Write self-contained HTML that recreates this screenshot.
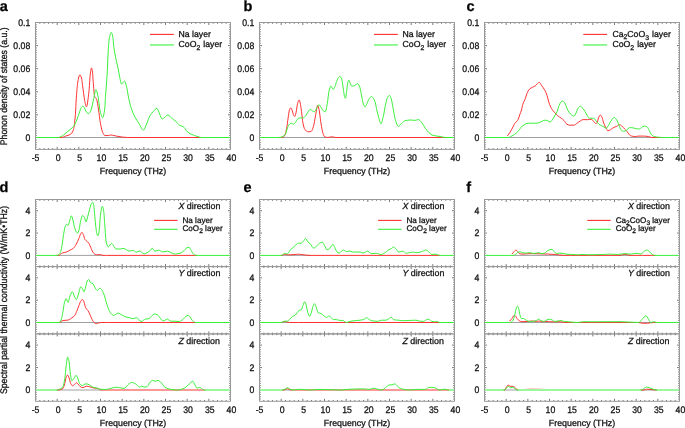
<!DOCTYPE html>
<html><head><meta charset="utf-8"><style>
html,body{margin:0;padding:0;background:#fff;width:685px;height:428px;overflow:hidden;font-family:"Liberation Sans", sans-serif;}
svg text{font-family:"Liberation Sans", sans-serif;stroke:#111;stroke-width:0.28px;text-rendering:geometricPrecision;}
svg{will-change:transform;}
</style></head><body>
<svg width="685" height="428" viewBox="0 0 685 428" style="position:absolute;left:0;top:0">
<rect width="685" height="428" fill="#fff"/>
<g stroke="#6a6a6a" stroke-width="0.9">
<line x1="39.83" y1="149.4" x2="39.83" y2="148.1"/>
<line x1="39.83" y1="22.5" x2="39.83" y2="23.8"/>
<line x1="44.17" y1="149.4" x2="44.17" y2="148.1"/>
<line x1="44.17" y1="22.5" x2="44.17" y2="23.8"/>
<line x1="48.5" y1="149.4" x2="48.5" y2="148.1"/>
<line x1="48.5" y1="22.5" x2="48.5" y2="23.8"/>
<line x1="52.83" y1="149.4" x2="52.83" y2="148.1"/>
<line x1="52.83" y1="22.5" x2="52.83" y2="23.8"/>
<line x1="57.17" y1="149.4" x2="57.17" y2="146.9"/>
<line x1="57.17" y1="22.5" x2="57.17" y2="25"/>
<line x1="61.5" y1="149.4" x2="61.5" y2="148.1"/>
<line x1="61.5" y1="22.5" x2="61.5" y2="23.8"/>
<line x1="65.83" y1="149.4" x2="65.83" y2="148.1"/>
<line x1="65.83" y1="22.5" x2="65.83" y2="23.8"/>
<line x1="70.17" y1="149.4" x2="70.17" y2="148.1"/>
<line x1="70.17" y1="22.5" x2="70.17" y2="23.8"/>
<line x1="74.5" y1="149.4" x2="74.5" y2="148.1"/>
<line x1="74.5" y1="22.5" x2="74.5" y2="23.8"/>
<line x1="78.83" y1="149.4" x2="78.83" y2="146.9"/>
<line x1="78.83" y1="22.5" x2="78.83" y2="25"/>
<line x1="83.17" y1="149.4" x2="83.17" y2="148.1"/>
<line x1="83.17" y1="22.5" x2="83.17" y2="23.8"/>
<line x1="87.5" y1="149.4" x2="87.5" y2="148.1"/>
<line x1="87.5" y1="22.5" x2="87.5" y2="23.8"/>
<line x1="91.83" y1="149.4" x2="91.83" y2="148.1"/>
<line x1="91.83" y1="22.5" x2="91.83" y2="23.8"/>
<line x1="96.17" y1="149.4" x2="96.17" y2="148.1"/>
<line x1="96.17" y1="22.5" x2="96.17" y2="23.8"/>
<line x1="100.5" y1="149.4" x2="100.5" y2="146.9"/>
<line x1="100.5" y1="22.5" x2="100.5" y2="25"/>
<line x1="104.83" y1="149.4" x2="104.83" y2="148.1"/>
<line x1="104.83" y1="22.5" x2="104.83" y2="23.8"/>
<line x1="109.17" y1="149.4" x2="109.17" y2="148.1"/>
<line x1="109.17" y1="22.5" x2="109.17" y2="23.8"/>
<line x1="113.5" y1="149.4" x2="113.5" y2="148.1"/>
<line x1="113.5" y1="22.5" x2="113.5" y2="23.8"/>
<line x1="117.83" y1="149.4" x2="117.83" y2="148.1"/>
<line x1="117.83" y1="22.5" x2="117.83" y2="23.8"/>
<line x1="122.17" y1="149.4" x2="122.17" y2="146.9"/>
<line x1="122.17" y1="22.5" x2="122.17" y2="25"/>
<line x1="126.5" y1="149.4" x2="126.5" y2="148.1"/>
<line x1="126.5" y1="22.5" x2="126.5" y2="23.8"/>
<line x1="130.83" y1="149.4" x2="130.83" y2="148.1"/>
<line x1="130.83" y1="22.5" x2="130.83" y2="23.8"/>
<line x1="135.17" y1="149.4" x2="135.17" y2="148.1"/>
<line x1="135.17" y1="22.5" x2="135.17" y2="23.8"/>
<line x1="139.5" y1="149.4" x2="139.5" y2="148.1"/>
<line x1="139.5" y1="22.5" x2="139.5" y2="23.8"/>
<line x1="143.83" y1="149.4" x2="143.83" y2="146.9"/>
<line x1="143.83" y1="22.5" x2="143.83" y2="25"/>
<line x1="148.17" y1="149.4" x2="148.17" y2="148.1"/>
<line x1="148.17" y1="22.5" x2="148.17" y2="23.8"/>
<line x1="152.5" y1="149.4" x2="152.5" y2="148.1"/>
<line x1="152.5" y1="22.5" x2="152.5" y2="23.8"/>
<line x1="156.83" y1="149.4" x2="156.83" y2="148.1"/>
<line x1="156.83" y1="22.5" x2="156.83" y2="23.8"/>
<line x1="161.17" y1="149.4" x2="161.17" y2="148.1"/>
<line x1="161.17" y1="22.5" x2="161.17" y2="23.8"/>
<line x1="165.5" y1="149.4" x2="165.5" y2="146.9"/>
<line x1="165.5" y1="22.5" x2="165.5" y2="25"/>
<line x1="169.83" y1="149.4" x2="169.83" y2="148.1"/>
<line x1="169.83" y1="22.5" x2="169.83" y2="23.8"/>
<line x1="174.17" y1="149.4" x2="174.17" y2="148.1"/>
<line x1="174.17" y1="22.5" x2="174.17" y2="23.8"/>
<line x1="178.5" y1="149.4" x2="178.5" y2="148.1"/>
<line x1="178.5" y1="22.5" x2="178.5" y2="23.8"/>
<line x1="182.83" y1="149.4" x2="182.83" y2="148.1"/>
<line x1="182.83" y1="22.5" x2="182.83" y2="23.8"/>
<line x1="187.17" y1="149.4" x2="187.17" y2="146.9"/>
<line x1="187.17" y1="22.5" x2="187.17" y2="25"/>
<line x1="191.5" y1="149.4" x2="191.5" y2="148.1"/>
<line x1="191.5" y1="22.5" x2="191.5" y2="23.8"/>
<line x1="195.83" y1="149.4" x2="195.83" y2="148.1"/>
<line x1="195.83" y1="22.5" x2="195.83" y2="23.8"/>
<line x1="200.17" y1="149.4" x2="200.17" y2="148.1"/>
<line x1="200.17" y1="22.5" x2="200.17" y2="23.8"/>
<line x1="204.5" y1="149.4" x2="204.5" y2="148.1"/>
<line x1="204.5" y1="22.5" x2="204.5" y2="23.8"/>
<line x1="208.83" y1="149.4" x2="208.83" y2="146.9"/>
<line x1="208.83" y1="22.5" x2="208.83" y2="25"/>
<line x1="213.17" y1="149.4" x2="213.17" y2="148.1"/>
<line x1="213.17" y1="22.5" x2="213.17" y2="23.8"/>
<line x1="217.5" y1="149.4" x2="217.5" y2="148.1"/>
<line x1="217.5" y1="22.5" x2="217.5" y2="23.8"/>
<line x1="221.83" y1="149.4" x2="221.83" y2="148.1"/>
<line x1="221.83" y1="22.5" x2="221.83" y2="23.8"/>
<line x1="226.17" y1="149.4" x2="226.17" y2="148.1"/>
<line x1="226.17" y1="22.5" x2="226.17" y2="23.8"/>
<line x1="35.5" y1="147.09" x2="36.8" y2="147.09"/>
<line x1="230.5" y1="147.09" x2="229.2" y2="147.09"/>
<line x1="35.5" y1="144.79" x2="36.8" y2="144.79"/>
<line x1="230.5" y1="144.79" x2="229.2" y2="144.79"/>
<line x1="35.5" y1="142.48" x2="36.8" y2="142.48"/>
<line x1="230.5" y1="142.48" x2="229.2" y2="142.48"/>
<line x1="35.5" y1="140.17" x2="36.8" y2="140.17"/>
<line x1="230.5" y1="140.17" x2="229.2" y2="140.17"/>
<line x1="35.5" y1="135.56" x2="36.8" y2="135.56"/>
<line x1="230.5" y1="135.56" x2="229.2" y2="135.56"/>
<line x1="35.5" y1="133.25" x2="36.8" y2="133.25"/>
<line x1="230.5" y1="133.25" x2="229.2" y2="133.25"/>
<line x1="35.5" y1="130.94" x2="36.8" y2="130.94"/>
<line x1="230.5" y1="130.94" x2="229.2" y2="130.94"/>
<line x1="35.5" y1="128.63" x2="36.8" y2="128.63"/>
<line x1="230.5" y1="128.63" x2="229.2" y2="128.63"/>
<line x1="35.5" y1="126.33" x2="36.8" y2="126.33"/>
<line x1="230.5" y1="126.33" x2="229.2" y2="126.33"/>
<line x1="35.5" y1="124.02" x2="36.8" y2="124.02"/>
<line x1="230.5" y1="124.02" x2="229.2" y2="124.02"/>
<line x1="35.5" y1="121.71" x2="36.8" y2="121.71"/>
<line x1="230.5" y1="121.71" x2="229.2" y2="121.71"/>
<line x1="35.5" y1="119.41" x2="36.8" y2="119.41"/>
<line x1="230.5" y1="119.41" x2="229.2" y2="119.41"/>
<line x1="35.5" y1="117.1" x2="36.8" y2="117.1"/>
<line x1="230.5" y1="117.1" x2="229.2" y2="117.1"/>
<line x1="35.5" y1="114.79" x2="38" y2="114.79"/>
<line x1="230.5" y1="114.79" x2="228" y2="114.79"/>
<line x1="35.5" y1="112.48" x2="36.8" y2="112.48"/>
<line x1="230.5" y1="112.48" x2="229.2" y2="112.48"/>
<line x1="35.5" y1="110.18" x2="36.8" y2="110.18"/>
<line x1="230.5" y1="110.18" x2="229.2" y2="110.18"/>
<line x1="35.5" y1="107.87" x2="36.8" y2="107.87"/>
<line x1="230.5" y1="107.87" x2="229.2" y2="107.87"/>
<line x1="35.5" y1="105.56" x2="36.8" y2="105.56"/>
<line x1="230.5" y1="105.56" x2="229.2" y2="105.56"/>
<line x1="35.5" y1="103.25" x2="36.8" y2="103.25"/>
<line x1="230.5" y1="103.25" x2="229.2" y2="103.25"/>
<line x1="35.5" y1="100.95" x2="36.8" y2="100.95"/>
<line x1="230.5" y1="100.95" x2="229.2" y2="100.95"/>
<line x1="35.5" y1="98.64" x2="36.8" y2="98.64"/>
<line x1="230.5" y1="98.64" x2="229.2" y2="98.64"/>
<line x1="35.5" y1="96.33" x2="36.8" y2="96.33"/>
<line x1="230.5" y1="96.33" x2="229.2" y2="96.33"/>
<line x1="35.5" y1="94.03" x2="36.8" y2="94.03"/>
<line x1="230.5" y1="94.03" x2="229.2" y2="94.03"/>
<line x1="35.5" y1="91.72" x2="38" y2="91.72"/>
<line x1="230.5" y1="91.72" x2="228" y2="91.72"/>
<line x1="35.5" y1="89.41" x2="36.8" y2="89.41"/>
<line x1="230.5" y1="89.41" x2="229.2" y2="89.41"/>
<line x1="35.5" y1="87.1" x2="36.8" y2="87.1"/>
<line x1="230.5" y1="87.1" x2="229.2" y2="87.1"/>
<line x1="35.5" y1="84.8" x2="36.8" y2="84.8"/>
<line x1="230.5" y1="84.8" x2="229.2" y2="84.8"/>
<line x1="35.5" y1="82.49" x2="36.8" y2="82.49"/>
<line x1="230.5" y1="82.49" x2="229.2" y2="82.49"/>
<line x1="35.5" y1="80.18" x2="36.8" y2="80.18"/>
<line x1="230.5" y1="80.18" x2="229.2" y2="80.18"/>
<line x1="35.5" y1="77.87" x2="36.8" y2="77.87"/>
<line x1="230.5" y1="77.87" x2="229.2" y2="77.87"/>
<line x1="35.5" y1="75.57" x2="36.8" y2="75.57"/>
<line x1="230.5" y1="75.57" x2="229.2" y2="75.57"/>
<line x1="35.5" y1="73.26" x2="36.8" y2="73.26"/>
<line x1="230.5" y1="73.26" x2="229.2" y2="73.26"/>
<line x1="35.5" y1="70.95" x2="36.8" y2="70.95"/>
<line x1="230.5" y1="70.95" x2="229.2" y2="70.95"/>
<line x1="35.5" y1="68.65" x2="38" y2="68.65"/>
<line x1="230.5" y1="68.65" x2="228" y2="68.65"/>
<line x1="35.5" y1="66.34" x2="36.8" y2="66.34"/>
<line x1="230.5" y1="66.34" x2="229.2" y2="66.34"/>
<line x1="35.5" y1="64.03" x2="36.8" y2="64.03"/>
<line x1="230.5" y1="64.03" x2="229.2" y2="64.03"/>
<line x1="35.5" y1="61.72" x2="36.8" y2="61.72"/>
<line x1="230.5" y1="61.72" x2="229.2" y2="61.72"/>
<line x1="35.5" y1="59.42" x2="36.8" y2="59.42"/>
<line x1="230.5" y1="59.42" x2="229.2" y2="59.42"/>
<line x1="35.5" y1="57.11" x2="36.8" y2="57.11"/>
<line x1="230.5" y1="57.11" x2="229.2" y2="57.11"/>
<line x1="35.5" y1="54.8" x2="36.8" y2="54.8"/>
<line x1="230.5" y1="54.8" x2="229.2" y2="54.8"/>
<line x1="35.5" y1="52.49" x2="36.8" y2="52.49"/>
<line x1="230.5" y1="52.49" x2="229.2" y2="52.49"/>
<line x1="35.5" y1="50.19" x2="36.8" y2="50.19"/>
<line x1="230.5" y1="50.19" x2="229.2" y2="50.19"/>
<line x1="35.5" y1="47.88" x2="36.8" y2="47.88"/>
<line x1="230.5" y1="47.88" x2="229.2" y2="47.88"/>
<line x1="35.5" y1="45.57" x2="38" y2="45.57"/>
<line x1="230.5" y1="45.57" x2="228" y2="45.57"/>
<line x1="35.5" y1="43.27" x2="36.8" y2="43.27"/>
<line x1="230.5" y1="43.27" x2="229.2" y2="43.27"/>
<line x1="35.5" y1="40.96" x2="36.8" y2="40.96"/>
<line x1="230.5" y1="40.96" x2="229.2" y2="40.96"/>
<line x1="35.5" y1="38.65" x2="36.8" y2="38.65"/>
<line x1="230.5" y1="38.65" x2="229.2" y2="38.65"/>
<line x1="35.5" y1="36.34" x2="36.8" y2="36.34"/>
<line x1="230.5" y1="36.34" x2="229.2" y2="36.34"/>
<line x1="35.5" y1="34.04" x2="36.8" y2="34.04"/>
<line x1="230.5" y1="34.04" x2="229.2" y2="34.04"/>
<line x1="35.5" y1="31.73" x2="36.8" y2="31.73"/>
<line x1="230.5" y1="31.73" x2="229.2" y2="31.73"/>
<line x1="35.5" y1="29.42" x2="36.8" y2="29.42"/>
<line x1="230.5" y1="29.42" x2="229.2" y2="29.42"/>
<line x1="35.5" y1="27.11" x2="36.8" y2="27.11"/>
<line x1="230.5" y1="27.11" x2="229.2" y2="27.11"/>
<line x1="35.5" y1="24.81" x2="36.8" y2="24.81"/>
<line x1="230.5" y1="24.81" x2="229.2" y2="24.81"/>
</g>
<line x1="61.1" y1="137.5" x2="128.7" y2="137.5" stroke="#a0a0a0" stroke-width="1"/>
<mask id="m0" maskUnits="userSpaceOnUse" x="0" y="0" width="685" height="428"><rect x="0" y="0" width="685" height="428" fill="#fff"/><rect x="33.5" y="136" width="23.9" height="3" fill="#000"/><rect x="201.7" y="136" width="30.8" height="3" fill="#000"/></mask>
<g fill="none" stroke-width="1.0" stroke-linejoin="round">
<path d="M35.5,137.5L59.5,137.5C60.33,137.5 61.17,137.5 62,137.5C62.93,137.5 63.87,136.63 64.8,136.3C66.17,135.82 67.53,135.67 68.9,135.1C69.87,134.69 70.83,134.13 71.8,133.1C72.3,132.56 72.8,131.6 73.3,130.2C73.6,129.36 73.9,127.94 74.2,126.1C74.4,124.87 74.6,122.72 74.8,120.8C75,118.88 75.2,117.1 75.4,114.5C75.7,110.6 76,102.56 76.3,98.4C76.8,91.47 77.3,84.69 77.8,82C78.5,78.24 79.2,74.8 79.9,74.8C80.43,74.8 80.97,76.28 81.5,78C81.87,79.18 82.23,83.22 82.6,85.8C83.3,90.73 84,97.14 84.7,100.5C85.27,103.22 85.83,106.8 86.4,106.8C87.23,106.8 88.07,99.08 88.9,92.1C89.37,88.19 89.83,77.37 90.3,74C90.7,71.11 91.1,67.9 91.5,67.9C91.83,67.9 92.17,69.83 92.5,72C92.73,73.52 92.97,78.78 93.2,81.6C93.67,87.23 94.13,94.99 94.6,96.3C95.3,98.26 96,97.79 96.7,99.5C97.27,100.88 97.83,105.4 98.4,108.9C99.1,113.22 99.8,120.16 100.5,123.7C101.27,127.57 102.03,131.19 102.8,132.7C103.53,134.14 104.27,135.6 105,135.6C106.13,135.6 107.27,135.56 108.4,135.5C109.33,135.45 110.27,135 111.2,135C112.13,135 113.07,135.41 114,135.6C115.33,135.88 116.67,136.2 118,136.4C121.27,136.89 124.53,137.5 127.8,137.5L140,137.5L230.5,137.5" stroke="#ff3030" mask="url(#m0)"/>
<path d="M35.5,137.5L58.3,137.5C59.27,137.5 60.23,136.95 61.2,136.5C62.03,136.12 62.87,135.42 63.7,134.8C64.87,133.93 66.03,132.87 67.2,131.9C68.37,130.93 69.53,130.01 70.7,129C71.67,128.17 72.63,127.58 73.6,126.4C74.2,125.67 74.8,124.43 75.4,123.2C75.97,122.04 76.53,120.57 77.1,119.1C77.77,117.38 78.43,115.37 79.1,113.5C79.8,111.54 80.5,108.55 81.2,107.6C81.7,106.92 82.2,106.2 82.7,106.2C83.3,106.2 83.9,107 84.5,107.8C84.93,108.38 85.37,110.37 85.8,111C86.7,112.31 87.6,113.6 88.5,113.6C89.33,113.6 90.17,111.76 91,110C91.93,108.02 92.87,102.29 93.8,98.4C94.5,95.48 95.2,89.6 95.9,89.6C96.6,89.6 97.3,93.23 98,96.3C98.7,99.37 99.4,108.35 100.1,111C100.97,114.28 101.83,117.6 102.7,117.6C103.37,117.6 104.03,113.84 104.7,109C105,106.82 105.3,99.15 105.6,95C105.87,91.31 106.13,88.65 106.4,85C106.7,80.89 107,76.81 107.3,71.3C107.57,66.41 107.83,57.43 108.1,53C108.47,46.91 108.83,41 109.2,39C109.9,35.19 110.6,32.3 111.3,32.3C111.77,32.3 112.23,34.21 112.7,36.2C113.17,38.19 113.63,45.71 114.1,48.9C114.8,53.68 115.5,56.68 116.2,60.1C116.93,63.68 117.67,66.39 118.4,70C119,72.95 119.6,77.31 120.2,79.7C120.67,81.56 121.13,84.2 121.6,84.2C122.07,84.2 122.53,82.99 123,82.5C123.5,81.97 124,81.1 124.5,81.1C125.17,81.1 125.83,83.96 126.5,86.3C127.2,88.76 127.9,94.59 128.6,97.8C129.43,101.63 130.27,105 131.1,107.6C132.17,110.93 133.23,113.63 134.3,115.8C135.97,119.19 137.63,121.35 139.3,124C140.63,126.12 141.97,130.2 143.3,130.2C144.4,130.2 145.5,126.35 146.6,124C147.7,121.65 148.8,117.66 149.9,115.8C150.97,114 152.03,112.81 153.1,111.7C154.37,110.38 155.63,108.4 156.9,108.4C157.83,108.4 158.77,112.2 159.7,114.1C160.5,115.73 161.3,119 162.1,119C162.93,119 163.77,117.97 164.6,117.4C165.7,116.65 166.8,115 167.9,115C168.6,115 169.3,115.85 170,116.4C170.93,117.14 171.87,118.43 172.8,119.2C173.9,120.11 175,120.54 176.1,121.5C177.17,122.43 178.23,124.6 179.3,125.2C180.57,125.92 181.83,125.88 183.1,126.6C183.73,126.96 184.37,127.76 185,128.5C185.77,129.4 186.53,131.13 187.3,131.8C188.4,132.76 189.5,133.22 190.6,133.8C191.83,134.45 193.07,135.05 194.3,135.5C195.53,135.95 196.77,136.22 198,136.6C198.93,136.89 199.87,137.5 200.8,137.5L230.5,137.5" stroke="#38f038"/>
</g>
<rect x="35.5" y="22.5" width="195" height="126.9" fill="none" stroke="#999999" stroke-width="1"/>
<g fill="#111" font-family='"Liberation Sans", sans-serif'>
<text transform="matrix(0.906,0,0,1,30.3,141)" text-anchor="end" font-size="9.6">0</text>
<text transform="matrix(0.906,0,0,1,30.3,118)" text-anchor="end" font-size="9.6">0.02</text>
<text transform="matrix(0.906,0,0,1,30.3,95)" text-anchor="end" font-size="9.6">0.04</text>
<text transform="matrix(0.906,0,0,1,30.3,72)" text-anchor="end" font-size="9.6">0.06</text>
<text transform="matrix(0.906,0,0,1,30.3,49)" text-anchor="end" font-size="9.6">0.08</text>
<text transform="matrix(0.906,0,0,1,30.3,26)" text-anchor="end" font-size="9.6">0.1</text>
<text transform="matrix(0.906,0,0,1,35.5,161)" text-anchor="middle" font-size="9.6">-5</text>
<text transform="matrix(0.906,0,0,1,58.07,161)" text-anchor="middle" font-size="9.6">0</text>
<text transform="matrix(0.906,0,0,1,79.73,161)" text-anchor="middle" font-size="9.6">5</text>
<text transform="matrix(0.906,0,0,1,101.4,161)" text-anchor="middle" font-size="9.6">10</text>
<text transform="matrix(0.906,0,0,1,123.07,161)" text-anchor="middle" font-size="9.6">15</text>
<text transform="matrix(0.906,0,0,1,144.73,161)" text-anchor="middle" font-size="9.6">20</text>
<text transform="matrix(0.906,0,0,1,166.4,161)" text-anchor="middle" font-size="9.6">25</text>
<text transform="matrix(0.906,0,0,1,188.07,161)" text-anchor="middle" font-size="9.6">30</text>
<text transform="matrix(0.906,0,0,1,209.73,161)" text-anchor="middle" font-size="9.6">35</text>
<text transform="matrix(0.906,0,0,1,231.4,161)" text-anchor="middle" font-size="9.6">40</text>
<text x="133" y="173.8" text-anchor="middle" font-size="8.85" font-weight="normal" font-style="normal">Frequency (THz)</text>
<line x1="150" y1="34.4" x2="173.8" y2="34.4" stroke="#ff3030" stroke-width="1.1"/>
<line x1="150" y1="44.95" x2="173.8" y2="44.95" stroke="#38f038" stroke-width="1.1"/>
<text x="178.6" y="37.3" text-anchor="start" font-size="8.7" font-weight="normal" font-style="normal">Na layer</text>
<text x="178.6" y="47.1" text-anchor="start" font-size="8.7" font-weight="normal" font-style="normal">CoO<tspan font-size="6.9" dy="2.4">2</tspan><tspan dy="-2.4" dx="0.6"> layer</tspan></text>
</g>
<g stroke="#6a6a6a" stroke-width="0.9">
<line x1="263.83" y1="149.4" x2="263.83" y2="148.1"/>
<line x1="263.83" y1="22.5" x2="263.83" y2="23.8"/>
<line x1="268.17" y1="149.4" x2="268.17" y2="148.1"/>
<line x1="268.17" y1="22.5" x2="268.17" y2="23.8"/>
<line x1="272.5" y1="149.4" x2="272.5" y2="148.1"/>
<line x1="272.5" y1="22.5" x2="272.5" y2="23.8"/>
<line x1="276.83" y1="149.4" x2="276.83" y2="148.1"/>
<line x1="276.83" y1="22.5" x2="276.83" y2="23.8"/>
<line x1="281.17" y1="149.4" x2="281.17" y2="146.9"/>
<line x1="281.17" y1="22.5" x2="281.17" y2="25"/>
<line x1="285.5" y1="149.4" x2="285.5" y2="148.1"/>
<line x1="285.5" y1="22.5" x2="285.5" y2="23.8"/>
<line x1="289.83" y1="149.4" x2="289.83" y2="148.1"/>
<line x1="289.83" y1="22.5" x2="289.83" y2="23.8"/>
<line x1="294.17" y1="149.4" x2="294.17" y2="148.1"/>
<line x1="294.17" y1="22.5" x2="294.17" y2="23.8"/>
<line x1="298.5" y1="149.4" x2="298.5" y2="148.1"/>
<line x1="298.5" y1="22.5" x2="298.5" y2="23.8"/>
<line x1="302.83" y1="149.4" x2="302.83" y2="146.9"/>
<line x1="302.83" y1="22.5" x2="302.83" y2="25"/>
<line x1="307.17" y1="149.4" x2="307.17" y2="148.1"/>
<line x1="307.17" y1="22.5" x2="307.17" y2="23.8"/>
<line x1="311.5" y1="149.4" x2="311.5" y2="148.1"/>
<line x1="311.5" y1="22.5" x2="311.5" y2="23.8"/>
<line x1="315.83" y1="149.4" x2="315.83" y2="148.1"/>
<line x1="315.83" y1="22.5" x2="315.83" y2="23.8"/>
<line x1="320.17" y1="149.4" x2="320.17" y2="148.1"/>
<line x1="320.17" y1="22.5" x2="320.17" y2="23.8"/>
<line x1="324.5" y1="149.4" x2="324.5" y2="146.9"/>
<line x1="324.5" y1="22.5" x2="324.5" y2="25"/>
<line x1="328.83" y1="149.4" x2="328.83" y2="148.1"/>
<line x1="328.83" y1="22.5" x2="328.83" y2="23.8"/>
<line x1="333.17" y1="149.4" x2="333.17" y2="148.1"/>
<line x1="333.17" y1="22.5" x2="333.17" y2="23.8"/>
<line x1="337.5" y1="149.4" x2="337.5" y2="148.1"/>
<line x1="337.5" y1="22.5" x2="337.5" y2="23.8"/>
<line x1="341.83" y1="149.4" x2="341.83" y2="148.1"/>
<line x1="341.83" y1="22.5" x2="341.83" y2="23.8"/>
<line x1="346.17" y1="149.4" x2="346.17" y2="146.9"/>
<line x1="346.17" y1="22.5" x2="346.17" y2="25"/>
<line x1="350.5" y1="149.4" x2="350.5" y2="148.1"/>
<line x1="350.5" y1="22.5" x2="350.5" y2="23.8"/>
<line x1="354.83" y1="149.4" x2="354.83" y2="148.1"/>
<line x1="354.83" y1="22.5" x2="354.83" y2="23.8"/>
<line x1="359.17" y1="149.4" x2="359.17" y2="148.1"/>
<line x1="359.17" y1="22.5" x2="359.17" y2="23.8"/>
<line x1="363.5" y1="149.4" x2="363.5" y2="148.1"/>
<line x1="363.5" y1="22.5" x2="363.5" y2="23.8"/>
<line x1="367.83" y1="149.4" x2="367.83" y2="146.9"/>
<line x1="367.83" y1="22.5" x2="367.83" y2="25"/>
<line x1="372.17" y1="149.4" x2="372.17" y2="148.1"/>
<line x1="372.17" y1="22.5" x2="372.17" y2="23.8"/>
<line x1="376.5" y1="149.4" x2="376.5" y2="148.1"/>
<line x1="376.5" y1="22.5" x2="376.5" y2="23.8"/>
<line x1="380.83" y1="149.4" x2="380.83" y2="148.1"/>
<line x1="380.83" y1="22.5" x2="380.83" y2="23.8"/>
<line x1="385.17" y1="149.4" x2="385.17" y2="148.1"/>
<line x1="385.17" y1="22.5" x2="385.17" y2="23.8"/>
<line x1="389.5" y1="149.4" x2="389.5" y2="146.9"/>
<line x1="389.5" y1="22.5" x2="389.5" y2="25"/>
<line x1="393.83" y1="149.4" x2="393.83" y2="148.1"/>
<line x1="393.83" y1="22.5" x2="393.83" y2="23.8"/>
<line x1="398.17" y1="149.4" x2="398.17" y2="148.1"/>
<line x1="398.17" y1="22.5" x2="398.17" y2="23.8"/>
<line x1="402.5" y1="149.4" x2="402.5" y2="148.1"/>
<line x1="402.5" y1="22.5" x2="402.5" y2="23.8"/>
<line x1="406.83" y1="149.4" x2="406.83" y2="148.1"/>
<line x1="406.83" y1="22.5" x2="406.83" y2="23.8"/>
<line x1="411.17" y1="149.4" x2="411.17" y2="146.9"/>
<line x1="411.17" y1="22.5" x2="411.17" y2="25"/>
<line x1="415.5" y1="149.4" x2="415.5" y2="148.1"/>
<line x1="415.5" y1="22.5" x2="415.5" y2="23.8"/>
<line x1="419.83" y1="149.4" x2="419.83" y2="148.1"/>
<line x1="419.83" y1="22.5" x2="419.83" y2="23.8"/>
<line x1="424.17" y1="149.4" x2="424.17" y2="148.1"/>
<line x1="424.17" y1="22.5" x2="424.17" y2="23.8"/>
<line x1="428.5" y1="149.4" x2="428.5" y2="148.1"/>
<line x1="428.5" y1="22.5" x2="428.5" y2="23.8"/>
<line x1="432.83" y1="149.4" x2="432.83" y2="146.9"/>
<line x1="432.83" y1="22.5" x2="432.83" y2="25"/>
<line x1="437.17" y1="149.4" x2="437.17" y2="148.1"/>
<line x1="437.17" y1="22.5" x2="437.17" y2="23.8"/>
<line x1="441.5" y1="149.4" x2="441.5" y2="148.1"/>
<line x1="441.5" y1="22.5" x2="441.5" y2="23.8"/>
<line x1="445.83" y1="149.4" x2="445.83" y2="148.1"/>
<line x1="445.83" y1="22.5" x2="445.83" y2="23.8"/>
<line x1="450.17" y1="149.4" x2="450.17" y2="148.1"/>
<line x1="450.17" y1="22.5" x2="450.17" y2="23.8"/>
<line x1="259.5" y1="147.09" x2="260.8" y2="147.09"/>
<line x1="454.5" y1="147.09" x2="453.2" y2="147.09"/>
<line x1="259.5" y1="144.79" x2="260.8" y2="144.79"/>
<line x1="454.5" y1="144.79" x2="453.2" y2="144.79"/>
<line x1="259.5" y1="142.48" x2="260.8" y2="142.48"/>
<line x1="454.5" y1="142.48" x2="453.2" y2="142.48"/>
<line x1="259.5" y1="140.17" x2="260.8" y2="140.17"/>
<line x1="454.5" y1="140.17" x2="453.2" y2="140.17"/>
<line x1="259.5" y1="135.56" x2="260.8" y2="135.56"/>
<line x1="454.5" y1="135.56" x2="453.2" y2="135.56"/>
<line x1="259.5" y1="133.25" x2="260.8" y2="133.25"/>
<line x1="454.5" y1="133.25" x2="453.2" y2="133.25"/>
<line x1="259.5" y1="130.94" x2="260.8" y2="130.94"/>
<line x1="454.5" y1="130.94" x2="453.2" y2="130.94"/>
<line x1="259.5" y1="128.63" x2="260.8" y2="128.63"/>
<line x1="454.5" y1="128.63" x2="453.2" y2="128.63"/>
<line x1="259.5" y1="126.33" x2="260.8" y2="126.33"/>
<line x1="454.5" y1="126.33" x2="453.2" y2="126.33"/>
<line x1="259.5" y1="124.02" x2="260.8" y2="124.02"/>
<line x1="454.5" y1="124.02" x2="453.2" y2="124.02"/>
<line x1="259.5" y1="121.71" x2="260.8" y2="121.71"/>
<line x1="454.5" y1="121.71" x2="453.2" y2="121.71"/>
<line x1="259.5" y1="119.41" x2="260.8" y2="119.41"/>
<line x1="454.5" y1="119.41" x2="453.2" y2="119.41"/>
<line x1="259.5" y1="117.1" x2="260.8" y2="117.1"/>
<line x1="454.5" y1="117.1" x2="453.2" y2="117.1"/>
<line x1="259.5" y1="114.79" x2="262" y2="114.79"/>
<line x1="454.5" y1="114.79" x2="452" y2="114.79"/>
<line x1="259.5" y1="112.48" x2="260.8" y2="112.48"/>
<line x1="454.5" y1="112.48" x2="453.2" y2="112.48"/>
<line x1="259.5" y1="110.18" x2="260.8" y2="110.18"/>
<line x1="454.5" y1="110.18" x2="453.2" y2="110.18"/>
<line x1="259.5" y1="107.87" x2="260.8" y2="107.87"/>
<line x1="454.5" y1="107.87" x2="453.2" y2="107.87"/>
<line x1="259.5" y1="105.56" x2="260.8" y2="105.56"/>
<line x1="454.5" y1="105.56" x2="453.2" y2="105.56"/>
<line x1="259.5" y1="103.25" x2="260.8" y2="103.25"/>
<line x1="454.5" y1="103.25" x2="453.2" y2="103.25"/>
<line x1="259.5" y1="100.95" x2="260.8" y2="100.95"/>
<line x1="454.5" y1="100.95" x2="453.2" y2="100.95"/>
<line x1="259.5" y1="98.64" x2="260.8" y2="98.64"/>
<line x1="454.5" y1="98.64" x2="453.2" y2="98.64"/>
<line x1="259.5" y1="96.33" x2="260.8" y2="96.33"/>
<line x1="454.5" y1="96.33" x2="453.2" y2="96.33"/>
<line x1="259.5" y1="94.03" x2="260.8" y2="94.03"/>
<line x1="454.5" y1="94.03" x2="453.2" y2="94.03"/>
<line x1="259.5" y1="91.72" x2="262" y2="91.72"/>
<line x1="454.5" y1="91.72" x2="452" y2="91.72"/>
<line x1="259.5" y1="89.41" x2="260.8" y2="89.41"/>
<line x1="454.5" y1="89.41" x2="453.2" y2="89.41"/>
<line x1="259.5" y1="87.1" x2="260.8" y2="87.1"/>
<line x1="454.5" y1="87.1" x2="453.2" y2="87.1"/>
<line x1="259.5" y1="84.8" x2="260.8" y2="84.8"/>
<line x1="454.5" y1="84.8" x2="453.2" y2="84.8"/>
<line x1="259.5" y1="82.49" x2="260.8" y2="82.49"/>
<line x1="454.5" y1="82.49" x2="453.2" y2="82.49"/>
<line x1="259.5" y1="80.18" x2="260.8" y2="80.18"/>
<line x1="454.5" y1="80.18" x2="453.2" y2="80.18"/>
<line x1="259.5" y1="77.87" x2="260.8" y2="77.87"/>
<line x1="454.5" y1="77.87" x2="453.2" y2="77.87"/>
<line x1="259.5" y1="75.57" x2="260.8" y2="75.57"/>
<line x1="454.5" y1="75.57" x2="453.2" y2="75.57"/>
<line x1="259.5" y1="73.26" x2="260.8" y2="73.26"/>
<line x1="454.5" y1="73.26" x2="453.2" y2="73.26"/>
<line x1="259.5" y1="70.95" x2="260.8" y2="70.95"/>
<line x1="454.5" y1="70.95" x2="453.2" y2="70.95"/>
<line x1="259.5" y1="68.65" x2="262" y2="68.65"/>
<line x1="454.5" y1="68.65" x2="452" y2="68.65"/>
<line x1="259.5" y1="66.34" x2="260.8" y2="66.34"/>
<line x1="454.5" y1="66.34" x2="453.2" y2="66.34"/>
<line x1="259.5" y1="64.03" x2="260.8" y2="64.03"/>
<line x1="454.5" y1="64.03" x2="453.2" y2="64.03"/>
<line x1="259.5" y1="61.72" x2="260.8" y2="61.72"/>
<line x1="454.5" y1="61.72" x2="453.2" y2="61.72"/>
<line x1="259.5" y1="59.42" x2="260.8" y2="59.42"/>
<line x1="454.5" y1="59.42" x2="453.2" y2="59.42"/>
<line x1="259.5" y1="57.11" x2="260.8" y2="57.11"/>
<line x1="454.5" y1="57.11" x2="453.2" y2="57.11"/>
<line x1="259.5" y1="54.8" x2="260.8" y2="54.8"/>
<line x1="454.5" y1="54.8" x2="453.2" y2="54.8"/>
<line x1="259.5" y1="52.49" x2="260.8" y2="52.49"/>
<line x1="454.5" y1="52.49" x2="453.2" y2="52.49"/>
<line x1="259.5" y1="50.19" x2="260.8" y2="50.19"/>
<line x1="454.5" y1="50.19" x2="453.2" y2="50.19"/>
<line x1="259.5" y1="47.88" x2="260.8" y2="47.88"/>
<line x1="454.5" y1="47.88" x2="453.2" y2="47.88"/>
<line x1="259.5" y1="45.57" x2="262" y2="45.57"/>
<line x1="454.5" y1="45.57" x2="452" y2="45.57"/>
<line x1="259.5" y1="43.27" x2="260.8" y2="43.27"/>
<line x1="454.5" y1="43.27" x2="453.2" y2="43.27"/>
<line x1="259.5" y1="40.96" x2="260.8" y2="40.96"/>
<line x1="454.5" y1="40.96" x2="453.2" y2="40.96"/>
<line x1="259.5" y1="38.65" x2="260.8" y2="38.65"/>
<line x1="454.5" y1="38.65" x2="453.2" y2="38.65"/>
<line x1="259.5" y1="36.34" x2="260.8" y2="36.34"/>
<line x1="454.5" y1="36.34" x2="453.2" y2="36.34"/>
<line x1="259.5" y1="34.04" x2="260.8" y2="34.04"/>
<line x1="454.5" y1="34.04" x2="453.2" y2="34.04"/>
<line x1="259.5" y1="31.73" x2="260.8" y2="31.73"/>
<line x1="454.5" y1="31.73" x2="453.2" y2="31.73"/>
<line x1="259.5" y1="29.42" x2="260.8" y2="29.42"/>
<line x1="454.5" y1="29.42" x2="453.2" y2="29.42"/>
<line x1="259.5" y1="27.11" x2="260.8" y2="27.11"/>
<line x1="454.5" y1="27.11" x2="453.2" y2="27.11"/>
<line x1="259.5" y1="24.81" x2="260.8" y2="24.81"/>
<line x1="454.5" y1="24.81" x2="453.2" y2="24.81"/>
</g>
<line x1="281.5" y1="137.5" x2="336.9" y2="137.5" stroke="#a0a0a0" stroke-width="1"/>
<mask id="m1" maskUnits="userSpaceOnUse" x="0" y="0" width="685" height="428"><rect x="0" y="0" width="685" height="428" fill="#fff"/><rect x="257.5" y="136" width="20.8" height="3" fill="#000"/><rect x="446.6" y="136" width="9.9" height="3" fill="#000"/></mask>
<g fill="none" stroke-width="1.0" stroke-linejoin="round">
<path d="M259.5,137.5L282.4,137.5C283.27,137.5 284.13,136.35 285,134.9C285.53,134.01 286.07,131.3 286.6,128.6C287.1,126.07 287.6,121.33 288.1,118.1C288.57,115.09 289.03,110.79 289.5,109.7C289.93,108.69 290.37,107.8 290.8,107.8C291.3,107.8 291.8,109.54 292.3,110.8C292.77,111.97 293.23,114.85 293.7,115.5C294.07,116.01 294.43,116.5 294.8,116.5C295.2,116.5 295.6,114.47 296,112.9C296.53,110.81 297.07,105.07 297.6,103.4C298.13,101.73 298.67,100 299.2,100C299.63,100 300.07,102.47 300.5,104.5C300.93,106.53 301.37,110.52 301.8,113.9C302.13,116.5 302.47,120.61 302.8,122.3C303.53,126.02 304.27,128.93 305,129.7C306.2,130.96 307.4,131.8 308.6,131.8C309.5,131.8 310.4,131.62 311.3,131.3C312,131.05 312.7,128.7 313.4,126.5C314.1,124.3 314.8,119.53 315.5,116C316.2,112.47 316.9,105.3 317.6,105.3C318.1,105.3 318.6,107.62 319.1,109.7C319.63,111.92 320.17,117.84 320.7,121.3C321.23,124.76 321.77,128.66 322.3,130.7C323,133.37 323.7,136.07 324.4,136.5C325.43,137.13 326.47,137.5 327.5,137.5C328.9,137.5 330.3,136.8 331.7,136.8C333.13,136.8 334.57,137.5 336,137.5L454.5,137.5" stroke="#ff3030" mask="url(#m1)"/>
<path d="M259.5,137.5L279.2,137.5C280.43,137.5 281.67,137.04 282.9,136.5C283.77,136.12 284.63,135.22 285.5,133.9C286.2,132.83 286.9,129.15 287.6,127.6C288.3,126.05 289,124.38 289.7,123.9C290.23,123.54 290.77,123.2 291.3,123.2C292,123.2 292.7,124.2 293.4,124.2C294.1,124.2 294.8,123.07 295.5,122.3C296.37,121.35 297.23,119.06 298.1,118.6C298.8,118.23 299.5,117.9 300.2,117.9C301.07,117.9 301.93,117.9 302.8,117.9C303.7,117.9 304.6,116.88 305.5,116C306.37,115.15 307.23,112.95 308.1,111.8C308.8,110.87 309.5,109.4 310.2,109.4C310.9,109.4 311.6,110.41 312.3,110.8C313,111.19 313.7,111.8 314.4,111.8C315.1,111.8 315.8,109.79 316.5,108.7C317.3,107.45 318.1,104.7 318.9,104.7C319.67,104.7 320.43,106.54 321.2,107.6C321.9,108.57 322.6,110.26 323.3,110.8C323.93,111.29 324.57,111.8 325.2,111.8C325.9,111.8 326.6,107.08 327.3,103.5C327.9,100.43 328.5,93.08 329.1,90.7C329.67,88.45 330.23,86 330.8,86C331.6,86 332.4,89.3 333.2,89.3C333.77,89.3 334.33,87.77 334.9,86.6C335.5,85.37 336.1,82.8 336.7,81.3C337.27,79.88 337.83,78.26 338.4,77.6C338.9,77.02 339.4,76.4 339.9,76.4C340.47,76.4 341.03,77.51 341.6,78.8C342.1,79.94 342.6,84.13 343.1,87.2C343.5,89.66 343.9,93.76 344.3,95.3C344.67,96.72 345.03,98.3 345.4,98.3C345.8,98.3 346.2,94.35 346.6,91.8C347,89.25 347.4,83.81 347.8,82.5C348.17,81.3 348.53,80.2 348.9,80.2C349.3,80.2 349.7,82.26 350.1,83.1C350.67,84.29 351.23,86.2 351.8,86.2C352.8,86.2 353.8,85.77 354.8,85.4C355.77,85.04 356.73,83.7 357.7,83.7C358.27,83.7 358.83,84.84 359.4,86C360,87.22 360.6,90.81 361.2,93.6C361.77,96.24 362.33,100.63 362.9,102.4C363.6,104.59 364.3,107 365,107C365.67,107 366.33,104.79 367,103.5C367.8,101.96 368.6,99.27 369.4,98.3C370.1,97.45 370.8,96.5 371.5,96.5C372.13,96.5 372.77,97.45 373.4,98.3C374,99.11 374.6,100.54 375.2,102.4C375.77,104.15 376.33,108.07 376.9,110.5C377.5,113.07 378.1,115.51 378.7,117.5C379.43,119.93 380.17,123.8 380.9,123.8C381.7,123.8 382.5,119.63 383.3,116.5C384,113.76 384.7,108.25 385.4,105.2C386.1,102.15 386.8,98.68 387.5,97.5C388.13,96.43 388.77,95.4 389.4,95.4C389.93,95.4 390.47,96.87 391,98.2C391.7,99.95 392.4,104.6 393.1,108.1C393.8,111.6 394.5,117.02 395.2,119.3C396.23,122.67 397.27,126.3 398.3,126.3C399.4,126.3 400.5,124.41 401.6,123.5C402.77,122.54 403.93,120.97 405.1,120.7C406.97,120.27 408.83,120 410.7,120C412.1,120 413.5,120.4 414.9,120.4C416.07,120.4 417.23,119.6 418.4,119.6C419.57,119.6 420.73,121.44 421.9,122.8C423.07,124.16 424.23,126.8 425.4,128.4C426.57,130 427.73,131.59 428.9,132.6C430.3,133.81 431.7,135.02 433.1,135.4C435.43,136.03 437.77,136.11 440.1,136.5C441.97,136.81 443.83,137.5 445.7,137.5L454.5,137.5" stroke="#38f038"/>
</g>
<rect x="259.5" y="22.5" width="195" height="126.9" fill="none" stroke="#999999" stroke-width="1"/>
<g fill="#111" font-family='"Liberation Sans", sans-serif'>
<text transform="matrix(0.906,0,0,1,254.3,141)" text-anchor="end" font-size="9.6">0</text>
<text transform="matrix(0.906,0,0,1,254.3,118)" text-anchor="end" font-size="9.6">0.02</text>
<text transform="matrix(0.906,0,0,1,254.3,95)" text-anchor="end" font-size="9.6">0.04</text>
<text transform="matrix(0.906,0,0,1,254.3,72)" text-anchor="end" font-size="9.6">0.06</text>
<text transform="matrix(0.906,0,0,1,254.3,49)" text-anchor="end" font-size="9.6">0.08</text>
<text transform="matrix(0.906,0,0,1,254.3,26)" text-anchor="end" font-size="9.6">0.1</text>
<text transform="matrix(0.906,0,0,1,259.5,161)" text-anchor="middle" font-size="9.6">-5</text>
<text transform="matrix(0.906,0,0,1,282.07,161)" text-anchor="middle" font-size="9.6">0</text>
<text transform="matrix(0.906,0,0,1,303.73,161)" text-anchor="middle" font-size="9.6">5</text>
<text transform="matrix(0.906,0,0,1,325.4,161)" text-anchor="middle" font-size="9.6">10</text>
<text transform="matrix(0.906,0,0,1,347.07,161)" text-anchor="middle" font-size="9.6">15</text>
<text transform="matrix(0.906,0,0,1,368.73,161)" text-anchor="middle" font-size="9.6">20</text>
<text transform="matrix(0.906,0,0,1,390.4,161)" text-anchor="middle" font-size="9.6">25</text>
<text transform="matrix(0.906,0,0,1,412.07,161)" text-anchor="middle" font-size="9.6">30</text>
<text transform="matrix(0.906,0,0,1,433.73,161)" text-anchor="middle" font-size="9.6">35</text>
<text transform="matrix(0.906,0,0,1,455.4,161)" text-anchor="middle" font-size="9.6">40</text>
<text x="357" y="173.8" text-anchor="middle" font-size="8.85" font-weight="normal" font-style="normal">Frequency (THz)</text>
<line x1="374" y1="34.4" x2="397.8" y2="34.4" stroke="#ff3030" stroke-width="1.1"/>
<line x1="374" y1="44.95" x2="397.8" y2="44.95" stroke="#38f038" stroke-width="1.1"/>
<text x="402.6" y="37.3" text-anchor="start" font-size="8.7" font-weight="normal" font-style="normal">Na layer</text>
<text x="402.6" y="47.1" text-anchor="start" font-size="8.7" font-weight="normal" font-style="normal">CoO<tspan font-size="6.9" dy="2.4">2</tspan><tspan dy="-2.4" dx="0.6"> layer</tspan></text>
</g>
<g stroke="#6a6a6a" stroke-width="0.9">
<line x1="488.83" y1="149.4" x2="488.83" y2="148.1"/>
<line x1="488.83" y1="22.5" x2="488.83" y2="23.8"/>
<line x1="493.17" y1="149.4" x2="493.17" y2="148.1"/>
<line x1="493.17" y1="22.5" x2="493.17" y2="23.8"/>
<line x1="497.5" y1="149.4" x2="497.5" y2="148.1"/>
<line x1="497.5" y1="22.5" x2="497.5" y2="23.8"/>
<line x1="501.83" y1="149.4" x2="501.83" y2="148.1"/>
<line x1="501.83" y1="22.5" x2="501.83" y2="23.8"/>
<line x1="506.17" y1="149.4" x2="506.17" y2="146.9"/>
<line x1="506.17" y1="22.5" x2="506.17" y2="25"/>
<line x1="510.5" y1="149.4" x2="510.5" y2="148.1"/>
<line x1="510.5" y1="22.5" x2="510.5" y2="23.8"/>
<line x1="514.83" y1="149.4" x2="514.83" y2="148.1"/>
<line x1="514.83" y1="22.5" x2="514.83" y2="23.8"/>
<line x1="519.17" y1="149.4" x2="519.17" y2="148.1"/>
<line x1="519.17" y1="22.5" x2="519.17" y2="23.8"/>
<line x1="523.5" y1="149.4" x2="523.5" y2="148.1"/>
<line x1="523.5" y1="22.5" x2="523.5" y2="23.8"/>
<line x1="527.83" y1="149.4" x2="527.83" y2="146.9"/>
<line x1="527.83" y1="22.5" x2="527.83" y2="25"/>
<line x1="532.17" y1="149.4" x2="532.17" y2="148.1"/>
<line x1="532.17" y1="22.5" x2="532.17" y2="23.8"/>
<line x1="536.5" y1="149.4" x2="536.5" y2="148.1"/>
<line x1="536.5" y1="22.5" x2="536.5" y2="23.8"/>
<line x1="540.83" y1="149.4" x2="540.83" y2="148.1"/>
<line x1="540.83" y1="22.5" x2="540.83" y2="23.8"/>
<line x1="545.17" y1="149.4" x2="545.17" y2="148.1"/>
<line x1="545.17" y1="22.5" x2="545.17" y2="23.8"/>
<line x1="549.5" y1="149.4" x2="549.5" y2="146.9"/>
<line x1="549.5" y1="22.5" x2="549.5" y2="25"/>
<line x1="553.83" y1="149.4" x2="553.83" y2="148.1"/>
<line x1="553.83" y1="22.5" x2="553.83" y2="23.8"/>
<line x1="558.17" y1="149.4" x2="558.17" y2="148.1"/>
<line x1="558.17" y1="22.5" x2="558.17" y2="23.8"/>
<line x1="562.5" y1="149.4" x2="562.5" y2="148.1"/>
<line x1="562.5" y1="22.5" x2="562.5" y2="23.8"/>
<line x1="566.83" y1="149.4" x2="566.83" y2="148.1"/>
<line x1="566.83" y1="22.5" x2="566.83" y2="23.8"/>
<line x1="571.17" y1="149.4" x2="571.17" y2="146.9"/>
<line x1="571.17" y1="22.5" x2="571.17" y2="25"/>
<line x1="575.5" y1="149.4" x2="575.5" y2="148.1"/>
<line x1="575.5" y1="22.5" x2="575.5" y2="23.8"/>
<line x1="579.83" y1="149.4" x2="579.83" y2="148.1"/>
<line x1="579.83" y1="22.5" x2="579.83" y2="23.8"/>
<line x1="584.17" y1="149.4" x2="584.17" y2="148.1"/>
<line x1="584.17" y1="22.5" x2="584.17" y2="23.8"/>
<line x1="588.5" y1="149.4" x2="588.5" y2="148.1"/>
<line x1="588.5" y1="22.5" x2="588.5" y2="23.8"/>
<line x1="592.83" y1="149.4" x2="592.83" y2="146.9"/>
<line x1="592.83" y1="22.5" x2="592.83" y2="25"/>
<line x1="597.17" y1="149.4" x2="597.17" y2="148.1"/>
<line x1="597.17" y1="22.5" x2="597.17" y2="23.8"/>
<line x1="601.5" y1="149.4" x2="601.5" y2="148.1"/>
<line x1="601.5" y1="22.5" x2="601.5" y2="23.8"/>
<line x1="605.83" y1="149.4" x2="605.83" y2="148.1"/>
<line x1="605.83" y1="22.5" x2="605.83" y2="23.8"/>
<line x1="610.17" y1="149.4" x2="610.17" y2="148.1"/>
<line x1="610.17" y1="22.5" x2="610.17" y2="23.8"/>
<line x1="614.5" y1="149.4" x2="614.5" y2="146.9"/>
<line x1="614.5" y1="22.5" x2="614.5" y2="25"/>
<line x1="618.83" y1="149.4" x2="618.83" y2="148.1"/>
<line x1="618.83" y1="22.5" x2="618.83" y2="23.8"/>
<line x1="623.17" y1="149.4" x2="623.17" y2="148.1"/>
<line x1="623.17" y1="22.5" x2="623.17" y2="23.8"/>
<line x1="627.5" y1="149.4" x2="627.5" y2="148.1"/>
<line x1="627.5" y1="22.5" x2="627.5" y2="23.8"/>
<line x1="631.83" y1="149.4" x2="631.83" y2="148.1"/>
<line x1="631.83" y1="22.5" x2="631.83" y2="23.8"/>
<line x1="636.17" y1="149.4" x2="636.17" y2="146.9"/>
<line x1="636.17" y1="22.5" x2="636.17" y2="25"/>
<line x1="640.5" y1="149.4" x2="640.5" y2="148.1"/>
<line x1="640.5" y1="22.5" x2="640.5" y2="23.8"/>
<line x1="644.83" y1="149.4" x2="644.83" y2="148.1"/>
<line x1="644.83" y1="22.5" x2="644.83" y2="23.8"/>
<line x1="649.17" y1="149.4" x2="649.17" y2="148.1"/>
<line x1="649.17" y1="22.5" x2="649.17" y2="23.8"/>
<line x1="653.5" y1="149.4" x2="653.5" y2="148.1"/>
<line x1="653.5" y1="22.5" x2="653.5" y2="23.8"/>
<line x1="657.83" y1="149.4" x2="657.83" y2="146.9"/>
<line x1="657.83" y1="22.5" x2="657.83" y2="25"/>
<line x1="662.17" y1="149.4" x2="662.17" y2="148.1"/>
<line x1="662.17" y1="22.5" x2="662.17" y2="23.8"/>
<line x1="666.5" y1="149.4" x2="666.5" y2="148.1"/>
<line x1="666.5" y1="22.5" x2="666.5" y2="23.8"/>
<line x1="670.83" y1="149.4" x2="670.83" y2="148.1"/>
<line x1="670.83" y1="22.5" x2="670.83" y2="23.8"/>
<line x1="675.17" y1="149.4" x2="675.17" y2="148.1"/>
<line x1="675.17" y1="22.5" x2="675.17" y2="23.8"/>
<line x1="484.5" y1="147.09" x2="485.8" y2="147.09"/>
<line x1="679.5" y1="147.09" x2="678.2" y2="147.09"/>
<line x1="484.5" y1="144.79" x2="485.8" y2="144.79"/>
<line x1="679.5" y1="144.79" x2="678.2" y2="144.79"/>
<line x1="484.5" y1="142.48" x2="485.8" y2="142.48"/>
<line x1="679.5" y1="142.48" x2="678.2" y2="142.48"/>
<line x1="484.5" y1="140.17" x2="485.8" y2="140.17"/>
<line x1="679.5" y1="140.17" x2="678.2" y2="140.17"/>
<line x1="484.5" y1="135.56" x2="485.8" y2="135.56"/>
<line x1="679.5" y1="135.56" x2="678.2" y2="135.56"/>
<line x1="484.5" y1="133.25" x2="485.8" y2="133.25"/>
<line x1="679.5" y1="133.25" x2="678.2" y2="133.25"/>
<line x1="484.5" y1="130.94" x2="485.8" y2="130.94"/>
<line x1="679.5" y1="130.94" x2="678.2" y2="130.94"/>
<line x1="484.5" y1="128.63" x2="485.8" y2="128.63"/>
<line x1="679.5" y1="128.63" x2="678.2" y2="128.63"/>
<line x1="484.5" y1="126.33" x2="485.8" y2="126.33"/>
<line x1="679.5" y1="126.33" x2="678.2" y2="126.33"/>
<line x1="484.5" y1="124.02" x2="485.8" y2="124.02"/>
<line x1="679.5" y1="124.02" x2="678.2" y2="124.02"/>
<line x1="484.5" y1="121.71" x2="485.8" y2="121.71"/>
<line x1="679.5" y1="121.71" x2="678.2" y2="121.71"/>
<line x1="484.5" y1="119.41" x2="485.8" y2="119.41"/>
<line x1="679.5" y1="119.41" x2="678.2" y2="119.41"/>
<line x1="484.5" y1="117.1" x2="485.8" y2="117.1"/>
<line x1="679.5" y1="117.1" x2="678.2" y2="117.1"/>
<line x1="484.5" y1="114.79" x2="487" y2="114.79"/>
<line x1="679.5" y1="114.79" x2="677" y2="114.79"/>
<line x1="484.5" y1="112.48" x2="485.8" y2="112.48"/>
<line x1="679.5" y1="112.48" x2="678.2" y2="112.48"/>
<line x1="484.5" y1="110.18" x2="485.8" y2="110.18"/>
<line x1="679.5" y1="110.18" x2="678.2" y2="110.18"/>
<line x1="484.5" y1="107.87" x2="485.8" y2="107.87"/>
<line x1="679.5" y1="107.87" x2="678.2" y2="107.87"/>
<line x1="484.5" y1="105.56" x2="485.8" y2="105.56"/>
<line x1="679.5" y1="105.56" x2="678.2" y2="105.56"/>
<line x1="484.5" y1="103.25" x2="485.8" y2="103.25"/>
<line x1="679.5" y1="103.25" x2="678.2" y2="103.25"/>
<line x1="484.5" y1="100.95" x2="485.8" y2="100.95"/>
<line x1="679.5" y1="100.95" x2="678.2" y2="100.95"/>
<line x1="484.5" y1="98.64" x2="485.8" y2="98.64"/>
<line x1="679.5" y1="98.64" x2="678.2" y2="98.64"/>
<line x1="484.5" y1="96.33" x2="485.8" y2="96.33"/>
<line x1="679.5" y1="96.33" x2="678.2" y2="96.33"/>
<line x1="484.5" y1="94.03" x2="485.8" y2="94.03"/>
<line x1="679.5" y1="94.03" x2="678.2" y2="94.03"/>
<line x1="484.5" y1="91.72" x2="487" y2="91.72"/>
<line x1="679.5" y1="91.72" x2="677" y2="91.72"/>
<line x1="484.5" y1="89.41" x2="485.8" y2="89.41"/>
<line x1="679.5" y1="89.41" x2="678.2" y2="89.41"/>
<line x1="484.5" y1="87.1" x2="485.8" y2="87.1"/>
<line x1="679.5" y1="87.1" x2="678.2" y2="87.1"/>
<line x1="484.5" y1="84.8" x2="485.8" y2="84.8"/>
<line x1="679.5" y1="84.8" x2="678.2" y2="84.8"/>
<line x1="484.5" y1="82.49" x2="485.8" y2="82.49"/>
<line x1="679.5" y1="82.49" x2="678.2" y2="82.49"/>
<line x1="484.5" y1="80.18" x2="485.8" y2="80.18"/>
<line x1="679.5" y1="80.18" x2="678.2" y2="80.18"/>
<line x1="484.5" y1="77.87" x2="485.8" y2="77.87"/>
<line x1="679.5" y1="77.87" x2="678.2" y2="77.87"/>
<line x1="484.5" y1="75.57" x2="485.8" y2="75.57"/>
<line x1="679.5" y1="75.57" x2="678.2" y2="75.57"/>
<line x1="484.5" y1="73.26" x2="485.8" y2="73.26"/>
<line x1="679.5" y1="73.26" x2="678.2" y2="73.26"/>
<line x1="484.5" y1="70.95" x2="485.8" y2="70.95"/>
<line x1="679.5" y1="70.95" x2="678.2" y2="70.95"/>
<line x1="484.5" y1="68.65" x2="487" y2="68.65"/>
<line x1="679.5" y1="68.65" x2="677" y2="68.65"/>
<line x1="484.5" y1="66.34" x2="485.8" y2="66.34"/>
<line x1="679.5" y1="66.34" x2="678.2" y2="66.34"/>
<line x1="484.5" y1="64.03" x2="485.8" y2="64.03"/>
<line x1="679.5" y1="64.03" x2="678.2" y2="64.03"/>
<line x1="484.5" y1="61.72" x2="485.8" y2="61.72"/>
<line x1="679.5" y1="61.72" x2="678.2" y2="61.72"/>
<line x1="484.5" y1="59.42" x2="485.8" y2="59.42"/>
<line x1="679.5" y1="59.42" x2="678.2" y2="59.42"/>
<line x1="484.5" y1="57.11" x2="485.8" y2="57.11"/>
<line x1="679.5" y1="57.11" x2="678.2" y2="57.11"/>
<line x1="484.5" y1="54.8" x2="485.8" y2="54.8"/>
<line x1="679.5" y1="54.8" x2="678.2" y2="54.8"/>
<line x1="484.5" y1="52.49" x2="485.8" y2="52.49"/>
<line x1="679.5" y1="52.49" x2="678.2" y2="52.49"/>
<line x1="484.5" y1="50.19" x2="485.8" y2="50.19"/>
<line x1="679.5" y1="50.19" x2="678.2" y2="50.19"/>
<line x1="484.5" y1="47.88" x2="485.8" y2="47.88"/>
<line x1="679.5" y1="47.88" x2="678.2" y2="47.88"/>
<line x1="484.5" y1="45.57" x2="487" y2="45.57"/>
<line x1="679.5" y1="45.57" x2="677" y2="45.57"/>
<line x1="484.5" y1="43.27" x2="485.8" y2="43.27"/>
<line x1="679.5" y1="43.27" x2="678.2" y2="43.27"/>
<line x1="484.5" y1="40.96" x2="485.8" y2="40.96"/>
<line x1="679.5" y1="40.96" x2="678.2" y2="40.96"/>
<line x1="484.5" y1="38.65" x2="485.8" y2="38.65"/>
<line x1="679.5" y1="38.65" x2="678.2" y2="38.65"/>
<line x1="484.5" y1="36.34" x2="485.8" y2="36.34"/>
<line x1="679.5" y1="36.34" x2="678.2" y2="36.34"/>
<line x1="484.5" y1="34.04" x2="485.8" y2="34.04"/>
<line x1="679.5" y1="34.04" x2="678.2" y2="34.04"/>
<line x1="484.5" y1="31.73" x2="485.8" y2="31.73"/>
<line x1="679.5" y1="31.73" x2="678.2" y2="31.73"/>
<line x1="484.5" y1="29.42" x2="485.8" y2="29.42"/>
<line x1="679.5" y1="29.42" x2="678.2" y2="29.42"/>
<line x1="484.5" y1="27.11" x2="485.8" y2="27.11"/>
<line x1="679.5" y1="27.11" x2="678.2" y2="27.11"/>
<line x1="484.5" y1="24.81" x2="485.8" y2="24.81"/>
<line x1="679.5" y1="24.81" x2="678.2" y2="24.81"/>
</g>
<line x1="507.6" y1="137.5" x2="652.9" y2="137.5" stroke="#a0a0a0" stroke-width="1"/>
<mask id="m2" maskUnits="userSpaceOnUse" x="0" y="0" width="685" height="428"><rect x="0" y="0" width="685" height="428" fill="#fff"/><rect x="482.5" y="136" width="25.1" height="3" fill="#000"/><rect x="663.3" y="136" width="18.2" height="3" fill="#000"/></mask>
<g fill="none" stroke-width="1.0" stroke-linejoin="round">
<path d="M484.5,137.5L504.3,137.5C504.97,137.5 505.63,137.15 506.3,136.8C506.83,136.52 507.37,135.9 507.9,135.3C508.57,134.55 509.23,133.43 509.9,132.4C510.6,131.32 511.3,130.18 512,128.9C512.47,128.05 512.93,127.03 513.4,126.1C513.87,125.17 514.33,123.94 514.8,123.3C515.5,122.35 516.2,122.05 516.9,121.2C517.37,120.63 517.83,120.03 518.3,119.1C518.77,118.17 519.23,116.23 519.7,114.9C520.3,113.18 520.9,112.04 521.5,110C521.93,108.53 522.37,105.64 522.8,104.3C523.63,101.71 524.47,100.8 525.3,98.6C525.83,97.19 526.37,94.94 526.9,93.7C527.7,91.83 528.5,90.08 529.3,89.3C530.4,88.23 531.5,87.8 532.6,87.2C533.43,86.75 534.27,86.55 535.1,86C535.8,85.54 536.5,84.52 537.2,83.9C537.87,83.31 538.53,82.3 539.2,82.3C540,82.3 540.8,84.38 541.6,85.5C542.7,87.04 543.8,88.35 544.9,90.4C545.6,91.7 546.3,93.38 547,95.4C547.67,97.32 548.33,100.77 549,102.7C549.8,105.02 550.6,107.07 551.4,108.4C552.5,110.22 553.6,111.24 554.7,112.5C555.73,113.68 556.77,114.93 557.8,115.8C558.97,116.78 560.13,117.29 561.3,118.2C562.23,118.93 563.17,119.73 564.1,120.7C565.03,121.67 565.97,123.68 566.9,124.2C567.83,124.72 568.77,125.2 569.7,125.2C571.1,125.2 572.5,125.2 573.9,125.2C574.83,125.2 575.77,124.11 576.7,123.5C577.87,122.74 579.03,121.67 580.2,121C581.17,120.45 582.13,119.6 583.1,119.6C584.5,119.6 585.9,119.7 587.3,119.7C588.7,119.7 590.1,119.3 591.5,119.3C592.2,119.3 592.9,120.7 593.6,121.4C594.3,122.1 595,123.5 595.7,123.5C596.17,123.5 596.63,123.21 597.1,122.8C597.57,122.39 598.03,118.92 598.5,117.9C599.1,116.59 599.7,115.1 600.3,115.1C600.87,115.1 601.43,116.15 602,117.2C602.47,118.07 602.93,120.78 603.4,122.1C604.1,124.09 604.8,125.7 605.5,127C606.33,128.54 607.17,130.8 608,130.8C608.8,130.8 609.6,130.23 610.4,129.8C611.33,129.3 612.27,128.19 613.2,127.7C614.37,127.08 615.53,126.87 616.7,126.3C617.67,125.83 618.63,124.5 619.6,124.5C620.27,124.5 620.93,125.27 621.6,125.8C622.57,126.57 623.53,127.9 624.5,128.9C625.3,129.73 626.1,130.36 626.9,131.3C627.67,132.2 628.43,133.93 629.2,134.6C630,135.3 630.8,135.93 631.6,136.1C632.7,136.33 633.8,136.5 634.9,136.5C636.17,136.5 637.43,136.1 638.7,136.1C640.3,136.1 641.9,136.1 643.5,136.1C645.07,136.1 646.63,136.29 648.2,136.5C649.47,136.67 650.73,137.5 652,137.5L679.5,137.5" stroke="#ff3030" mask="url(#m2)"/>
<path d="M484.5,137.5L508.5,137.5C509.2,137.5 509.9,136.92 510.6,136.6C511.53,136.17 512.47,135.76 513.4,135.2C514.33,134.64 515.27,133.91 516.2,133.1C516.9,132.5 517.6,131.8 518.3,131C519,130.2 519.7,129.07 520.4,128.2C521,127.45 521.6,126.55 522.2,126.1C522.8,125.65 523.4,125.47 524,125.1C524.7,124.66 525.4,123.73 526.1,123.6C527.47,123.34 528.83,123.2 530.2,123.2C532.1,123.2 534,123.2 535.9,123.2C537,123.2 538.1,122.96 539.2,122.7C540.27,122.45 541.33,121.42 542.4,121C543.23,120.67 544.07,120.2 544.9,120.2C545.83,120.2 546.77,120.45 547.7,120.7C548.57,120.93 549.43,122 550.3,122C550.93,122 551.57,120.73 552.2,119.9C553.03,118.81 553.87,117.21 554.7,115.8C555.5,114.45 556.3,113.39 557.1,111.6C557.8,110.03 558.5,106.71 559.2,105.2C559.9,103.69 560.6,102.15 561.3,101.7C561.87,101.33 562.43,101 563,101C563.6,101 564.2,102.17 564.8,103.1C565.5,104.19 566.2,106.58 566.9,108.1C567.6,109.62 568.3,111.35 569,112.3C569.93,113.56 570.87,114.47 571.8,115.1C572.5,115.57 573.2,116.2 573.9,116.2C574.6,116.2 575.3,114.29 576,113C576.7,111.71 577.4,108.94 578.1,108.1C578.9,107.14 579.7,106.2 580.5,106.2C581.37,106.2 582.23,107.8 583.1,108.8C583.8,109.6 584.5,110.48 585.2,111.6C585.9,112.72 586.6,114.78 587.3,115.8C588,116.82 588.7,118.2 589.4,118.2C590.33,118.2 591.27,118.2 592.2,118.2C592.9,118.2 593.6,118.37 594.3,118.6C595,118.83 595.7,120.54 596.4,121.4C597.1,122.26 597.8,123.22 598.5,123.8C599.43,124.58 600.37,125.08 601.3,125.6C602.23,126.12 603.17,126.46 604.1,127C604.8,127.4 605.5,128.4 606.2,128.4C606.9,128.4 607.6,126.65 608.3,125.6C609.23,124.2 610.17,121.92 611.1,120.7C612.13,119.35 613.17,117.5 614.2,117.5C615.03,117.5 615.87,118.84 616.7,120C617.4,120.98 618.1,123.12 618.8,124.7C619.6,126.51 620.4,129.57 621.2,130.2C621.97,130.8 622.73,131.3 623.5,131.3C624.47,131.3 625.43,130.86 626.4,130.4C627.33,129.96 628.27,127.7 629.2,127.7C630,127.7 630.8,127.7 631.6,127.7C632.7,127.7 633.8,128.07 634.9,128.3C635.7,128.47 636.5,128.9 637.3,128.9C638.1,128.9 638.9,128.9 639.7,128.9C640.47,128.9 641.23,127.4 642,127C642.8,126.59 643.6,126.1 644.4,126.1C645.37,126.1 646.33,126.46 647.3,127C647.93,127.35 648.57,129.2 649.2,130.4C649.83,131.6 650.47,133.42 651.1,134.2C651.87,135.14 652.63,135.9 653.4,136.2C654.5,136.63 655.6,136.85 656.7,137C658.6,137.26 660.5,137.5 662.4,137.5L679.5,137.5" stroke="#38f038"/>
</g>
<rect x="484.5" y="22.5" width="195" height="126.9" fill="none" stroke="#999999" stroke-width="1"/>
<g fill="#111" font-family='"Liberation Sans", sans-serif'>
<text transform="matrix(0.906,0,0,1,479.3,141)" text-anchor="end" font-size="9.6">0</text>
<text transform="matrix(0.906,0,0,1,479.3,118)" text-anchor="end" font-size="9.6">0.02</text>
<text transform="matrix(0.906,0,0,1,479.3,95)" text-anchor="end" font-size="9.6">0.04</text>
<text transform="matrix(0.906,0,0,1,479.3,72)" text-anchor="end" font-size="9.6">0.06</text>
<text transform="matrix(0.906,0,0,1,479.3,49)" text-anchor="end" font-size="9.6">0.08</text>
<text transform="matrix(0.906,0,0,1,479.3,26)" text-anchor="end" font-size="9.6">0.1</text>
<text transform="matrix(0.906,0,0,1,484.5,161)" text-anchor="middle" font-size="9.6">-5</text>
<text transform="matrix(0.906,0,0,1,507.07,161)" text-anchor="middle" font-size="9.6">0</text>
<text transform="matrix(0.906,0,0,1,528.73,161)" text-anchor="middle" font-size="9.6">5</text>
<text transform="matrix(0.906,0,0,1,550.4,161)" text-anchor="middle" font-size="9.6">10</text>
<text transform="matrix(0.906,0,0,1,572.07,161)" text-anchor="middle" font-size="9.6">15</text>
<text transform="matrix(0.906,0,0,1,593.73,161)" text-anchor="middle" font-size="9.6">20</text>
<text transform="matrix(0.906,0,0,1,615.4,161)" text-anchor="middle" font-size="9.6">25</text>
<text transform="matrix(0.906,0,0,1,637.07,161)" text-anchor="middle" font-size="9.6">30</text>
<text transform="matrix(0.906,0,0,1,658.73,161)" text-anchor="middle" font-size="9.6">35</text>
<text transform="matrix(0.906,0,0,1,680.4,161)" text-anchor="middle" font-size="9.6">40</text>
<text x="582" y="173.8" text-anchor="middle" font-size="8.85" font-weight="normal" font-style="normal">Frequency (THz)</text>
<line x1="583.3" y1="34.4" x2="607.1" y2="34.4" stroke="#ff3030" stroke-width="1.1"/>
<line x1="583.3" y1="44.95" x2="607.1" y2="44.95" stroke="#38f038" stroke-width="1.1"/>
<text x="612.4" y="37.3" text-anchor="start" font-size="8.7" font-weight="normal" font-style="normal">Ca<tspan font-size="6.9" dy="2.0">2</tspan><tspan dy="-2.0">CoO</tspan><tspan font-size="6.9" dy="2.2">3</tspan><tspan dy="-2.2" dx="0.6"> layer</tspan></text>
<text x="612.4" y="47.1" text-anchor="start" font-size="8.7" font-weight="normal" font-style="normal">CoO<tspan font-size="6.9" dy="2.4">2</tspan><tspan dy="-2.4" dx="0.6"> layer</tspan></text>
</g>
<g stroke="#6a6a6a" stroke-width="0.9">
<line x1="39.83" y1="266.6" x2="39.83" y2="265.3"/>
<line x1="39.83" y1="199.5" x2="39.83" y2="200.8"/>
<line x1="44.17" y1="266.6" x2="44.17" y2="265.3"/>
<line x1="44.17" y1="199.5" x2="44.17" y2="200.8"/>
<line x1="48.5" y1="266.6" x2="48.5" y2="265.3"/>
<line x1="48.5" y1="199.5" x2="48.5" y2="200.8"/>
<line x1="52.83" y1="266.6" x2="52.83" y2="265.3"/>
<line x1="52.83" y1="199.5" x2="52.83" y2="200.8"/>
<line x1="57.17" y1="266.6" x2="57.17" y2="264.1"/>
<line x1="57.17" y1="199.5" x2="57.17" y2="202"/>
<line x1="61.5" y1="266.6" x2="61.5" y2="265.3"/>
<line x1="61.5" y1="199.5" x2="61.5" y2="200.8"/>
<line x1="65.83" y1="266.6" x2="65.83" y2="265.3"/>
<line x1="65.83" y1="199.5" x2="65.83" y2="200.8"/>
<line x1="70.17" y1="266.6" x2="70.17" y2="265.3"/>
<line x1="70.17" y1="199.5" x2="70.17" y2="200.8"/>
<line x1="74.5" y1="266.6" x2="74.5" y2="265.3"/>
<line x1="74.5" y1="199.5" x2="74.5" y2="200.8"/>
<line x1="78.83" y1="266.6" x2="78.83" y2="264.1"/>
<line x1="78.83" y1="199.5" x2="78.83" y2="202"/>
<line x1="83.17" y1="266.6" x2="83.17" y2="265.3"/>
<line x1="83.17" y1="199.5" x2="83.17" y2="200.8"/>
<line x1="87.5" y1="266.6" x2="87.5" y2="265.3"/>
<line x1="87.5" y1="199.5" x2="87.5" y2="200.8"/>
<line x1="91.83" y1="266.6" x2="91.83" y2="265.3"/>
<line x1="91.83" y1="199.5" x2="91.83" y2="200.8"/>
<line x1="96.17" y1="266.6" x2="96.17" y2="265.3"/>
<line x1="96.17" y1="199.5" x2="96.17" y2="200.8"/>
<line x1="100.5" y1="266.6" x2="100.5" y2="264.1"/>
<line x1="100.5" y1="199.5" x2="100.5" y2="202"/>
<line x1="104.83" y1="266.6" x2="104.83" y2="265.3"/>
<line x1="104.83" y1="199.5" x2="104.83" y2="200.8"/>
<line x1="109.17" y1="266.6" x2="109.17" y2="265.3"/>
<line x1="109.17" y1="199.5" x2="109.17" y2="200.8"/>
<line x1="113.5" y1="266.6" x2="113.5" y2="265.3"/>
<line x1="113.5" y1="199.5" x2="113.5" y2="200.8"/>
<line x1="117.83" y1="266.6" x2="117.83" y2="265.3"/>
<line x1="117.83" y1="199.5" x2="117.83" y2="200.8"/>
<line x1="122.17" y1="266.6" x2="122.17" y2="264.1"/>
<line x1="122.17" y1="199.5" x2="122.17" y2="202"/>
<line x1="126.5" y1="266.6" x2="126.5" y2="265.3"/>
<line x1="126.5" y1="199.5" x2="126.5" y2="200.8"/>
<line x1="130.83" y1="266.6" x2="130.83" y2="265.3"/>
<line x1="130.83" y1="199.5" x2="130.83" y2="200.8"/>
<line x1="135.17" y1="266.6" x2="135.17" y2="265.3"/>
<line x1="135.17" y1="199.5" x2="135.17" y2="200.8"/>
<line x1="139.5" y1="266.6" x2="139.5" y2="265.3"/>
<line x1="139.5" y1="199.5" x2="139.5" y2="200.8"/>
<line x1="143.83" y1="266.6" x2="143.83" y2="264.1"/>
<line x1="143.83" y1="199.5" x2="143.83" y2="202"/>
<line x1="148.17" y1="266.6" x2="148.17" y2="265.3"/>
<line x1="148.17" y1="199.5" x2="148.17" y2="200.8"/>
<line x1="152.5" y1="266.6" x2="152.5" y2="265.3"/>
<line x1="152.5" y1="199.5" x2="152.5" y2="200.8"/>
<line x1="156.83" y1="266.6" x2="156.83" y2="265.3"/>
<line x1="156.83" y1="199.5" x2="156.83" y2="200.8"/>
<line x1="161.17" y1="266.6" x2="161.17" y2="265.3"/>
<line x1="161.17" y1="199.5" x2="161.17" y2="200.8"/>
<line x1="165.5" y1="266.6" x2="165.5" y2="264.1"/>
<line x1="165.5" y1="199.5" x2="165.5" y2="202"/>
<line x1="169.83" y1="266.6" x2="169.83" y2="265.3"/>
<line x1="169.83" y1="199.5" x2="169.83" y2="200.8"/>
<line x1="174.17" y1="266.6" x2="174.17" y2="265.3"/>
<line x1="174.17" y1="199.5" x2="174.17" y2="200.8"/>
<line x1="178.5" y1="266.6" x2="178.5" y2="265.3"/>
<line x1="178.5" y1="199.5" x2="178.5" y2="200.8"/>
<line x1="182.83" y1="266.6" x2="182.83" y2="265.3"/>
<line x1="182.83" y1="199.5" x2="182.83" y2="200.8"/>
<line x1="187.17" y1="266.6" x2="187.17" y2="264.1"/>
<line x1="187.17" y1="199.5" x2="187.17" y2="202"/>
<line x1="191.5" y1="266.6" x2="191.5" y2="265.3"/>
<line x1="191.5" y1="199.5" x2="191.5" y2="200.8"/>
<line x1="195.83" y1="266.6" x2="195.83" y2="265.3"/>
<line x1="195.83" y1="199.5" x2="195.83" y2="200.8"/>
<line x1="200.17" y1="266.6" x2="200.17" y2="265.3"/>
<line x1="200.17" y1="199.5" x2="200.17" y2="200.8"/>
<line x1="204.5" y1="266.6" x2="204.5" y2="265.3"/>
<line x1="204.5" y1="199.5" x2="204.5" y2="200.8"/>
<line x1="208.83" y1="266.6" x2="208.83" y2="264.1"/>
<line x1="208.83" y1="199.5" x2="208.83" y2="202"/>
<line x1="213.17" y1="266.6" x2="213.17" y2="265.3"/>
<line x1="213.17" y1="199.5" x2="213.17" y2="200.8"/>
<line x1="217.5" y1="266.6" x2="217.5" y2="265.3"/>
<line x1="217.5" y1="199.5" x2="217.5" y2="200.8"/>
<line x1="221.83" y1="266.6" x2="221.83" y2="265.3"/>
<line x1="221.83" y1="199.5" x2="221.83" y2="200.8"/>
<line x1="226.17" y1="266.6" x2="226.17" y2="265.3"/>
<line x1="226.17" y1="199.5" x2="226.17" y2="200.8"/>
<line x1="35.5" y1="264.36" x2="36.8" y2="264.36"/>
<line x1="230.5" y1="264.36" x2="229.2" y2="264.36"/>
<line x1="35.5" y1="262.13" x2="36.8" y2="262.13"/>
<line x1="230.5" y1="262.13" x2="229.2" y2="262.13"/>
<line x1="35.5" y1="259.89" x2="36.8" y2="259.89"/>
<line x1="230.5" y1="259.89" x2="229.2" y2="259.89"/>
<line x1="35.5" y1="257.65" x2="36.8" y2="257.65"/>
<line x1="230.5" y1="257.65" x2="229.2" y2="257.65"/>
<line x1="35.5" y1="253.18" x2="36.8" y2="253.18"/>
<line x1="230.5" y1="253.18" x2="229.2" y2="253.18"/>
<line x1="35.5" y1="250.94" x2="36.8" y2="250.94"/>
<line x1="230.5" y1="250.94" x2="229.2" y2="250.94"/>
<line x1="35.5" y1="248.71" x2="36.8" y2="248.71"/>
<line x1="230.5" y1="248.71" x2="229.2" y2="248.71"/>
<line x1="35.5" y1="246.47" x2="36.8" y2="246.47"/>
<line x1="230.5" y1="246.47" x2="229.2" y2="246.47"/>
<line x1="35.5" y1="244.23" x2="36.8" y2="244.23"/>
<line x1="230.5" y1="244.23" x2="229.2" y2="244.23"/>
<line x1="35.5" y1="242" x2="36.8" y2="242"/>
<line x1="230.5" y1="242" x2="229.2" y2="242"/>
<line x1="35.5" y1="239.76" x2="36.8" y2="239.76"/>
<line x1="230.5" y1="239.76" x2="229.2" y2="239.76"/>
<line x1="35.5" y1="237.52" x2="36.8" y2="237.52"/>
<line x1="230.5" y1="237.52" x2="229.2" y2="237.52"/>
<line x1="35.5" y1="235.29" x2="36.8" y2="235.29"/>
<line x1="230.5" y1="235.29" x2="229.2" y2="235.29"/>
<line x1="35.5" y1="233.05" x2="38" y2="233.05"/>
<line x1="230.5" y1="233.05" x2="228" y2="233.05"/>
<line x1="35.5" y1="230.81" x2="36.8" y2="230.81"/>
<line x1="230.5" y1="230.81" x2="229.2" y2="230.81"/>
<line x1="35.5" y1="228.58" x2="36.8" y2="228.58"/>
<line x1="230.5" y1="228.58" x2="229.2" y2="228.58"/>
<line x1="35.5" y1="226.34" x2="36.8" y2="226.34"/>
<line x1="230.5" y1="226.34" x2="229.2" y2="226.34"/>
<line x1="35.5" y1="224.1" x2="36.8" y2="224.1"/>
<line x1="230.5" y1="224.1" x2="229.2" y2="224.1"/>
<line x1="35.5" y1="221.87" x2="36.8" y2="221.87"/>
<line x1="230.5" y1="221.87" x2="229.2" y2="221.87"/>
<line x1="35.5" y1="219.63" x2="36.8" y2="219.63"/>
<line x1="230.5" y1="219.63" x2="229.2" y2="219.63"/>
<line x1="35.5" y1="217.39" x2="36.8" y2="217.39"/>
<line x1="230.5" y1="217.39" x2="229.2" y2="217.39"/>
<line x1="35.5" y1="215.16" x2="36.8" y2="215.16"/>
<line x1="230.5" y1="215.16" x2="229.2" y2="215.16"/>
<line x1="35.5" y1="212.92" x2="36.8" y2="212.92"/>
<line x1="230.5" y1="212.92" x2="229.2" y2="212.92"/>
<line x1="35.5" y1="210.68" x2="38" y2="210.68"/>
<line x1="230.5" y1="210.68" x2="228" y2="210.68"/>
<line x1="35.5" y1="208.45" x2="36.8" y2="208.45"/>
<line x1="230.5" y1="208.45" x2="229.2" y2="208.45"/>
<line x1="35.5" y1="206.21" x2="36.8" y2="206.21"/>
<line x1="230.5" y1="206.21" x2="229.2" y2="206.21"/>
<line x1="35.5" y1="203.97" x2="36.8" y2="203.97"/>
<line x1="230.5" y1="203.97" x2="229.2" y2="203.97"/>
<line x1="35.5" y1="201.74" x2="36.8" y2="201.74"/>
<line x1="230.5" y1="201.74" x2="229.2" y2="201.74"/>
</g>
<line x1="57.8" y1="255.4" x2="103.9" y2="255.4" stroke="#a0a0a0" stroke-width="1"/>
<mask id="m10" maskUnits="userSpaceOnUse" x="0" y="0" width="685" height="428"><rect x="0" y="0" width="685" height="428" fill="#fff"/><rect x="33.5" y="253.9" width="22.6" height="3" fill="#000"/><rect x="197" y="253.9" width="35.5" height="3" fill="#000"/></mask>
<g fill="none" stroke-width="1.0" stroke-linejoin="round">
<path d="M35.5,255.4L58.7,255.4C59.87,255.4 61.03,253.42 62.2,253C63.6,252.5 65,252.46 66.4,252C67.57,251.62 68.73,250.83 69.9,250.2C71.07,249.57 72.23,249.16 73.4,248.2C74.33,247.43 75.27,245.88 76.2,244.3C77.07,242.83 77.93,240.77 78.8,238.7C79.37,237.34 79.93,235.17 80.5,234.2C80.97,233.4 81.43,232.4 81.9,232.4C82.37,232.4 82.83,233.57 83.3,234.5C83.83,235.57 84.37,238.62 84.9,239.4C85.53,240.33 86.17,240.6 86.8,241.2C87.4,241.77 88,242.12 88.6,242.9C89.27,243.76 89.93,245.66 90.6,247.1C91.33,248.68 92.07,250.98 92.8,252C93.6,253.11 94.4,254.2 95.2,254.4C96.13,254.64 97.07,254.8 98,254.8C98.87,254.8 99.73,254.6 100.6,254.6C101.4,254.6 102.2,255.4 103,255.4C104.2,255.4 105.4,255.4 106.6,255.4L230.5,255.4" stroke="#ff3030" mask="url(#m10)"/>
<path d="M35.5,255.4L57,255.4C57.57,255.4 58.13,255.12 58.7,254.8C59.4,254.4 60.1,253.11 60.8,251.3C61.27,250.09 61.73,247.02 62.2,244.3C62.67,241.58 63.13,237.22 63.6,234.5C64.17,231.2 64.73,227.18 65.3,226.1C65.77,225.21 66.23,224.4 66.7,224.4C67.17,224.4 67.63,225.4 68.1,225.4C68.7,225.4 69.3,221.58 69.9,219.8C70.37,218.41 70.83,215.8 71.3,215.8C71.77,215.8 72.23,217.69 72.7,219.1C73.33,221.02 73.97,225.43 74.6,227.5C75.13,229.24 75.67,230.94 76.2,231.7C76.67,232.37 77.13,233.1 77.6,233.1C78.1,233.1 78.6,231.25 79.1,229.6C79.63,227.84 80.17,222.44 80.7,220.5C81.33,218.2 81.97,215.5 82.6,215.5C83.2,215.5 83.8,216.64 84.4,217.6C84.97,218.51 85.53,221.9 86.1,221.9C86.67,221.9 87.23,218.24 87.8,216.2C88.4,214.04 89,211.27 89.6,209.2C90.2,207.13 90.8,204.54 91.4,203.6C91.83,202.92 92.27,202.2 92.7,202.2C93.07,202.2 93.43,203.89 93.8,205.7C94.13,207.34 94.47,212.74 94.8,216.2C95.17,220.01 95.53,224.84 95.9,227.5C96.37,230.88 96.83,234.92 97.3,235.2C97.6,235.38 97.9,235.5 98.2,235.5C98.53,235.5 98.87,233 99.2,230.8C99.67,227.72 100.13,217.11 100.6,214C101.17,210.22 101.73,206.3 102.3,206.3C102.77,206.3 103.23,208.58 103.7,211.2C104.07,213.26 104.43,220.67 104.8,225.2C105.27,230.97 105.73,240.09 106.2,242C106.9,244.86 107.6,246.9 108.3,246.9C109.37,246.9 110.43,243.4 111.5,243.4C112.3,243.4 113.1,245.2 113.9,246.2C114.6,247.07 115.3,249 116,249C117.4,249 118.8,249 120.2,249C121.13,249 122.07,248.3 123,248.3C124.17,248.3 125.33,249.18 126.5,249.7C127.43,250.12 128.37,251.1 129.3,251.1C130.47,251.1 131.63,250.4 132.8,250.4C133.97,250.4 135.13,252.1 136.3,252.1C137.47,252.1 138.63,251.1 139.8,251.1C141.2,251.1 142.6,253.9 144,253.9C145.17,253.9 146.33,253.12 147.5,252.5C148.43,252.01 149.37,251.26 150.3,250.4C150.93,249.82 151.57,248.2 152.2,248.2C153.07,248.2 153.93,251.2 154.8,251.2C156.2,251.2 157.6,250.1 159,250.1C160.17,250.1 161.33,251.9 162.5,251.9C164.13,251.9 165.77,251.2 167.4,251.2C168.57,251.2 169.73,252.13 170.9,252.6C172.07,253.07 173.23,254 174.4,254C176.27,254 178.13,253.71 180,253.3C181.4,253 182.8,251.64 184.2,250.5C185.13,249.74 186.07,247.99 187,247.7C187.7,247.48 188.4,247.3 189.1,247.3C189.8,247.3 190.5,249.39 191.2,250.5C191.9,251.61 192.6,253.45 193.3,254C194.23,254.74 195.17,255.4 196.1,255.4L230.5,255.4" stroke="#38f038"/>
</g>
<rect x="35.5" y="199.5" width="195" height="67.1" fill="none" stroke="#999999" stroke-width="1"/>
<g fill="#111" font-family='"Liberation Sans", sans-serif'>
<text transform="matrix(0.906,0,0,1,30.3,258.6)" text-anchor="end" font-size="9.6">0</text>
<text transform="matrix(0.906,0,0,1,30.3,236.23)" text-anchor="end" font-size="9.6">2</text>
<text transform="matrix(0.906,0,0,1,30.3,213.87)" text-anchor="end" font-size="9.6">4</text>
<text x="178.4" y="209.1" text-anchor="start" font-size="8.9" font-weight="normal" font-style="normal"><tspan font-style="italic">X</tspan> direction</text>
</g>
<g stroke="#6a6a6a" stroke-width="0.9">
<line x1="39.83" y1="333.9" x2="39.83" y2="332.6"/>
<line x1="39.83" y1="266.6" x2="39.83" y2="267.9"/>
<line x1="44.17" y1="333.9" x2="44.17" y2="332.6"/>
<line x1="44.17" y1="266.6" x2="44.17" y2="267.9"/>
<line x1="48.5" y1="333.9" x2="48.5" y2="332.6"/>
<line x1="48.5" y1="266.6" x2="48.5" y2="267.9"/>
<line x1="52.83" y1="333.9" x2="52.83" y2="332.6"/>
<line x1="52.83" y1="266.6" x2="52.83" y2="267.9"/>
<line x1="57.17" y1="333.9" x2="57.17" y2="331.4"/>
<line x1="57.17" y1="266.6" x2="57.17" y2="269.1"/>
<line x1="61.5" y1="333.9" x2="61.5" y2="332.6"/>
<line x1="61.5" y1="266.6" x2="61.5" y2="267.9"/>
<line x1="65.83" y1="333.9" x2="65.83" y2="332.6"/>
<line x1="65.83" y1="266.6" x2="65.83" y2="267.9"/>
<line x1="70.17" y1="333.9" x2="70.17" y2="332.6"/>
<line x1="70.17" y1="266.6" x2="70.17" y2="267.9"/>
<line x1="74.5" y1="333.9" x2="74.5" y2="332.6"/>
<line x1="74.5" y1="266.6" x2="74.5" y2="267.9"/>
<line x1="78.83" y1="333.9" x2="78.83" y2="331.4"/>
<line x1="78.83" y1="266.6" x2="78.83" y2="269.1"/>
<line x1="83.17" y1="333.9" x2="83.17" y2="332.6"/>
<line x1="83.17" y1="266.6" x2="83.17" y2="267.9"/>
<line x1="87.5" y1="333.9" x2="87.5" y2="332.6"/>
<line x1="87.5" y1="266.6" x2="87.5" y2="267.9"/>
<line x1="91.83" y1="333.9" x2="91.83" y2="332.6"/>
<line x1="91.83" y1="266.6" x2="91.83" y2="267.9"/>
<line x1="96.17" y1="333.9" x2="96.17" y2="332.6"/>
<line x1="96.17" y1="266.6" x2="96.17" y2="267.9"/>
<line x1="100.5" y1="333.9" x2="100.5" y2="331.4"/>
<line x1="100.5" y1="266.6" x2="100.5" y2="269.1"/>
<line x1="104.83" y1="333.9" x2="104.83" y2="332.6"/>
<line x1="104.83" y1="266.6" x2="104.83" y2="267.9"/>
<line x1="109.17" y1="333.9" x2="109.17" y2="332.6"/>
<line x1="109.17" y1="266.6" x2="109.17" y2="267.9"/>
<line x1="113.5" y1="333.9" x2="113.5" y2="332.6"/>
<line x1="113.5" y1="266.6" x2="113.5" y2="267.9"/>
<line x1="117.83" y1="333.9" x2="117.83" y2="332.6"/>
<line x1="117.83" y1="266.6" x2="117.83" y2="267.9"/>
<line x1="122.17" y1="333.9" x2="122.17" y2="331.4"/>
<line x1="122.17" y1="266.6" x2="122.17" y2="269.1"/>
<line x1="126.5" y1="333.9" x2="126.5" y2="332.6"/>
<line x1="126.5" y1="266.6" x2="126.5" y2="267.9"/>
<line x1="130.83" y1="333.9" x2="130.83" y2="332.6"/>
<line x1="130.83" y1="266.6" x2="130.83" y2="267.9"/>
<line x1="135.17" y1="333.9" x2="135.17" y2="332.6"/>
<line x1="135.17" y1="266.6" x2="135.17" y2="267.9"/>
<line x1="139.5" y1="333.9" x2="139.5" y2="332.6"/>
<line x1="139.5" y1="266.6" x2="139.5" y2="267.9"/>
<line x1="143.83" y1="333.9" x2="143.83" y2="331.4"/>
<line x1="143.83" y1="266.6" x2="143.83" y2="269.1"/>
<line x1="148.17" y1="333.9" x2="148.17" y2="332.6"/>
<line x1="148.17" y1="266.6" x2="148.17" y2="267.9"/>
<line x1="152.5" y1="333.9" x2="152.5" y2="332.6"/>
<line x1="152.5" y1="266.6" x2="152.5" y2="267.9"/>
<line x1="156.83" y1="333.9" x2="156.83" y2="332.6"/>
<line x1="156.83" y1="266.6" x2="156.83" y2="267.9"/>
<line x1="161.17" y1="333.9" x2="161.17" y2="332.6"/>
<line x1="161.17" y1="266.6" x2="161.17" y2="267.9"/>
<line x1="165.5" y1="333.9" x2="165.5" y2="331.4"/>
<line x1="165.5" y1="266.6" x2="165.5" y2="269.1"/>
<line x1="169.83" y1="333.9" x2="169.83" y2="332.6"/>
<line x1="169.83" y1="266.6" x2="169.83" y2="267.9"/>
<line x1="174.17" y1="333.9" x2="174.17" y2="332.6"/>
<line x1="174.17" y1="266.6" x2="174.17" y2="267.9"/>
<line x1="178.5" y1="333.9" x2="178.5" y2="332.6"/>
<line x1="178.5" y1="266.6" x2="178.5" y2="267.9"/>
<line x1="182.83" y1="333.9" x2="182.83" y2="332.6"/>
<line x1="182.83" y1="266.6" x2="182.83" y2="267.9"/>
<line x1="187.17" y1="333.9" x2="187.17" y2="331.4"/>
<line x1="187.17" y1="266.6" x2="187.17" y2="269.1"/>
<line x1="191.5" y1="333.9" x2="191.5" y2="332.6"/>
<line x1="191.5" y1="266.6" x2="191.5" y2="267.9"/>
<line x1="195.83" y1="333.9" x2="195.83" y2="332.6"/>
<line x1="195.83" y1="266.6" x2="195.83" y2="267.9"/>
<line x1="200.17" y1="333.9" x2="200.17" y2="332.6"/>
<line x1="200.17" y1="266.6" x2="200.17" y2="267.9"/>
<line x1="204.5" y1="333.9" x2="204.5" y2="332.6"/>
<line x1="204.5" y1="266.6" x2="204.5" y2="267.9"/>
<line x1="208.83" y1="333.9" x2="208.83" y2="331.4"/>
<line x1="208.83" y1="266.6" x2="208.83" y2="269.1"/>
<line x1="213.17" y1="333.9" x2="213.17" y2="332.6"/>
<line x1="213.17" y1="266.6" x2="213.17" y2="267.9"/>
<line x1="217.5" y1="333.9" x2="217.5" y2="332.6"/>
<line x1="217.5" y1="266.6" x2="217.5" y2="267.9"/>
<line x1="221.83" y1="333.9" x2="221.83" y2="332.6"/>
<line x1="221.83" y1="266.6" x2="221.83" y2="267.9"/>
<line x1="226.17" y1="333.9" x2="226.17" y2="332.6"/>
<line x1="226.17" y1="266.6" x2="226.17" y2="267.9"/>
<line x1="35.5" y1="331.66" x2="36.8" y2="331.66"/>
<line x1="230.5" y1="331.66" x2="229.2" y2="331.66"/>
<line x1="35.5" y1="329.41" x2="36.8" y2="329.41"/>
<line x1="230.5" y1="329.41" x2="229.2" y2="329.41"/>
<line x1="35.5" y1="327.17" x2="36.8" y2="327.17"/>
<line x1="230.5" y1="327.17" x2="229.2" y2="327.17"/>
<line x1="35.5" y1="324.93" x2="36.8" y2="324.93"/>
<line x1="230.5" y1="324.93" x2="229.2" y2="324.93"/>
<line x1="35.5" y1="320.44" x2="36.8" y2="320.44"/>
<line x1="230.5" y1="320.44" x2="229.2" y2="320.44"/>
<line x1="35.5" y1="318.2" x2="36.8" y2="318.2"/>
<line x1="230.5" y1="318.2" x2="229.2" y2="318.2"/>
<line x1="35.5" y1="315.95" x2="36.8" y2="315.95"/>
<line x1="230.5" y1="315.95" x2="229.2" y2="315.95"/>
<line x1="35.5" y1="313.71" x2="36.8" y2="313.71"/>
<line x1="230.5" y1="313.71" x2="229.2" y2="313.71"/>
<line x1="35.5" y1="311.47" x2="36.8" y2="311.47"/>
<line x1="230.5" y1="311.47" x2="229.2" y2="311.47"/>
<line x1="35.5" y1="309.22" x2="36.8" y2="309.22"/>
<line x1="230.5" y1="309.22" x2="229.2" y2="309.22"/>
<line x1="35.5" y1="306.98" x2="36.8" y2="306.98"/>
<line x1="230.5" y1="306.98" x2="229.2" y2="306.98"/>
<line x1="35.5" y1="304.74" x2="36.8" y2="304.74"/>
<line x1="230.5" y1="304.74" x2="229.2" y2="304.74"/>
<line x1="35.5" y1="302.49" x2="36.8" y2="302.49"/>
<line x1="230.5" y1="302.49" x2="229.2" y2="302.49"/>
<line x1="35.5" y1="300.25" x2="38" y2="300.25"/>
<line x1="230.5" y1="300.25" x2="228" y2="300.25"/>
<line x1="35.5" y1="298.01" x2="36.8" y2="298.01"/>
<line x1="230.5" y1="298.01" x2="229.2" y2="298.01"/>
<line x1="35.5" y1="295.76" x2="36.8" y2="295.76"/>
<line x1="230.5" y1="295.76" x2="229.2" y2="295.76"/>
<line x1="35.5" y1="293.52" x2="36.8" y2="293.52"/>
<line x1="230.5" y1="293.52" x2="229.2" y2="293.52"/>
<line x1="35.5" y1="291.28" x2="36.8" y2="291.28"/>
<line x1="230.5" y1="291.28" x2="229.2" y2="291.28"/>
<line x1="35.5" y1="289.03" x2="36.8" y2="289.03"/>
<line x1="230.5" y1="289.03" x2="229.2" y2="289.03"/>
<line x1="35.5" y1="286.79" x2="36.8" y2="286.79"/>
<line x1="230.5" y1="286.79" x2="229.2" y2="286.79"/>
<line x1="35.5" y1="284.55" x2="36.8" y2="284.55"/>
<line x1="230.5" y1="284.55" x2="229.2" y2="284.55"/>
<line x1="35.5" y1="282.3" x2="36.8" y2="282.3"/>
<line x1="230.5" y1="282.3" x2="229.2" y2="282.3"/>
<line x1="35.5" y1="280.06" x2="36.8" y2="280.06"/>
<line x1="230.5" y1="280.06" x2="229.2" y2="280.06"/>
<line x1="35.5" y1="277.82" x2="38" y2="277.82"/>
<line x1="230.5" y1="277.82" x2="228" y2="277.82"/>
<line x1="35.5" y1="275.57" x2="36.8" y2="275.57"/>
<line x1="230.5" y1="275.57" x2="229.2" y2="275.57"/>
<line x1="35.5" y1="273.33" x2="36.8" y2="273.33"/>
<line x1="230.5" y1="273.33" x2="229.2" y2="273.33"/>
<line x1="35.5" y1="271.09" x2="36.8" y2="271.09"/>
<line x1="230.5" y1="271.09" x2="229.2" y2="271.09"/>
<line x1="35.5" y1="268.84" x2="36.8" y2="268.84"/>
<line x1="230.5" y1="268.84" x2="229.2" y2="268.84"/>
</g>
<line x1="58.4" y1="322.5" x2="102.3" y2="322.5" stroke="#a0a0a0" stroke-width="1"/>
<mask id="m11" maskUnits="userSpaceOnUse" x="0" y="0" width="685" height="428"><rect x="0" y="0" width="685" height="428" fill="#fff"/><rect x="33.5" y="321" width="23.6" height="3" fill="#000"/><rect x="196.3" y="321" width="36.2" height="3" fill="#000"/></mask>
<g fill="none" stroke-width="1.0" stroke-linejoin="round">
<path d="M35.5,322.5L59.3,322.5C60.53,322.5 61.77,320.68 63,320.5C64.67,320.26 66.33,320.34 68,320.1C69.23,319.92 70.47,318.73 71.7,317.9C72.67,317.25 73.63,316.8 74.6,315.7C75.3,314.91 76,313.01 76.7,311.4C77.43,309.71 78.17,307.41 78.9,305.6C79.63,303.79 80.37,301.27 81.1,300.5C81.57,300.01 82.03,299.5 82.5,299.5C83,299.5 83.5,300.89 84,302C84.57,303.26 85.13,306.73 85.7,307.8C86.47,309.24 87.23,309.5 88,310.7C88.6,311.64 89.2,313.03 89.8,314.3C90.53,315.86 91.27,317.96 92,319.3C92.7,320.58 93.4,321.94 94.1,322.5C94.83,323.09 95.57,323.7 96.3,323.7C97.03,323.7 97.77,323.17 98.5,323C99.47,322.78 100.43,322.5 101.4,322.5C103.33,322.5 105.27,322.5 107.2,322.5L230.5,322.5" stroke="#ff3030" mask="url(#m11)"/>
<path d="M35.5,322.5L58,322.5C58.43,322.5 58.87,322.5 59.3,322.5C60.03,322.5 60.77,320.56 61.5,318.6C62,317.27 62.5,314.11 63,311.4C63.47,308.87 63.93,304.29 64.4,302.7C65,300.66 65.6,298.6 66.2,298.6C66.8,298.6 67.4,302.4 68,302.4C68.73,302.4 69.47,296.98 70.2,295.4C70.93,293.82 71.67,291.8 72.4,291.8C73.13,291.8 73.87,295.6 74.6,296.9C75.2,297.96 75.8,299.5 76.4,299.5C77.1,299.5 77.8,296.01 78.5,294C79.27,291.8 80.03,286.7 80.8,286.7C81.37,286.7 81.93,288.02 82.5,288.9C83,289.68 83.5,291.8 84,291.8C84.57,291.8 85.13,288.62 85.7,286.7C86.2,285.01 86.7,281.69 87.2,280.9C87.67,280.16 88.13,279.5 88.6,279.5C89.23,279.5 89.87,282.25 90.5,282.7C91.33,283.3 92.17,283.2 93,283.8C93.77,284.35 94.53,287.14 95.3,288.2C95.97,289.13 96.63,290.4 97.3,290.4C98.17,290.4 99.03,288.2 99.9,288.2C100.63,288.2 101.37,289.38 102.1,290.4C102.83,291.42 103.57,293.38 104.3,295.4C105,297.33 105.7,300.46 106.4,302.7C107.13,305.04 107.87,307.56 108.6,309.2C109.4,310.99 110.2,312.62 111,313.5C111.8,314.38 112.6,315.4 113.4,315.4C115.03,315.4 116.67,313.1 118.3,313.1C119.47,313.1 120.63,314.31 121.8,314.9C123.2,315.61 124.6,316.61 126,317C127.17,317.33 128.33,317.43 129.5,317.7C130.67,317.97 131.83,318.7 133,318.7C134.17,318.7 135.33,317.7 136.5,317.7C138.03,317.7 139.57,321.5 141.1,321.5C142.6,321.5 144.1,319.37 145.6,319.1C146.77,318.89 147.93,318.95 149.1,318.7C150.03,318.5 150.97,316.3 151.9,315.6C152.83,314.9 153.77,314 154.7,314C155.63,314 156.57,314.43 157.5,314.9C158.43,315.37 159.37,317.19 160.3,318.2C161.23,319.21 162.17,321 163.1,321C164.5,321 165.9,319.1 167.3,319.1C168.47,319.1 169.63,321.2 170.8,321.2C172.2,321.2 173.6,321.2 175,321.2C176.47,321.2 177.93,321.5 179.4,321.5C180.6,321.5 181.8,320.22 183,319.3C183.97,318.56 184.93,317.03 185.9,316.4C186.63,315.92 187.37,315.3 188.1,315.3C188.83,315.3 189.57,316.37 190.3,317.2C191.03,318.03 191.77,320.15 192.5,320.8C193.47,321.65 194.43,322.5 195.4,322.5L230.5,322.5" stroke="#38f038"/>
</g>
<rect x="35.5" y="266.6" width="195" height="67.3" fill="none" stroke="#999999" stroke-width="1"/>
<g fill="#111" font-family='"Liberation Sans", sans-serif'>
<text transform="matrix(0.906,0,0,1,30.3,325.7)" text-anchor="end" font-size="9.6">0</text>
<text transform="matrix(0.906,0,0,1,30.3,303.27)" text-anchor="end" font-size="9.6">2</text>
<text transform="matrix(0.906,0,0,1,30.3,280.83)" text-anchor="end" font-size="9.6">4</text>
<text x="178.4" y="276.2" text-anchor="start" font-size="8.9" font-weight="normal" font-style="normal"><tspan font-style="italic">Y</tspan> direction</text>
</g>
<g stroke="#6a6a6a" stroke-width="0.9">
<line x1="39.83" y1="401.3" x2="39.83" y2="400"/>
<line x1="39.83" y1="333.9" x2="39.83" y2="335.2"/>
<line x1="44.17" y1="401.3" x2="44.17" y2="400"/>
<line x1="44.17" y1="333.9" x2="44.17" y2="335.2"/>
<line x1="48.5" y1="401.3" x2="48.5" y2="400"/>
<line x1="48.5" y1="333.9" x2="48.5" y2="335.2"/>
<line x1="52.83" y1="401.3" x2="52.83" y2="400"/>
<line x1="52.83" y1="333.9" x2="52.83" y2="335.2"/>
<line x1="57.17" y1="401.3" x2="57.17" y2="398.8"/>
<line x1="57.17" y1="333.9" x2="57.17" y2="336.4"/>
<line x1="61.5" y1="401.3" x2="61.5" y2="400"/>
<line x1="61.5" y1="333.9" x2="61.5" y2="335.2"/>
<line x1="65.83" y1="401.3" x2="65.83" y2="400"/>
<line x1="65.83" y1="333.9" x2="65.83" y2="335.2"/>
<line x1="70.17" y1="401.3" x2="70.17" y2="400"/>
<line x1="70.17" y1="333.9" x2="70.17" y2="335.2"/>
<line x1="74.5" y1="401.3" x2="74.5" y2="400"/>
<line x1="74.5" y1="333.9" x2="74.5" y2="335.2"/>
<line x1="78.83" y1="401.3" x2="78.83" y2="398.8"/>
<line x1="78.83" y1="333.9" x2="78.83" y2="336.4"/>
<line x1="83.17" y1="401.3" x2="83.17" y2="400"/>
<line x1="83.17" y1="333.9" x2="83.17" y2="335.2"/>
<line x1="87.5" y1="401.3" x2="87.5" y2="400"/>
<line x1="87.5" y1="333.9" x2="87.5" y2="335.2"/>
<line x1="91.83" y1="401.3" x2="91.83" y2="400"/>
<line x1="91.83" y1="333.9" x2="91.83" y2="335.2"/>
<line x1="96.17" y1="401.3" x2="96.17" y2="400"/>
<line x1="96.17" y1="333.9" x2="96.17" y2="335.2"/>
<line x1="100.5" y1="401.3" x2="100.5" y2="398.8"/>
<line x1="100.5" y1="333.9" x2="100.5" y2="336.4"/>
<line x1="104.83" y1="401.3" x2="104.83" y2="400"/>
<line x1="104.83" y1="333.9" x2="104.83" y2="335.2"/>
<line x1="109.17" y1="401.3" x2="109.17" y2="400"/>
<line x1="109.17" y1="333.9" x2="109.17" y2="335.2"/>
<line x1="113.5" y1="401.3" x2="113.5" y2="400"/>
<line x1="113.5" y1="333.9" x2="113.5" y2="335.2"/>
<line x1="117.83" y1="401.3" x2="117.83" y2="400"/>
<line x1="117.83" y1="333.9" x2="117.83" y2="335.2"/>
<line x1="122.17" y1="401.3" x2="122.17" y2="398.8"/>
<line x1="122.17" y1="333.9" x2="122.17" y2="336.4"/>
<line x1="126.5" y1="401.3" x2="126.5" y2="400"/>
<line x1="126.5" y1="333.9" x2="126.5" y2="335.2"/>
<line x1="130.83" y1="401.3" x2="130.83" y2="400"/>
<line x1="130.83" y1="333.9" x2="130.83" y2="335.2"/>
<line x1="135.17" y1="401.3" x2="135.17" y2="400"/>
<line x1="135.17" y1="333.9" x2="135.17" y2="335.2"/>
<line x1="139.5" y1="401.3" x2="139.5" y2="400"/>
<line x1="139.5" y1="333.9" x2="139.5" y2="335.2"/>
<line x1="143.83" y1="401.3" x2="143.83" y2="398.8"/>
<line x1="143.83" y1="333.9" x2="143.83" y2="336.4"/>
<line x1="148.17" y1="401.3" x2="148.17" y2="400"/>
<line x1="148.17" y1="333.9" x2="148.17" y2="335.2"/>
<line x1="152.5" y1="401.3" x2="152.5" y2="400"/>
<line x1="152.5" y1="333.9" x2="152.5" y2="335.2"/>
<line x1="156.83" y1="401.3" x2="156.83" y2="400"/>
<line x1="156.83" y1="333.9" x2="156.83" y2="335.2"/>
<line x1="161.17" y1="401.3" x2="161.17" y2="400"/>
<line x1="161.17" y1="333.9" x2="161.17" y2="335.2"/>
<line x1="165.5" y1="401.3" x2="165.5" y2="398.8"/>
<line x1="165.5" y1="333.9" x2="165.5" y2="336.4"/>
<line x1="169.83" y1="401.3" x2="169.83" y2="400"/>
<line x1="169.83" y1="333.9" x2="169.83" y2="335.2"/>
<line x1="174.17" y1="401.3" x2="174.17" y2="400"/>
<line x1="174.17" y1="333.9" x2="174.17" y2="335.2"/>
<line x1="178.5" y1="401.3" x2="178.5" y2="400"/>
<line x1="178.5" y1="333.9" x2="178.5" y2="335.2"/>
<line x1="182.83" y1="401.3" x2="182.83" y2="400"/>
<line x1="182.83" y1="333.9" x2="182.83" y2="335.2"/>
<line x1="187.17" y1="401.3" x2="187.17" y2="398.8"/>
<line x1="187.17" y1="333.9" x2="187.17" y2="336.4"/>
<line x1="191.5" y1="401.3" x2="191.5" y2="400"/>
<line x1="191.5" y1="333.9" x2="191.5" y2="335.2"/>
<line x1="195.83" y1="401.3" x2="195.83" y2="400"/>
<line x1="195.83" y1="333.9" x2="195.83" y2="335.2"/>
<line x1="200.17" y1="401.3" x2="200.17" y2="400"/>
<line x1="200.17" y1="333.9" x2="200.17" y2="335.2"/>
<line x1="204.5" y1="401.3" x2="204.5" y2="400"/>
<line x1="204.5" y1="333.9" x2="204.5" y2="335.2"/>
<line x1="208.83" y1="401.3" x2="208.83" y2="398.8"/>
<line x1="208.83" y1="333.9" x2="208.83" y2="336.4"/>
<line x1="213.17" y1="401.3" x2="213.17" y2="400"/>
<line x1="213.17" y1="333.9" x2="213.17" y2="335.2"/>
<line x1="217.5" y1="401.3" x2="217.5" y2="400"/>
<line x1="217.5" y1="333.9" x2="217.5" y2="335.2"/>
<line x1="221.83" y1="401.3" x2="221.83" y2="400"/>
<line x1="221.83" y1="333.9" x2="221.83" y2="335.2"/>
<line x1="226.17" y1="401.3" x2="226.17" y2="400"/>
<line x1="226.17" y1="333.9" x2="226.17" y2="335.2"/>
<line x1="35.5" y1="399.05" x2="36.8" y2="399.05"/>
<line x1="230.5" y1="399.05" x2="229.2" y2="399.05"/>
<line x1="35.5" y1="396.81" x2="36.8" y2="396.81"/>
<line x1="230.5" y1="396.81" x2="229.2" y2="396.81"/>
<line x1="35.5" y1="394.56" x2="36.8" y2="394.56"/>
<line x1="230.5" y1="394.56" x2="229.2" y2="394.56"/>
<line x1="35.5" y1="392.31" x2="36.8" y2="392.31"/>
<line x1="230.5" y1="392.31" x2="229.2" y2="392.31"/>
<line x1="35.5" y1="387.82" x2="36.8" y2="387.82"/>
<line x1="230.5" y1="387.82" x2="229.2" y2="387.82"/>
<line x1="35.5" y1="385.57" x2="36.8" y2="385.57"/>
<line x1="230.5" y1="385.57" x2="229.2" y2="385.57"/>
<line x1="35.5" y1="383.33" x2="36.8" y2="383.33"/>
<line x1="230.5" y1="383.33" x2="229.2" y2="383.33"/>
<line x1="35.5" y1="381.08" x2="36.8" y2="381.08"/>
<line x1="230.5" y1="381.08" x2="229.2" y2="381.08"/>
<line x1="35.5" y1="378.83" x2="36.8" y2="378.83"/>
<line x1="230.5" y1="378.83" x2="229.2" y2="378.83"/>
<line x1="35.5" y1="376.59" x2="36.8" y2="376.59"/>
<line x1="230.5" y1="376.59" x2="229.2" y2="376.59"/>
<line x1="35.5" y1="374.34" x2="36.8" y2="374.34"/>
<line x1="230.5" y1="374.34" x2="229.2" y2="374.34"/>
<line x1="35.5" y1="372.09" x2="36.8" y2="372.09"/>
<line x1="230.5" y1="372.09" x2="229.2" y2="372.09"/>
<line x1="35.5" y1="369.85" x2="36.8" y2="369.85"/>
<line x1="230.5" y1="369.85" x2="229.2" y2="369.85"/>
<line x1="35.5" y1="367.6" x2="38" y2="367.6"/>
<line x1="230.5" y1="367.6" x2="228" y2="367.6"/>
<line x1="35.5" y1="365.35" x2="36.8" y2="365.35"/>
<line x1="230.5" y1="365.35" x2="229.2" y2="365.35"/>
<line x1="35.5" y1="363.11" x2="36.8" y2="363.11"/>
<line x1="230.5" y1="363.11" x2="229.2" y2="363.11"/>
<line x1="35.5" y1="360.86" x2="36.8" y2="360.86"/>
<line x1="230.5" y1="360.86" x2="229.2" y2="360.86"/>
<line x1="35.5" y1="358.61" x2="36.8" y2="358.61"/>
<line x1="230.5" y1="358.61" x2="229.2" y2="358.61"/>
<line x1="35.5" y1="356.37" x2="36.8" y2="356.37"/>
<line x1="230.5" y1="356.37" x2="229.2" y2="356.37"/>
<line x1="35.5" y1="354.12" x2="36.8" y2="354.12"/>
<line x1="230.5" y1="354.12" x2="229.2" y2="354.12"/>
<line x1="35.5" y1="351.87" x2="36.8" y2="351.87"/>
<line x1="230.5" y1="351.87" x2="229.2" y2="351.87"/>
<line x1="35.5" y1="349.63" x2="36.8" y2="349.63"/>
<line x1="230.5" y1="349.63" x2="229.2" y2="349.63"/>
<line x1="35.5" y1="347.38" x2="36.8" y2="347.38"/>
<line x1="230.5" y1="347.38" x2="229.2" y2="347.38"/>
<line x1="35.5" y1="345.13" x2="38" y2="345.13"/>
<line x1="230.5" y1="345.13" x2="228" y2="345.13"/>
<line x1="35.5" y1="342.89" x2="36.8" y2="342.89"/>
<line x1="230.5" y1="342.89" x2="229.2" y2="342.89"/>
<line x1="35.5" y1="340.64" x2="36.8" y2="340.64"/>
<line x1="230.5" y1="340.64" x2="229.2" y2="340.64"/>
<line x1="35.5" y1="338.39" x2="36.8" y2="338.39"/>
<line x1="230.5" y1="338.39" x2="229.2" y2="338.39"/>
<line x1="35.5" y1="336.15" x2="36.8" y2="336.15"/>
<line x1="230.5" y1="336.15" x2="229.2" y2="336.15"/>
</g>
<line x1="57.6" y1="390" x2="102.2" y2="390" stroke="#a0a0a0" stroke-width="1"/>
<mask id="m12" maskUnits="userSpaceOnUse" x="0" y="0" width="685" height="428"><rect x="0" y="0" width="685" height="428" fill="#fff"/><rect x="33.5" y="388.5" width="23.1" height="3" fill="#000"/><rect x="205.3" y="388.5" width="27.2" height="3" fill="#000"/></mask>
<g fill="none" stroke-width="1.0" stroke-linejoin="round">
<path d="M35.5,390L58.5,390C59.33,390 60.17,389.67 61,389.4C61.67,389.18 62.33,388.97 63,388.4C63.6,387.89 64.2,385.48 64.8,383.4C65.27,381.78 65.73,378.15 66.2,377.1C66.67,376.05 67.13,375 67.6,375C68.07,375 68.53,376.65 69,377.8C69.57,379.2 70.13,382.32 70.7,383.4C71.3,384.54 71.9,385.8 72.5,385.8C73.2,385.8 73.9,384.95 74.6,384.4C75.2,383.93 75.8,382.7 76.4,382.7C76.97,382.7 77.53,383.55 78.1,384.1C78.8,384.78 79.5,386.21 80.2,386.6C81.13,387.13 82.07,387.6 83,387.6C84.17,387.6 85.33,386.2 86.5,386.2C87.67,386.2 88.83,386.62 90,386.9C91.2,387.19 92.4,387.84 93.6,388C94.77,388.16 95.93,388.14 97.1,388.3C98.5,388.49 99.9,390 101.3,390L115,390L230.5,390" stroke="#ff3030" mask="url(#m12)"/>
<path d="M35.5,390L57.5,390C58.17,390 58.83,389.5 59.5,389.2C60.17,388.9 60.83,388.66 61.5,388.2C62,387.85 62.5,387.45 63,386.6C63.6,385.58 64.2,382.16 64.8,378.5C65.27,375.65 65.73,369.22 66.2,365.8C66.67,362.38 67.13,357.2 67.6,357.2C68.07,357.2 68.53,358.92 69,360.9C69.37,362.46 69.73,368.92 70.1,371.5C70.67,375.48 71.23,380.6 71.8,380.6C72.5,380.6 73.2,379.33 73.9,378.5C74.6,377.67 75.3,375.4 76,375.4C76.57,375.4 77.13,376.7 77.7,377.8C78.3,378.96 78.9,382.64 79.5,383.4C80.43,384.58 81.37,385.5 82.3,385.5C83.47,385.5 84.63,383.8 85.8,383.8C86.97,383.8 88.13,384.32 89.3,384.8C90.27,385.2 91.23,386.52 92.2,386.9C93.6,387.45 95,387.62 96.4,388C98.03,388.45 99.67,389.4 101.3,389.4C102.93,389.4 104.57,389.4 106.2,389.4C107.83,389.4 109.47,388.66 111.1,388.3C112.8,387.93 114.5,387.2 116.2,387.2C117.7,387.2 119.2,387.68 120.7,387.9C121.87,388.07 123.03,388.4 124.2,388.4C125.4,388.4 126.6,385.83 127.8,384.9C129.1,383.89 130.4,382.4 131.7,382.4C133.07,382.4 134.43,383.27 135.8,384C137,384.64 138.2,387 139.4,387C140.17,387 140.93,386.3 141.7,386.3C142.7,386.3 143.7,387.2 144.7,387.2C145.6,387.2 146.5,386.79 147.4,386.3C148.3,385.81 149.2,383.05 150.1,382.2C150.97,381.38 151.83,380.4 152.7,380.4C153.6,380.4 154.5,381.3 155.4,381.3C156.3,381.3 157.2,380.4 158.1,380.4C159.27,380.4 160.43,382 161.6,383.1C162.8,384.23 164,386.85 165.2,387.5C167,388.48 168.8,389.02 170.6,389.3C172.97,389.67 175.33,390 177.7,390C179.47,390 181.23,389.41 183,388.8C184.5,388.29 186,387.02 187.5,385.8C188.67,384.85 189.83,382.96 191,382.2C191.6,381.81 192.2,381.3 192.8,381.3C193.4,381.3 194,383.03 194.6,384C195.37,385.24 196.13,388.1 196.9,388.1C197.9,388.1 198.9,387.5 199.9,387.5C200.8,387.5 201.7,388.87 202.6,389.3C203.2,389.59 203.8,390 204.4,390L230.5,390" stroke="#38f038"/>
</g>
<rect x="35.5" y="333.9" width="195" height="67.4" fill="none" stroke="#999999" stroke-width="1"/>
<g fill="#111" font-family='"Liberation Sans", sans-serif'>
<text transform="matrix(0.906,0,0,1,30.3,393.2)" text-anchor="end" font-size="9.6">0</text>
<text transform="matrix(0.906,0,0,1,30.3,370.73)" text-anchor="end" font-size="9.6">2</text>
<text transform="matrix(0.906,0,0,1,30.3,348.27)" text-anchor="end" font-size="9.6">4</text>
<text x="178.4" y="343.5" text-anchor="start" font-size="8.9" font-weight="normal" font-style="normal"><tspan font-style="italic">Z</tspan> direction</text>
</g>
<g fill="#111" font-family='"Liberation Sans", sans-serif'>
<text transform="matrix(0.906,0,0,1,35.5,413.1)" text-anchor="middle" font-size="9.6">-5</text>
<text transform="matrix(0.906,0,0,1,58.07,413.1)" text-anchor="middle" font-size="9.6">0</text>
<text transform="matrix(0.906,0,0,1,79.73,413.1)" text-anchor="middle" font-size="9.6">5</text>
<text transform="matrix(0.906,0,0,1,101.4,413.1)" text-anchor="middle" font-size="9.6">10</text>
<text transform="matrix(0.906,0,0,1,123.07,413.1)" text-anchor="middle" font-size="9.6">15</text>
<text transform="matrix(0.906,0,0,1,144.73,413.1)" text-anchor="middle" font-size="9.6">20</text>
<text transform="matrix(0.906,0,0,1,166.4,413.1)" text-anchor="middle" font-size="9.6">25</text>
<text transform="matrix(0.906,0,0,1,188.07,413.1)" text-anchor="middle" font-size="9.6">30</text>
<text transform="matrix(0.906,0,0,1,209.73,413.1)" text-anchor="middle" font-size="9.6">35</text>
<text transform="matrix(0.906,0,0,1,231.4,413.1)" text-anchor="middle" font-size="9.6">40</text>
<text x="133" y="425.8" text-anchor="middle" font-size="8.85" font-weight="normal" font-style="normal">Frequency (THz)</text>
<line x1="154.1" y1="220.4" x2="177.5" y2="220.4" stroke="#ff3030" stroke-width="1.1"/>
<line x1="154.1" y1="229.3" x2="177.5" y2="229.3" stroke="#38f038" stroke-width="1.1"/>
<text x="182.5" y="222.9" text-anchor="start" font-size="8.1" font-weight="normal" font-style="normal">Na layer</text>
<text x="182.5" y="230.6" text-anchor="start" font-size="8.1" font-weight="normal" font-style="normal">CoO<tspan font-size="6.6" dy="2.5">2</tspan><tspan dy="-2.5"> layer</tspan></text>
</g>
<g stroke="#6a6a6a" stroke-width="0.9">
<line x1="263.83" y1="266.6" x2="263.83" y2="265.3"/>
<line x1="263.83" y1="199.5" x2="263.83" y2="200.8"/>
<line x1="268.17" y1="266.6" x2="268.17" y2="265.3"/>
<line x1="268.17" y1="199.5" x2="268.17" y2="200.8"/>
<line x1="272.5" y1="266.6" x2="272.5" y2="265.3"/>
<line x1="272.5" y1="199.5" x2="272.5" y2="200.8"/>
<line x1="276.83" y1="266.6" x2="276.83" y2="265.3"/>
<line x1="276.83" y1="199.5" x2="276.83" y2="200.8"/>
<line x1="281.17" y1="266.6" x2="281.17" y2="264.1"/>
<line x1="281.17" y1="199.5" x2="281.17" y2="202"/>
<line x1="285.5" y1="266.6" x2="285.5" y2="265.3"/>
<line x1="285.5" y1="199.5" x2="285.5" y2="200.8"/>
<line x1="289.83" y1="266.6" x2="289.83" y2="265.3"/>
<line x1="289.83" y1="199.5" x2="289.83" y2="200.8"/>
<line x1="294.17" y1="266.6" x2="294.17" y2="265.3"/>
<line x1="294.17" y1="199.5" x2="294.17" y2="200.8"/>
<line x1="298.5" y1="266.6" x2="298.5" y2="265.3"/>
<line x1="298.5" y1="199.5" x2="298.5" y2="200.8"/>
<line x1="302.83" y1="266.6" x2="302.83" y2="264.1"/>
<line x1="302.83" y1="199.5" x2="302.83" y2="202"/>
<line x1="307.17" y1="266.6" x2="307.17" y2="265.3"/>
<line x1="307.17" y1="199.5" x2="307.17" y2="200.8"/>
<line x1="311.5" y1="266.6" x2="311.5" y2="265.3"/>
<line x1="311.5" y1="199.5" x2="311.5" y2="200.8"/>
<line x1="315.83" y1="266.6" x2="315.83" y2="265.3"/>
<line x1="315.83" y1="199.5" x2="315.83" y2="200.8"/>
<line x1="320.17" y1="266.6" x2="320.17" y2="265.3"/>
<line x1="320.17" y1="199.5" x2="320.17" y2="200.8"/>
<line x1="324.5" y1="266.6" x2="324.5" y2="264.1"/>
<line x1="324.5" y1="199.5" x2="324.5" y2="202"/>
<line x1="328.83" y1="266.6" x2="328.83" y2="265.3"/>
<line x1="328.83" y1="199.5" x2="328.83" y2="200.8"/>
<line x1="333.17" y1="266.6" x2="333.17" y2="265.3"/>
<line x1="333.17" y1="199.5" x2="333.17" y2="200.8"/>
<line x1="337.5" y1="266.6" x2="337.5" y2="265.3"/>
<line x1="337.5" y1="199.5" x2="337.5" y2="200.8"/>
<line x1="341.83" y1="266.6" x2="341.83" y2="265.3"/>
<line x1="341.83" y1="199.5" x2="341.83" y2="200.8"/>
<line x1="346.17" y1="266.6" x2="346.17" y2="264.1"/>
<line x1="346.17" y1="199.5" x2="346.17" y2="202"/>
<line x1="350.5" y1="266.6" x2="350.5" y2="265.3"/>
<line x1="350.5" y1="199.5" x2="350.5" y2="200.8"/>
<line x1="354.83" y1="266.6" x2="354.83" y2="265.3"/>
<line x1="354.83" y1="199.5" x2="354.83" y2="200.8"/>
<line x1="359.17" y1="266.6" x2="359.17" y2="265.3"/>
<line x1="359.17" y1="199.5" x2="359.17" y2="200.8"/>
<line x1="363.5" y1="266.6" x2="363.5" y2="265.3"/>
<line x1="363.5" y1="199.5" x2="363.5" y2="200.8"/>
<line x1="367.83" y1="266.6" x2="367.83" y2="264.1"/>
<line x1="367.83" y1="199.5" x2="367.83" y2="202"/>
<line x1="372.17" y1="266.6" x2="372.17" y2="265.3"/>
<line x1="372.17" y1="199.5" x2="372.17" y2="200.8"/>
<line x1="376.5" y1="266.6" x2="376.5" y2="265.3"/>
<line x1="376.5" y1="199.5" x2="376.5" y2="200.8"/>
<line x1="380.83" y1="266.6" x2="380.83" y2="265.3"/>
<line x1="380.83" y1="199.5" x2="380.83" y2="200.8"/>
<line x1="385.17" y1="266.6" x2="385.17" y2="265.3"/>
<line x1="385.17" y1="199.5" x2="385.17" y2="200.8"/>
<line x1="389.5" y1="266.6" x2="389.5" y2="264.1"/>
<line x1="389.5" y1="199.5" x2="389.5" y2="202"/>
<line x1="393.83" y1="266.6" x2="393.83" y2="265.3"/>
<line x1="393.83" y1="199.5" x2="393.83" y2="200.8"/>
<line x1="398.17" y1="266.6" x2="398.17" y2="265.3"/>
<line x1="398.17" y1="199.5" x2="398.17" y2="200.8"/>
<line x1="402.5" y1="266.6" x2="402.5" y2="265.3"/>
<line x1="402.5" y1="199.5" x2="402.5" y2="200.8"/>
<line x1="406.83" y1="266.6" x2="406.83" y2="265.3"/>
<line x1="406.83" y1="199.5" x2="406.83" y2="200.8"/>
<line x1="411.17" y1="266.6" x2="411.17" y2="264.1"/>
<line x1="411.17" y1="199.5" x2="411.17" y2="202"/>
<line x1="415.5" y1="266.6" x2="415.5" y2="265.3"/>
<line x1="415.5" y1="199.5" x2="415.5" y2="200.8"/>
<line x1="419.83" y1="266.6" x2="419.83" y2="265.3"/>
<line x1="419.83" y1="199.5" x2="419.83" y2="200.8"/>
<line x1="424.17" y1="266.6" x2="424.17" y2="265.3"/>
<line x1="424.17" y1="199.5" x2="424.17" y2="200.8"/>
<line x1="428.5" y1="266.6" x2="428.5" y2="265.3"/>
<line x1="428.5" y1="199.5" x2="428.5" y2="200.8"/>
<line x1="432.83" y1="266.6" x2="432.83" y2="264.1"/>
<line x1="432.83" y1="199.5" x2="432.83" y2="202"/>
<line x1="437.17" y1="266.6" x2="437.17" y2="265.3"/>
<line x1="437.17" y1="199.5" x2="437.17" y2="200.8"/>
<line x1="441.5" y1="266.6" x2="441.5" y2="265.3"/>
<line x1="441.5" y1="199.5" x2="441.5" y2="200.8"/>
<line x1="445.83" y1="266.6" x2="445.83" y2="265.3"/>
<line x1="445.83" y1="199.5" x2="445.83" y2="200.8"/>
<line x1="450.17" y1="266.6" x2="450.17" y2="265.3"/>
<line x1="450.17" y1="199.5" x2="450.17" y2="200.8"/>
<line x1="259.5" y1="264.36" x2="260.8" y2="264.36"/>
<line x1="454.5" y1="264.36" x2="453.2" y2="264.36"/>
<line x1="259.5" y1="262.13" x2="260.8" y2="262.13"/>
<line x1="454.5" y1="262.13" x2="453.2" y2="262.13"/>
<line x1="259.5" y1="259.89" x2="260.8" y2="259.89"/>
<line x1="454.5" y1="259.89" x2="453.2" y2="259.89"/>
<line x1="259.5" y1="257.65" x2="260.8" y2="257.65"/>
<line x1="454.5" y1="257.65" x2="453.2" y2="257.65"/>
<line x1="259.5" y1="253.18" x2="260.8" y2="253.18"/>
<line x1="454.5" y1="253.18" x2="453.2" y2="253.18"/>
<line x1="259.5" y1="250.94" x2="260.8" y2="250.94"/>
<line x1="454.5" y1="250.94" x2="453.2" y2="250.94"/>
<line x1="259.5" y1="248.71" x2="260.8" y2="248.71"/>
<line x1="454.5" y1="248.71" x2="453.2" y2="248.71"/>
<line x1="259.5" y1="246.47" x2="260.8" y2="246.47"/>
<line x1="454.5" y1="246.47" x2="453.2" y2="246.47"/>
<line x1="259.5" y1="244.23" x2="260.8" y2="244.23"/>
<line x1="454.5" y1="244.23" x2="453.2" y2="244.23"/>
<line x1="259.5" y1="242" x2="260.8" y2="242"/>
<line x1="454.5" y1="242" x2="453.2" y2="242"/>
<line x1="259.5" y1="239.76" x2="260.8" y2="239.76"/>
<line x1="454.5" y1="239.76" x2="453.2" y2="239.76"/>
<line x1="259.5" y1="237.52" x2="260.8" y2="237.52"/>
<line x1="454.5" y1="237.52" x2="453.2" y2="237.52"/>
<line x1="259.5" y1="235.29" x2="260.8" y2="235.29"/>
<line x1="454.5" y1="235.29" x2="453.2" y2="235.29"/>
<line x1="259.5" y1="233.05" x2="262" y2="233.05"/>
<line x1="454.5" y1="233.05" x2="452" y2="233.05"/>
<line x1="259.5" y1="230.81" x2="260.8" y2="230.81"/>
<line x1="454.5" y1="230.81" x2="453.2" y2="230.81"/>
<line x1="259.5" y1="228.58" x2="260.8" y2="228.58"/>
<line x1="454.5" y1="228.58" x2="453.2" y2="228.58"/>
<line x1="259.5" y1="226.34" x2="260.8" y2="226.34"/>
<line x1="454.5" y1="226.34" x2="453.2" y2="226.34"/>
<line x1="259.5" y1="224.1" x2="260.8" y2="224.1"/>
<line x1="454.5" y1="224.1" x2="453.2" y2="224.1"/>
<line x1="259.5" y1="221.87" x2="260.8" y2="221.87"/>
<line x1="454.5" y1="221.87" x2="453.2" y2="221.87"/>
<line x1="259.5" y1="219.63" x2="260.8" y2="219.63"/>
<line x1="454.5" y1="219.63" x2="453.2" y2="219.63"/>
<line x1="259.5" y1="217.39" x2="260.8" y2="217.39"/>
<line x1="454.5" y1="217.39" x2="453.2" y2="217.39"/>
<line x1="259.5" y1="215.16" x2="260.8" y2="215.16"/>
<line x1="454.5" y1="215.16" x2="453.2" y2="215.16"/>
<line x1="259.5" y1="212.92" x2="260.8" y2="212.92"/>
<line x1="454.5" y1="212.92" x2="453.2" y2="212.92"/>
<line x1="259.5" y1="210.68" x2="262" y2="210.68"/>
<line x1="454.5" y1="210.68" x2="452" y2="210.68"/>
<line x1="259.5" y1="208.45" x2="260.8" y2="208.45"/>
<line x1="454.5" y1="208.45" x2="453.2" y2="208.45"/>
<line x1="259.5" y1="206.21" x2="260.8" y2="206.21"/>
<line x1="454.5" y1="206.21" x2="453.2" y2="206.21"/>
<line x1="259.5" y1="203.97" x2="260.8" y2="203.97"/>
<line x1="454.5" y1="203.97" x2="453.2" y2="203.97"/>
<line x1="259.5" y1="201.74" x2="260.8" y2="201.74"/>
<line x1="454.5" y1="201.74" x2="453.2" y2="201.74"/>
</g>
<line x1="281.4" y1="255.4" x2="310.9" y2="255.4" stroke="#a0a0a0" stroke-width="1"/>
<mask id="m13" maskUnits="userSpaceOnUse" x="0" y="0" width="685" height="428"><rect x="0" y="0" width="685" height="428" fill="#fff"/><rect x="257.5" y="253.9" width="23.2" height="3" fill="#000"/><rect x="440.2" y="253.9" width="16.3" height="3" fill="#000"/></mask>
<g fill="none" stroke-width="1.0" stroke-linejoin="round">
<path d="M259.5,255.4L282.3,255.4C283.03,255.4 283.77,254.2 284.5,254.2C285.7,254.2 286.9,254.9 288.1,254.9C290.07,254.9 292.03,254.73 294,254.6C295.47,254.5 296.93,254.2 298.4,254.2C300.33,254.2 302.27,254.71 304.2,254.9C306.13,255.09 308.07,255.4 310,255.4L454.5,255.4" stroke="#ff3030" mask="url(#m13)"/>
<path d="M259.5,255.4L281.6,255.4C282.57,255.4 283.53,253.5 284.5,253.5C285.23,253.5 285.97,253.9 286.7,253.9C287.27,253.9 287.83,253.45 288.4,253C289.03,252.49 289.67,250.48 290.3,249.8C291.03,249.02 291.77,248.72 292.5,248.1C293.47,247.29 294.43,246.19 295.4,245.4C296.4,244.58 297.4,243.2 298.4,243.2C299.37,243.2 300.33,243.2 301.3,243.2C302.03,243.2 302.77,241.89 303.5,241.1C304.23,240.31 304.97,238.4 305.7,238.4C306.4,238.4 307.1,241.07 307.8,241.8C308.53,242.57 309.27,242.81 310,243.5C311.23,244.65 312.47,248.1 313.7,248.1C314.67,248.1 315.63,246.98 316.6,246.2C317.57,245.42 318.53,243.7 319.5,243.2C320.47,242.7 321.43,242.2 322.4,242.2C323.13,242.2 323.87,244.16 324.6,245.4C325.33,246.64 326.07,249.8 326.8,249.8C327.53,249.8 328.27,249.48 329,249.1C329.73,248.72 330.47,247.06 331.2,246.2C331.8,245.5 332.4,244.3 333,244.3C333.63,244.3 334.27,246.4 334.9,247.6C335.6,248.93 336.3,251.47 337,252C337.73,252.55 338.47,253 339.2,253C339.93,253 340.67,251.77 341.4,251.3C342.13,250.83 342.87,250.1 343.6,250.1C344.57,250.1 345.53,251.6 346.5,251.6C347.5,251.6 348.5,251 349.5,251C350.47,251 351.43,252 352.4,252C353.87,252 355.33,252 356.8,252C357.87,252 358.93,252.04 360,252.1C361,252.16 362,253 363,253C364.5,253 366,251.1 367.5,251.1C368.73,251.1 369.97,253.6 371.2,253.6C372.93,253.6 374.67,253.3 376.4,253.3C377.9,253.3 379.4,254.5 380.9,254.5C382.17,254.5 383.43,253.67 384.7,253C385.93,252.34 387.17,250.76 388.4,250C389.4,249.39 390.4,249.08 391.4,248.5C392.13,248.07 392.87,247 393.6,247C394.37,247 395.13,248.1 395.9,248.8C396.9,249.71 397.9,252.1 398.9,252.1C400.13,252.1 401.37,251.1 402.6,251.1C403.87,251.1 405.13,253.3 406.4,253.3C408.37,253.3 410.33,252.1 412.3,252.1C413.8,252.1 415.3,252.6 416.8,252.6C418.3,252.6 419.8,252.17 421.3,251.8C422.8,251.43 424.3,250 425.8,250C426.8,250 427.8,251.08 428.8,251.8C429.8,252.52 430.8,254.5 431.8,254.5C433.3,254.5 434.8,254.1 436.3,254.1C437.3,254.1 438.3,255.4 439.3,255.4L454.5,255.4" stroke="#38f038"/>
</g>
<rect x="259.5" y="199.5" width="195" height="67.1" fill="none" stroke="#999999" stroke-width="1"/>
<g fill="#111" font-family='"Liberation Sans", sans-serif'>
<text transform="matrix(0.906,0,0,1,254.3,258.6)" text-anchor="end" font-size="9.6">0</text>
<text transform="matrix(0.906,0,0,1,254.3,236.23)" text-anchor="end" font-size="9.6">2</text>
<text transform="matrix(0.906,0,0,1,254.3,213.87)" text-anchor="end" font-size="9.6">4</text>
<text x="402.4" y="209.1" text-anchor="start" font-size="8.9" font-weight="normal" font-style="normal"><tspan font-style="italic">X</tspan> direction</text>
</g>
<g stroke="#6a6a6a" stroke-width="0.9">
<line x1="263.83" y1="333.9" x2="263.83" y2="332.6"/>
<line x1="263.83" y1="266.6" x2="263.83" y2="267.9"/>
<line x1="268.17" y1="333.9" x2="268.17" y2="332.6"/>
<line x1="268.17" y1="266.6" x2="268.17" y2="267.9"/>
<line x1="272.5" y1="333.9" x2="272.5" y2="332.6"/>
<line x1="272.5" y1="266.6" x2="272.5" y2="267.9"/>
<line x1="276.83" y1="333.9" x2="276.83" y2="332.6"/>
<line x1="276.83" y1="266.6" x2="276.83" y2="267.9"/>
<line x1="281.17" y1="333.9" x2="281.17" y2="331.4"/>
<line x1="281.17" y1="266.6" x2="281.17" y2="269.1"/>
<line x1="285.5" y1="333.9" x2="285.5" y2="332.6"/>
<line x1="285.5" y1="266.6" x2="285.5" y2="267.9"/>
<line x1="289.83" y1="333.9" x2="289.83" y2="332.6"/>
<line x1="289.83" y1="266.6" x2="289.83" y2="267.9"/>
<line x1="294.17" y1="333.9" x2="294.17" y2="332.6"/>
<line x1="294.17" y1="266.6" x2="294.17" y2="267.9"/>
<line x1="298.5" y1="333.9" x2="298.5" y2="332.6"/>
<line x1="298.5" y1="266.6" x2="298.5" y2="267.9"/>
<line x1="302.83" y1="333.9" x2="302.83" y2="331.4"/>
<line x1="302.83" y1="266.6" x2="302.83" y2="269.1"/>
<line x1="307.17" y1="333.9" x2="307.17" y2="332.6"/>
<line x1="307.17" y1="266.6" x2="307.17" y2="267.9"/>
<line x1="311.5" y1="333.9" x2="311.5" y2="332.6"/>
<line x1="311.5" y1="266.6" x2="311.5" y2="267.9"/>
<line x1="315.83" y1="333.9" x2="315.83" y2="332.6"/>
<line x1="315.83" y1="266.6" x2="315.83" y2="267.9"/>
<line x1="320.17" y1="333.9" x2="320.17" y2="332.6"/>
<line x1="320.17" y1="266.6" x2="320.17" y2="267.9"/>
<line x1="324.5" y1="333.9" x2="324.5" y2="331.4"/>
<line x1="324.5" y1="266.6" x2="324.5" y2="269.1"/>
<line x1="328.83" y1="333.9" x2="328.83" y2="332.6"/>
<line x1="328.83" y1="266.6" x2="328.83" y2="267.9"/>
<line x1="333.17" y1="333.9" x2="333.17" y2="332.6"/>
<line x1="333.17" y1="266.6" x2="333.17" y2="267.9"/>
<line x1="337.5" y1="333.9" x2="337.5" y2="332.6"/>
<line x1="337.5" y1="266.6" x2="337.5" y2="267.9"/>
<line x1="341.83" y1="333.9" x2="341.83" y2="332.6"/>
<line x1="341.83" y1="266.6" x2="341.83" y2="267.9"/>
<line x1="346.17" y1="333.9" x2="346.17" y2="331.4"/>
<line x1="346.17" y1="266.6" x2="346.17" y2="269.1"/>
<line x1="350.5" y1="333.9" x2="350.5" y2="332.6"/>
<line x1="350.5" y1="266.6" x2="350.5" y2="267.9"/>
<line x1="354.83" y1="333.9" x2="354.83" y2="332.6"/>
<line x1="354.83" y1="266.6" x2="354.83" y2="267.9"/>
<line x1="359.17" y1="333.9" x2="359.17" y2="332.6"/>
<line x1="359.17" y1="266.6" x2="359.17" y2="267.9"/>
<line x1="363.5" y1="333.9" x2="363.5" y2="332.6"/>
<line x1="363.5" y1="266.6" x2="363.5" y2="267.9"/>
<line x1="367.83" y1="333.9" x2="367.83" y2="331.4"/>
<line x1="367.83" y1="266.6" x2="367.83" y2="269.1"/>
<line x1="372.17" y1="333.9" x2="372.17" y2="332.6"/>
<line x1="372.17" y1="266.6" x2="372.17" y2="267.9"/>
<line x1="376.5" y1="333.9" x2="376.5" y2="332.6"/>
<line x1="376.5" y1="266.6" x2="376.5" y2="267.9"/>
<line x1="380.83" y1="333.9" x2="380.83" y2="332.6"/>
<line x1="380.83" y1="266.6" x2="380.83" y2="267.9"/>
<line x1="385.17" y1="333.9" x2="385.17" y2="332.6"/>
<line x1="385.17" y1="266.6" x2="385.17" y2="267.9"/>
<line x1="389.5" y1="333.9" x2="389.5" y2="331.4"/>
<line x1="389.5" y1="266.6" x2="389.5" y2="269.1"/>
<line x1="393.83" y1="333.9" x2="393.83" y2="332.6"/>
<line x1="393.83" y1="266.6" x2="393.83" y2="267.9"/>
<line x1="398.17" y1="333.9" x2="398.17" y2="332.6"/>
<line x1="398.17" y1="266.6" x2="398.17" y2="267.9"/>
<line x1="402.5" y1="333.9" x2="402.5" y2="332.6"/>
<line x1="402.5" y1="266.6" x2="402.5" y2="267.9"/>
<line x1="406.83" y1="333.9" x2="406.83" y2="332.6"/>
<line x1="406.83" y1="266.6" x2="406.83" y2="267.9"/>
<line x1="411.17" y1="333.9" x2="411.17" y2="331.4"/>
<line x1="411.17" y1="266.6" x2="411.17" y2="269.1"/>
<line x1="415.5" y1="333.9" x2="415.5" y2="332.6"/>
<line x1="415.5" y1="266.6" x2="415.5" y2="267.9"/>
<line x1="419.83" y1="333.9" x2="419.83" y2="332.6"/>
<line x1="419.83" y1="266.6" x2="419.83" y2="267.9"/>
<line x1="424.17" y1="333.9" x2="424.17" y2="332.6"/>
<line x1="424.17" y1="266.6" x2="424.17" y2="267.9"/>
<line x1="428.5" y1="333.9" x2="428.5" y2="332.6"/>
<line x1="428.5" y1="266.6" x2="428.5" y2="267.9"/>
<line x1="432.83" y1="333.9" x2="432.83" y2="331.4"/>
<line x1="432.83" y1="266.6" x2="432.83" y2="269.1"/>
<line x1="437.17" y1="333.9" x2="437.17" y2="332.6"/>
<line x1="437.17" y1="266.6" x2="437.17" y2="267.9"/>
<line x1="441.5" y1="333.9" x2="441.5" y2="332.6"/>
<line x1="441.5" y1="266.6" x2="441.5" y2="267.9"/>
<line x1="445.83" y1="333.9" x2="445.83" y2="332.6"/>
<line x1="445.83" y1="266.6" x2="445.83" y2="267.9"/>
<line x1="450.17" y1="333.9" x2="450.17" y2="332.6"/>
<line x1="450.17" y1="266.6" x2="450.17" y2="267.9"/>
<line x1="259.5" y1="331.66" x2="260.8" y2="331.66"/>
<line x1="454.5" y1="331.66" x2="453.2" y2="331.66"/>
<line x1="259.5" y1="329.41" x2="260.8" y2="329.41"/>
<line x1="454.5" y1="329.41" x2="453.2" y2="329.41"/>
<line x1="259.5" y1="327.17" x2="260.8" y2="327.17"/>
<line x1="454.5" y1="327.17" x2="453.2" y2="327.17"/>
<line x1="259.5" y1="324.93" x2="260.8" y2="324.93"/>
<line x1="454.5" y1="324.93" x2="453.2" y2="324.93"/>
<line x1="259.5" y1="320.44" x2="260.8" y2="320.44"/>
<line x1="454.5" y1="320.44" x2="453.2" y2="320.44"/>
<line x1="259.5" y1="318.2" x2="260.8" y2="318.2"/>
<line x1="454.5" y1="318.2" x2="453.2" y2="318.2"/>
<line x1="259.5" y1="315.95" x2="260.8" y2="315.95"/>
<line x1="454.5" y1="315.95" x2="453.2" y2="315.95"/>
<line x1="259.5" y1="313.71" x2="260.8" y2="313.71"/>
<line x1="454.5" y1="313.71" x2="453.2" y2="313.71"/>
<line x1="259.5" y1="311.47" x2="260.8" y2="311.47"/>
<line x1="454.5" y1="311.47" x2="453.2" y2="311.47"/>
<line x1="259.5" y1="309.22" x2="260.8" y2="309.22"/>
<line x1="454.5" y1="309.22" x2="453.2" y2="309.22"/>
<line x1="259.5" y1="306.98" x2="260.8" y2="306.98"/>
<line x1="454.5" y1="306.98" x2="453.2" y2="306.98"/>
<line x1="259.5" y1="304.74" x2="260.8" y2="304.74"/>
<line x1="454.5" y1="304.74" x2="453.2" y2="304.74"/>
<line x1="259.5" y1="302.49" x2="260.8" y2="302.49"/>
<line x1="454.5" y1="302.49" x2="453.2" y2="302.49"/>
<line x1="259.5" y1="300.25" x2="262" y2="300.25"/>
<line x1="454.5" y1="300.25" x2="452" y2="300.25"/>
<line x1="259.5" y1="298.01" x2="260.8" y2="298.01"/>
<line x1="454.5" y1="298.01" x2="453.2" y2="298.01"/>
<line x1="259.5" y1="295.76" x2="260.8" y2="295.76"/>
<line x1="454.5" y1="295.76" x2="453.2" y2="295.76"/>
<line x1="259.5" y1="293.52" x2="260.8" y2="293.52"/>
<line x1="454.5" y1="293.52" x2="453.2" y2="293.52"/>
<line x1="259.5" y1="291.28" x2="260.8" y2="291.28"/>
<line x1="454.5" y1="291.28" x2="453.2" y2="291.28"/>
<line x1="259.5" y1="289.03" x2="260.8" y2="289.03"/>
<line x1="454.5" y1="289.03" x2="453.2" y2="289.03"/>
<line x1="259.5" y1="286.79" x2="260.8" y2="286.79"/>
<line x1="454.5" y1="286.79" x2="453.2" y2="286.79"/>
<line x1="259.5" y1="284.55" x2="260.8" y2="284.55"/>
<line x1="454.5" y1="284.55" x2="453.2" y2="284.55"/>
<line x1="259.5" y1="282.3" x2="260.8" y2="282.3"/>
<line x1="454.5" y1="282.3" x2="453.2" y2="282.3"/>
<line x1="259.5" y1="280.06" x2="260.8" y2="280.06"/>
<line x1="454.5" y1="280.06" x2="453.2" y2="280.06"/>
<line x1="259.5" y1="277.82" x2="262" y2="277.82"/>
<line x1="454.5" y1="277.82" x2="452" y2="277.82"/>
<line x1="259.5" y1="275.57" x2="260.8" y2="275.57"/>
<line x1="454.5" y1="275.57" x2="453.2" y2="275.57"/>
<line x1="259.5" y1="273.33" x2="260.8" y2="273.33"/>
<line x1="454.5" y1="273.33" x2="453.2" y2="273.33"/>
<line x1="259.5" y1="271.09" x2="260.8" y2="271.09"/>
<line x1="454.5" y1="271.09" x2="453.2" y2="271.09"/>
<line x1="259.5" y1="268.84" x2="260.8" y2="268.84"/>
<line x1="454.5" y1="268.84" x2="453.2" y2="268.84"/>
</g>
<line x1="280.7" y1="322.5" x2="290.5" y2="322.5" stroke="#a0a0a0" stroke-width="1"/>
<mask id="m14" maskUnits="userSpaceOnUse" x="0" y="0" width="685" height="428"><rect x="0" y="0" width="685" height="428" fill="#fff"/><rect x="257.5" y="321" width="23.2" height="3" fill="#000"/><rect x="440.4" y="321" width="16.1" height="3" fill="#000"/></mask>
<g fill="none" stroke-width="1.0" stroke-linejoin="round">
<path d="M259.5,322.5L281.6,322.5C282.57,322.5 283.53,321.5 284.5,321.5C286.2,321.5 287.9,322.5 289.6,322.5L298.4,322.5L454.5,322.5" stroke="#ff3030" mask="url(#m14)"/>
<path d="M259.5,322.5L281.6,322.5C282.57,322.5 283.53,321.2 284.5,321.2C285.47,321.2 286.43,321.2 287.4,321.2C288.13,321.2 288.87,319.98 289.6,319.3C290.57,318.41 291.53,317.06 292.5,316.4C293.47,315.74 294.43,315.59 295.4,314.9C296.63,314.02 297.87,311.09 299.1,310.5C299.83,310.15 300.57,310.23 301.3,309.8C301.87,309.47 302.43,306.76 303,305.4C303.53,304.12 304.07,301.8 304.6,301.8C305.03,301.8 305.47,302.96 305.9,304C306.53,305.52 307.17,310.97 307.8,312.7C308.43,314.43 309.07,316.4 309.7,316.4C310.3,316.4 310.9,313.81 311.5,312C312,310.49 312.5,307.42 313,306.2C313.47,305.06 313.93,303.7 314.4,303.7C314.9,303.7 315.4,305.15 315.9,306.2C316.63,307.74 317.37,312.32 318.1,312.7C319.07,313.21 320.03,313.11 321,313.5C321.97,313.89 322.93,315.01 323.9,315.7C324.73,316.3 325.57,317.4 326.4,317.4C327.37,317.4 328.33,315.9 329.3,315.9C329.93,315.9 330.57,317.23 331.2,317.8C331.93,318.46 332.67,319.6 333.4,319.6C334.37,319.6 335.33,319.6 336.3,319.6C337.27,319.6 338.23,320.21 339.2,320.3C340.43,320.41 341.67,320.38 342.9,320.5C344,320.61 345.1,322.5 346.2,322.5C347.77,322.5 349.33,321.46 350.9,321.2C352.87,320.87 354.83,320.7 356.8,320.5C357.87,320.39 358.93,320.33 360,320.2C361.23,320.05 362.47,319.87 363.7,319.5C364.67,319.21 365.63,317.7 366.6,317.7C367.6,317.7 368.6,319.35 369.6,319.8C370.83,320.35 372.07,320.86 373.3,321C374.77,321.17 376.23,321.3 377.7,321.3C378.93,321.3 380.17,320.2 381.4,320.2C382.87,320.2 384.33,320.2 385.8,320.2C386.77,320.2 387.73,319.32 388.7,318.8C389.53,318.35 390.37,317.3 391.2,317.3C392.1,317.3 393,319.64 393.9,319.8C395.37,320.06 396.83,320.07 398.3,320.2C400.27,320.37 402.23,320.7 404.2,320.7C406.17,320.7 408.13,320.48 410.1,320.4C412.07,320.32 414.03,320.2 416,320.2C417.47,320.2 418.93,321.3 420.4,321.3C421.37,321.3 422.33,321.3 423.3,321.3C424.3,321.3 425.3,320.11 426.3,319.8C427.17,319.53 428.03,319.2 428.9,319.2C429.73,319.2 430.57,321.1 431.4,321.3C432.4,321.54 433.4,321.7 434.4,321.7C435.13,321.7 435.87,321.3 436.6,321.3C437.57,321.3 438.53,322.5 439.5,322.5L454.5,322.5" stroke="#38f038"/>
</g>
<rect x="259.5" y="266.6" width="195" height="67.3" fill="none" stroke="#999999" stroke-width="1"/>
<g fill="#111" font-family='"Liberation Sans", sans-serif'>
<text transform="matrix(0.906,0,0,1,254.3,325.7)" text-anchor="end" font-size="9.6">0</text>
<text transform="matrix(0.906,0,0,1,254.3,303.27)" text-anchor="end" font-size="9.6">2</text>
<text transform="matrix(0.906,0,0,1,254.3,280.83)" text-anchor="end" font-size="9.6">4</text>
<text x="402.4" y="276.2" text-anchor="start" font-size="8.9" font-weight="normal" font-style="normal"><tspan font-style="italic">Y</tspan> direction</text>
</g>
<g stroke="#6a6a6a" stroke-width="0.9">
<line x1="263.83" y1="401.3" x2="263.83" y2="400"/>
<line x1="263.83" y1="333.9" x2="263.83" y2="335.2"/>
<line x1="268.17" y1="401.3" x2="268.17" y2="400"/>
<line x1="268.17" y1="333.9" x2="268.17" y2="335.2"/>
<line x1="272.5" y1="401.3" x2="272.5" y2="400"/>
<line x1="272.5" y1="333.9" x2="272.5" y2="335.2"/>
<line x1="276.83" y1="401.3" x2="276.83" y2="400"/>
<line x1="276.83" y1="333.9" x2="276.83" y2="335.2"/>
<line x1="281.17" y1="401.3" x2="281.17" y2="398.8"/>
<line x1="281.17" y1="333.9" x2="281.17" y2="336.4"/>
<line x1="285.5" y1="401.3" x2="285.5" y2="400"/>
<line x1="285.5" y1="333.9" x2="285.5" y2="335.2"/>
<line x1="289.83" y1="401.3" x2="289.83" y2="400"/>
<line x1="289.83" y1="333.9" x2="289.83" y2="335.2"/>
<line x1="294.17" y1="401.3" x2="294.17" y2="400"/>
<line x1="294.17" y1="333.9" x2="294.17" y2="335.2"/>
<line x1="298.5" y1="401.3" x2="298.5" y2="400"/>
<line x1="298.5" y1="333.9" x2="298.5" y2="335.2"/>
<line x1="302.83" y1="401.3" x2="302.83" y2="398.8"/>
<line x1="302.83" y1="333.9" x2="302.83" y2="336.4"/>
<line x1="307.17" y1="401.3" x2="307.17" y2="400"/>
<line x1="307.17" y1="333.9" x2="307.17" y2="335.2"/>
<line x1="311.5" y1="401.3" x2="311.5" y2="400"/>
<line x1="311.5" y1="333.9" x2="311.5" y2="335.2"/>
<line x1="315.83" y1="401.3" x2="315.83" y2="400"/>
<line x1="315.83" y1="333.9" x2="315.83" y2="335.2"/>
<line x1="320.17" y1="401.3" x2="320.17" y2="400"/>
<line x1="320.17" y1="333.9" x2="320.17" y2="335.2"/>
<line x1="324.5" y1="401.3" x2="324.5" y2="398.8"/>
<line x1="324.5" y1="333.9" x2="324.5" y2="336.4"/>
<line x1="328.83" y1="401.3" x2="328.83" y2="400"/>
<line x1="328.83" y1="333.9" x2="328.83" y2="335.2"/>
<line x1="333.17" y1="401.3" x2="333.17" y2="400"/>
<line x1="333.17" y1="333.9" x2="333.17" y2="335.2"/>
<line x1="337.5" y1="401.3" x2="337.5" y2="400"/>
<line x1="337.5" y1="333.9" x2="337.5" y2="335.2"/>
<line x1="341.83" y1="401.3" x2="341.83" y2="400"/>
<line x1="341.83" y1="333.9" x2="341.83" y2="335.2"/>
<line x1="346.17" y1="401.3" x2="346.17" y2="398.8"/>
<line x1="346.17" y1="333.9" x2="346.17" y2="336.4"/>
<line x1="350.5" y1="401.3" x2="350.5" y2="400"/>
<line x1="350.5" y1="333.9" x2="350.5" y2="335.2"/>
<line x1="354.83" y1="401.3" x2="354.83" y2="400"/>
<line x1="354.83" y1="333.9" x2="354.83" y2="335.2"/>
<line x1="359.17" y1="401.3" x2="359.17" y2="400"/>
<line x1="359.17" y1="333.9" x2="359.17" y2="335.2"/>
<line x1="363.5" y1="401.3" x2="363.5" y2="400"/>
<line x1="363.5" y1="333.9" x2="363.5" y2="335.2"/>
<line x1="367.83" y1="401.3" x2="367.83" y2="398.8"/>
<line x1="367.83" y1="333.9" x2="367.83" y2="336.4"/>
<line x1="372.17" y1="401.3" x2="372.17" y2="400"/>
<line x1="372.17" y1="333.9" x2="372.17" y2="335.2"/>
<line x1="376.5" y1="401.3" x2="376.5" y2="400"/>
<line x1="376.5" y1="333.9" x2="376.5" y2="335.2"/>
<line x1="380.83" y1="401.3" x2="380.83" y2="400"/>
<line x1="380.83" y1="333.9" x2="380.83" y2="335.2"/>
<line x1="385.17" y1="401.3" x2="385.17" y2="400"/>
<line x1="385.17" y1="333.9" x2="385.17" y2="335.2"/>
<line x1="389.5" y1="401.3" x2="389.5" y2="398.8"/>
<line x1="389.5" y1="333.9" x2="389.5" y2="336.4"/>
<line x1="393.83" y1="401.3" x2="393.83" y2="400"/>
<line x1="393.83" y1="333.9" x2="393.83" y2="335.2"/>
<line x1="398.17" y1="401.3" x2="398.17" y2="400"/>
<line x1="398.17" y1="333.9" x2="398.17" y2="335.2"/>
<line x1="402.5" y1="401.3" x2="402.5" y2="400"/>
<line x1="402.5" y1="333.9" x2="402.5" y2="335.2"/>
<line x1="406.83" y1="401.3" x2="406.83" y2="400"/>
<line x1="406.83" y1="333.9" x2="406.83" y2="335.2"/>
<line x1="411.17" y1="401.3" x2="411.17" y2="398.8"/>
<line x1="411.17" y1="333.9" x2="411.17" y2="336.4"/>
<line x1="415.5" y1="401.3" x2="415.5" y2="400"/>
<line x1="415.5" y1="333.9" x2="415.5" y2="335.2"/>
<line x1="419.83" y1="401.3" x2="419.83" y2="400"/>
<line x1="419.83" y1="333.9" x2="419.83" y2="335.2"/>
<line x1="424.17" y1="401.3" x2="424.17" y2="400"/>
<line x1="424.17" y1="333.9" x2="424.17" y2="335.2"/>
<line x1="428.5" y1="401.3" x2="428.5" y2="400"/>
<line x1="428.5" y1="333.9" x2="428.5" y2="335.2"/>
<line x1="432.83" y1="401.3" x2="432.83" y2="398.8"/>
<line x1="432.83" y1="333.9" x2="432.83" y2="336.4"/>
<line x1="437.17" y1="401.3" x2="437.17" y2="400"/>
<line x1="437.17" y1="333.9" x2="437.17" y2="335.2"/>
<line x1="441.5" y1="401.3" x2="441.5" y2="400"/>
<line x1="441.5" y1="333.9" x2="441.5" y2="335.2"/>
<line x1="445.83" y1="401.3" x2="445.83" y2="400"/>
<line x1="445.83" y1="333.9" x2="445.83" y2="335.2"/>
<line x1="450.17" y1="401.3" x2="450.17" y2="400"/>
<line x1="450.17" y1="333.9" x2="450.17" y2="335.2"/>
<line x1="259.5" y1="399.05" x2="260.8" y2="399.05"/>
<line x1="454.5" y1="399.05" x2="453.2" y2="399.05"/>
<line x1="259.5" y1="396.81" x2="260.8" y2="396.81"/>
<line x1="454.5" y1="396.81" x2="453.2" y2="396.81"/>
<line x1="259.5" y1="394.56" x2="260.8" y2="394.56"/>
<line x1="454.5" y1="394.56" x2="453.2" y2="394.56"/>
<line x1="259.5" y1="392.31" x2="260.8" y2="392.31"/>
<line x1="454.5" y1="392.31" x2="453.2" y2="392.31"/>
<line x1="259.5" y1="387.82" x2="260.8" y2="387.82"/>
<line x1="454.5" y1="387.82" x2="453.2" y2="387.82"/>
<line x1="259.5" y1="385.57" x2="260.8" y2="385.57"/>
<line x1="454.5" y1="385.57" x2="453.2" y2="385.57"/>
<line x1="259.5" y1="383.33" x2="260.8" y2="383.33"/>
<line x1="454.5" y1="383.33" x2="453.2" y2="383.33"/>
<line x1="259.5" y1="381.08" x2="260.8" y2="381.08"/>
<line x1="454.5" y1="381.08" x2="453.2" y2="381.08"/>
<line x1="259.5" y1="378.83" x2="260.8" y2="378.83"/>
<line x1="454.5" y1="378.83" x2="453.2" y2="378.83"/>
<line x1="259.5" y1="376.59" x2="260.8" y2="376.59"/>
<line x1="454.5" y1="376.59" x2="453.2" y2="376.59"/>
<line x1="259.5" y1="374.34" x2="260.8" y2="374.34"/>
<line x1="454.5" y1="374.34" x2="453.2" y2="374.34"/>
<line x1="259.5" y1="372.09" x2="260.8" y2="372.09"/>
<line x1="454.5" y1="372.09" x2="453.2" y2="372.09"/>
<line x1="259.5" y1="369.85" x2="260.8" y2="369.85"/>
<line x1="454.5" y1="369.85" x2="453.2" y2="369.85"/>
<line x1="259.5" y1="367.6" x2="262" y2="367.6"/>
<line x1="454.5" y1="367.6" x2="452" y2="367.6"/>
<line x1="259.5" y1="365.35" x2="260.8" y2="365.35"/>
<line x1="454.5" y1="365.35" x2="453.2" y2="365.35"/>
<line x1="259.5" y1="363.11" x2="260.8" y2="363.11"/>
<line x1="454.5" y1="363.11" x2="453.2" y2="363.11"/>
<line x1="259.5" y1="360.86" x2="260.8" y2="360.86"/>
<line x1="454.5" y1="360.86" x2="453.2" y2="360.86"/>
<line x1="259.5" y1="358.61" x2="260.8" y2="358.61"/>
<line x1="454.5" y1="358.61" x2="453.2" y2="358.61"/>
<line x1="259.5" y1="356.37" x2="260.8" y2="356.37"/>
<line x1="454.5" y1="356.37" x2="453.2" y2="356.37"/>
<line x1="259.5" y1="354.12" x2="260.8" y2="354.12"/>
<line x1="454.5" y1="354.12" x2="453.2" y2="354.12"/>
<line x1="259.5" y1="351.87" x2="260.8" y2="351.87"/>
<line x1="454.5" y1="351.87" x2="453.2" y2="351.87"/>
<line x1="259.5" y1="349.63" x2="260.8" y2="349.63"/>
<line x1="454.5" y1="349.63" x2="453.2" y2="349.63"/>
<line x1="259.5" y1="347.38" x2="260.8" y2="347.38"/>
<line x1="454.5" y1="347.38" x2="453.2" y2="347.38"/>
<line x1="259.5" y1="345.13" x2="262" y2="345.13"/>
<line x1="454.5" y1="345.13" x2="452" y2="345.13"/>
<line x1="259.5" y1="342.89" x2="260.8" y2="342.89"/>
<line x1="454.5" y1="342.89" x2="453.2" y2="342.89"/>
<line x1="259.5" y1="340.64" x2="260.8" y2="340.64"/>
<line x1="454.5" y1="340.64" x2="453.2" y2="340.64"/>
<line x1="259.5" y1="338.39" x2="260.8" y2="338.39"/>
<line x1="454.5" y1="338.39" x2="453.2" y2="338.39"/>
<line x1="259.5" y1="336.15" x2="260.8" y2="336.15"/>
<line x1="454.5" y1="336.15" x2="453.2" y2="336.15"/>
</g>
<line x1="283.1" y1="390" x2="291.4" y2="390" stroke="#a0a0a0" stroke-width="1"/>
<mask id="m15" maskUnits="userSpaceOnUse" x="0" y="0" width="685" height="428"><rect x="0" y="0" width="685" height="428" fill="#fff"/><rect x="257.5" y="388.5" width="24.6" height="3" fill="#000"/><rect x="449" y="388.5" width="7.5" height="3" fill="#000"/></mask>
<g fill="none" stroke-width="1.0" stroke-linejoin="round">
<path d="M259.5,390L284,390C285.13,390 286.27,388.6 287.4,388.6C288.43,388.6 289.47,390 290.5,390L330,390L454.5,390" stroke="#ff3030" mask="url(#m15)"/>
<path d="M259.5,390L283,390C283.83,390 284.67,389.24 285.5,388.8C286.13,388.47 286.77,387.7 287.4,387.7C288.1,387.7 288.8,388.45 289.5,388.8C290.33,389.22 291.17,390 292,390C294.67,390 297.33,389.3 300,389.3C303.33,389.3 306.67,390 310,390C313.33,390 316.67,389.4 320,389.4C326.67,389.4 333.33,390 340,390C343.33,390 346.67,389.35 350,389.2C353.33,389.05 356.67,388.9 360,388.9C361.53,388.9 363.07,388.9 364.6,388.9C366.1,388.9 367.6,389.4 369.1,389.4C370.63,389.4 372.17,388.2 373.7,388.2C374.7,388.2 375.7,388.68 376.7,388.9C378.47,389.29 380.23,390 382,390C383.27,390 384.53,388.3 385.8,387.4C386.83,386.66 387.87,385.28 388.9,385.1C389.9,384.92 390.9,384.95 391.9,384.8C392.9,384.65 393.9,383.9 394.9,383.9C395.67,383.9 396.43,385.24 397.2,385.9C398.23,386.78 399.27,388.11 400.3,388.5C401.57,388.98 402.83,389.22 404.1,389.4C406.1,389.69 408.1,390 410.1,390C412.13,390 414.17,389.4 416.2,389.4L425.3,389.4C426.57,389.4 427.83,387.4 429.1,387.4C430.37,387.4 431.63,387.4 432.9,387.4C433.93,387.4 434.97,387.83 436,388.2C437,388.56 438,390 439,390C441.03,390 443.07,389.2 445.1,389.2C446.1,389.2 447.1,390 448.1,390L454.5,390" stroke="#38f038"/>
</g>
<rect x="259.5" y="333.9" width="195" height="67.4" fill="none" stroke="#999999" stroke-width="1"/>
<g fill="#111" font-family='"Liberation Sans", sans-serif'>
<text transform="matrix(0.906,0,0,1,254.3,393.2)" text-anchor="end" font-size="9.6">0</text>
<text transform="matrix(0.906,0,0,1,254.3,370.73)" text-anchor="end" font-size="9.6">2</text>
<text transform="matrix(0.906,0,0,1,254.3,348.27)" text-anchor="end" font-size="9.6">4</text>
<text x="402.4" y="343.5" text-anchor="start" font-size="8.9" font-weight="normal" font-style="normal"><tspan font-style="italic">Z</tspan> direction</text>
</g>
<g fill="#111" font-family='"Liberation Sans", sans-serif'>
<text transform="matrix(0.906,0,0,1,259.5,413.1)" text-anchor="middle" font-size="9.6">-5</text>
<text transform="matrix(0.906,0,0,1,282.07,413.1)" text-anchor="middle" font-size="9.6">0</text>
<text transform="matrix(0.906,0,0,1,303.73,413.1)" text-anchor="middle" font-size="9.6">5</text>
<text transform="matrix(0.906,0,0,1,325.4,413.1)" text-anchor="middle" font-size="9.6">10</text>
<text transform="matrix(0.906,0,0,1,347.07,413.1)" text-anchor="middle" font-size="9.6">15</text>
<text transform="matrix(0.906,0,0,1,368.73,413.1)" text-anchor="middle" font-size="9.6">20</text>
<text transform="matrix(0.906,0,0,1,390.4,413.1)" text-anchor="middle" font-size="9.6">25</text>
<text transform="matrix(0.906,0,0,1,412.07,413.1)" text-anchor="middle" font-size="9.6">30</text>
<text transform="matrix(0.906,0,0,1,433.73,413.1)" text-anchor="middle" font-size="9.6">35</text>
<text transform="matrix(0.906,0,0,1,455.4,413.1)" text-anchor="middle" font-size="9.6">40</text>
<text x="357" y="425.8" text-anchor="middle" font-size="8.85" font-weight="normal" font-style="normal">Frequency (THz)</text>
<line x1="378.1" y1="220.4" x2="401.5" y2="220.4" stroke="#ff3030" stroke-width="1.1"/>
<line x1="378.1" y1="229.3" x2="401.5" y2="229.3" stroke="#38f038" stroke-width="1.1"/>
<text x="406.5" y="222.9" text-anchor="start" font-size="8.1" font-weight="normal" font-style="normal">Na layer</text>
<text x="406.5" y="230.6" text-anchor="start" font-size="8.1" font-weight="normal" font-style="normal">CoO<tspan font-size="6.6" dy="2.5">2</tspan><tspan dy="-2.5"> layer</tspan></text>
</g>
<g stroke="#6a6a6a" stroke-width="0.9">
<line x1="488.83" y1="266.6" x2="488.83" y2="265.3"/>
<line x1="488.83" y1="199.5" x2="488.83" y2="200.8"/>
<line x1="493.17" y1="266.6" x2="493.17" y2="265.3"/>
<line x1="493.17" y1="199.5" x2="493.17" y2="200.8"/>
<line x1="497.5" y1="266.6" x2="497.5" y2="265.3"/>
<line x1="497.5" y1="199.5" x2="497.5" y2="200.8"/>
<line x1="501.83" y1="266.6" x2="501.83" y2="265.3"/>
<line x1="501.83" y1="199.5" x2="501.83" y2="200.8"/>
<line x1="506.17" y1="266.6" x2="506.17" y2="264.1"/>
<line x1="506.17" y1="199.5" x2="506.17" y2="202"/>
<line x1="510.5" y1="266.6" x2="510.5" y2="265.3"/>
<line x1="510.5" y1="199.5" x2="510.5" y2="200.8"/>
<line x1="514.83" y1="266.6" x2="514.83" y2="265.3"/>
<line x1="514.83" y1="199.5" x2="514.83" y2="200.8"/>
<line x1="519.17" y1="266.6" x2="519.17" y2="265.3"/>
<line x1="519.17" y1="199.5" x2="519.17" y2="200.8"/>
<line x1="523.5" y1="266.6" x2="523.5" y2="265.3"/>
<line x1="523.5" y1="199.5" x2="523.5" y2="200.8"/>
<line x1="527.83" y1="266.6" x2="527.83" y2="264.1"/>
<line x1="527.83" y1="199.5" x2="527.83" y2="202"/>
<line x1="532.17" y1="266.6" x2="532.17" y2="265.3"/>
<line x1="532.17" y1="199.5" x2="532.17" y2="200.8"/>
<line x1="536.5" y1="266.6" x2="536.5" y2="265.3"/>
<line x1="536.5" y1="199.5" x2="536.5" y2="200.8"/>
<line x1="540.83" y1="266.6" x2="540.83" y2="265.3"/>
<line x1="540.83" y1="199.5" x2="540.83" y2="200.8"/>
<line x1="545.17" y1="266.6" x2="545.17" y2="265.3"/>
<line x1="545.17" y1="199.5" x2="545.17" y2="200.8"/>
<line x1="549.5" y1="266.6" x2="549.5" y2="264.1"/>
<line x1="549.5" y1="199.5" x2="549.5" y2="202"/>
<line x1="553.83" y1="266.6" x2="553.83" y2="265.3"/>
<line x1="553.83" y1="199.5" x2="553.83" y2="200.8"/>
<line x1="558.17" y1="266.6" x2="558.17" y2="265.3"/>
<line x1="558.17" y1="199.5" x2="558.17" y2="200.8"/>
<line x1="562.5" y1="266.6" x2="562.5" y2="265.3"/>
<line x1="562.5" y1="199.5" x2="562.5" y2="200.8"/>
<line x1="566.83" y1="266.6" x2="566.83" y2="265.3"/>
<line x1="566.83" y1="199.5" x2="566.83" y2="200.8"/>
<line x1="571.17" y1="266.6" x2="571.17" y2="264.1"/>
<line x1="571.17" y1="199.5" x2="571.17" y2="202"/>
<line x1="575.5" y1="266.6" x2="575.5" y2="265.3"/>
<line x1="575.5" y1="199.5" x2="575.5" y2="200.8"/>
<line x1="579.83" y1="266.6" x2="579.83" y2="265.3"/>
<line x1="579.83" y1="199.5" x2="579.83" y2="200.8"/>
<line x1="584.17" y1="266.6" x2="584.17" y2="265.3"/>
<line x1="584.17" y1="199.5" x2="584.17" y2="200.8"/>
<line x1="588.5" y1="266.6" x2="588.5" y2="265.3"/>
<line x1="588.5" y1="199.5" x2="588.5" y2="200.8"/>
<line x1="592.83" y1="266.6" x2="592.83" y2="264.1"/>
<line x1="592.83" y1="199.5" x2="592.83" y2="202"/>
<line x1="597.17" y1="266.6" x2="597.17" y2="265.3"/>
<line x1="597.17" y1="199.5" x2="597.17" y2="200.8"/>
<line x1="601.5" y1="266.6" x2="601.5" y2="265.3"/>
<line x1="601.5" y1="199.5" x2="601.5" y2="200.8"/>
<line x1="605.83" y1="266.6" x2="605.83" y2="265.3"/>
<line x1="605.83" y1="199.5" x2="605.83" y2="200.8"/>
<line x1="610.17" y1="266.6" x2="610.17" y2="265.3"/>
<line x1="610.17" y1="199.5" x2="610.17" y2="200.8"/>
<line x1="614.5" y1="266.6" x2="614.5" y2="264.1"/>
<line x1="614.5" y1="199.5" x2="614.5" y2="202"/>
<line x1="618.83" y1="266.6" x2="618.83" y2="265.3"/>
<line x1="618.83" y1="199.5" x2="618.83" y2="200.8"/>
<line x1="623.17" y1="266.6" x2="623.17" y2="265.3"/>
<line x1="623.17" y1="199.5" x2="623.17" y2="200.8"/>
<line x1="627.5" y1="266.6" x2="627.5" y2="265.3"/>
<line x1="627.5" y1="199.5" x2="627.5" y2="200.8"/>
<line x1="631.83" y1="266.6" x2="631.83" y2="265.3"/>
<line x1="631.83" y1="199.5" x2="631.83" y2="200.8"/>
<line x1="636.17" y1="266.6" x2="636.17" y2="264.1"/>
<line x1="636.17" y1="199.5" x2="636.17" y2="202"/>
<line x1="640.5" y1="266.6" x2="640.5" y2="265.3"/>
<line x1="640.5" y1="199.5" x2="640.5" y2="200.8"/>
<line x1="644.83" y1="266.6" x2="644.83" y2="265.3"/>
<line x1="644.83" y1="199.5" x2="644.83" y2="200.8"/>
<line x1="649.17" y1="266.6" x2="649.17" y2="265.3"/>
<line x1="649.17" y1="199.5" x2="649.17" y2="200.8"/>
<line x1="653.5" y1="266.6" x2="653.5" y2="265.3"/>
<line x1="653.5" y1="199.5" x2="653.5" y2="200.8"/>
<line x1="657.83" y1="266.6" x2="657.83" y2="264.1"/>
<line x1="657.83" y1="199.5" x2="657.83" y2="202"/>
<line x1="662.17" y1="266.6" x2="662.17" y2="265.3"/>
<line x1="662.17" y1="199.5" x2="662.17" y2="200.8"/>
<line x1="666.5" y1="266.6" x2="666.5" y2="265.3"/>
<line x1="666.5" y1="199.5" x2="666.5" y2="200.8"/>
<line x1="670.83" y1="266.6" x2="670.83" y2="265.3"/>
<line x1="670.83" y1="199.5" x2="670.83" y2="200.8"/>
<line x1="675.17" y1="266.6" x2="675.17" y2="265.3"/>
<line x1="675.17" y1="199.5" x2="675.17" y2="200.8"/>
<line x1="484.5" y1="264.36" x2="485.8" y2="264.36"/>
<line x1="679.5" y1="264.36" x2="678.2" y2="264.36"/>
<line x1="484.5" y1="262.13" x2="485.8" y2="262.13"/>
<line x1="679.5" y1="262.13" x2="678.2" y2="262.13"/>
<line x1="484.5" y1="259.89" x2="485.8" y2="259.89"/>
<line x1="679.5" y1="259.89" x2="678.2" y2="259.89"/>
<line x1="484.5" y1="257.65" x2="485.8" y2="257.65"/>
<line x1="679.5" y1="257.65" x2="678.2" y2="257.65"/>
<line x1="484.5" y1="253.18" x2="485.8" y2="253.18"/>
<line x1="679.5" y1="253.18" x2="678.2" y2="253.18"/>
<line x1="484.5" y1="250.94" x2="485.8" y2="250.94"/>
<line x1="679.5" y1="250.94" x2="678.2" y2="250.94"/>
<line x1="484.5" y1="248.71" x2="485.8" y2="248.71"/>
<line x1="679.5" y1="248.71" x2="678.2" y2="248.71"/>
<line x1="484.5" y1="246.47" x2="485.8" y2="246.47"/>
<line x1="679.5" y1="246.47" x2="678.2" y2="246.47"/>
<line x1="484.5" y1="244.23" x2="485.8" y2="244.23"/>
<line x1="679.5" y1="244.23" x2="678.2" y2="244.23"/>
<line x1="484.5" y1="242" x2="485.8" y2="242"/>
<line x1="679.5" y1="242" x2="678.2" y2="242"/>
<line x1="484.5" y1="239.76" x2="485.8" y2="239.76"/>
<line x1="679.5" y1="239.76" x2="678.2" y2="239.76"/>
<line x1="484.5" y1="237.52" x2="485.8" y2="237.52"/>
<line x1="679.5" y1="237.52" x2="678.2" y2="237.52"/>
<line x1="484.5" y1="235.29" x2="485.8" y2="235.29"/>
<line x1="679.5" y1="235.29" x2="678.2" y2="235.29"/>
<line x1="484.5" y1="233.05" x2="487" y2="233.05"/>
<line x1="679.5" y1="233.05" x2="677" y2="233.05"/>
<line x1="484.5" y1="230.81" x2="485.8" y2="230.81"/>
<line x1="679.5" y1="230.81" x2="678.2" y2="230.81"/>
<line x1="484.5" y1="228.58" x2="485.8" y2="228.58"/>
<line x1="679.5" y1="228.58" x2="678.2" y2="228.58"/>
<line x1="484.5" y1="226.34" x2="485.8" y2="226.34"/>
<line x1="679.5" y1="226.34" x2="678.2" y2="226.34"/>
<line x1="484.5" y1="224.1" x2="485.8" y2="224.1"/>
<line x1="679.5" y1="224.1" x2="678.2" y2="224.1"/>
<line x1="484.5" y1="221.87" x2="485.8" y2="221.87"/>
<line x1="679.5" y1="221.87" x2="678.2" y2="221.87"/>
<line x1="484.5" y1="219.63" x2="485.8" y2="219.63"/>
<line x1="679.5" y1="219.63" x2="678.2" y2="219.63"/>
<line x1="484.5" y1="217.39" x2="485.8" y2="217.39"/>
<line x1="679.5" y1="217.39" x2="678.2" y2="217.39"/>
<line x1="484.5" y1="215.16" x2="485.8" y2="215.16"/>
<line x1="679.5" y1="215.16" x2="678.2" y2="215.16"/>
<line x1="484.5" y1="212.92" x2="485.8" y2="212.92"/>
<line x1="679.5" y1="212.92" x2="678.2" y2="212.92"/>
<line x1="484.5" y1="210.68" x2="487" y2="210.68"/>
<line x1="679.5" y1="210.68" x2="677" y2="210.68"/>
<line x1="484.5" y1="208.45" x2="485.8" y2="208.45"/>
<line x1="679.5" y1="208.45" x2="678.2" y2="208.45"/>
<line x1="484.5" y1="206.21" x2="485.8" y2="206.21"/>
<line x1="679.5" y1="206.21" x2="678.2" y2="206.21"/>
<line x1="484.5" y1="203.97" x2="485.8" y2="203.97"/>
<line x1="679.5" y1="203.97" x2="678.2" y2="203.97"/>
<line x1="484.5" y1="201.74" x2="485.8" y2="201.74"/>
<line x1="679.5" y1="201.74" x2="678.2" y2="201.74"/>
</g>
<line x1="512.5" y1="255.4" x2="563.9" y2="255.4" stroke="#a0a0a0" stroke-width="1"/>
<line x1="619.1" y1="255.4" x2="630.9" y2="255.4" stroke="#a0a0a0" stroke-width="1"/>
<mask id="m16" maskUnits="userSpaceOnUse" x="0" y="0" width="685" height="428"><rect x="0" y="0" width="685" height="428" fill="#fff"/><rect x="482.5" y="253.9" width="30" height="3" fill="#000"/><rect x="655.6" y="253.9" width="25.9" height="3" fill="#000"/></mask>
<g fill="none" stroke-width="1.0" stroke-linejoin="round">
<path d="M484.5,255.4L509,255.4C509.97,255.4 510.93,254.73 511.9,254.1C512.63,253.62 513.37,252.28 514.1,251.6C514.73,251.01 515.37,250.1 516,250.1C516.57,250.1 517.13,251.02 517.7,251.6C518.2,252.11 518.7,253.18 519.2,253.4C520.17,253.82 521.13,254.1 522.1,254.1C525.03,254.1 527.97,253.6 530.9,253.6C533.8,253.6 536.7,253.72 539.6,253.8C542.53,253.88 545.47,253.98 548.4,254.1C550.83,254.2 553.27,254.32 555.7,254.5C558.13,254.68 560.57,255.4 563,255.4L570.3,255.4L620,255.4C621.6,255.4 623.2,254.3 624.8,254.3C626.53,254.3 628.27,255.4 630,255.4L642.8,255.4L651.7,255.4C653.13,255.4 654.57,255.4 656,255.4L679.5,255.4" stroke="#ff3030" mask="url(#m16)"/>
<path d="M484.5,255.4L513.4,255.4C514.1,255.4 514.8,254.92 515.5,254.5C516.23,254.06 516.97,252.38 517.7,252.2C518.43,252.02 519.17,251.9 519.9,251.9C520.87,251.9 521.83,252.41 522.8,252.6C523.8,252.8 524.8,253.1 525.8,253.1C527,253.1 528.2,252.6 529.4,252.6C530.63,252.6 531.87,253.4 533.1,253.4C534.3,253.4 535.5,253.25 536.7,253.1C537.43,253.01 538.17,252.6 538.9,252.6C539.63,252.6 540.37,253.6 541.1,253.6C542.07,253.6 543.03,253.52 544,253.4C544.97,253.28 545.93,251.78 546.9,251.2C547.9,250.6 548.9,249.97 549.9,249.7C550.6,249.51 551.3,249.3 552,249.3C552.73,249.3 553.47,250.93 554.2,251.6C554.93,252.27 555.67,253.4 556.4,253.4C557.37,253.4 558.33,253.1 559.3,253.1C560.53,253.1 561.77,253.25 563,253.4C563.97,253.52 564.93,253.99 565.9,254.1C567.87,254.32 569.83,254.38 571.8,254.5C573.73,254.61 575.67,254.8 577.6,254.8C579.07,254.8 580.53,254.5 582,254.5C584.67,254.5 587.33,254.8 590,254.8C594.13,254.8 598.27,254.64 602.4,254.5C604.9,254.41 607.4,254.1 609.9,254.1C612.4,254.1 614.9,254.5 617.4,254.5C619.87,254.5 622.33,253.6 624.8,253.6C626.8,253.6 628.8,254.1 630.8,254.1C632.8,254.1 634.8,253.3 636.8,253.3C638.3,253.3 639.8,254.1 641.3,254.1C642.03,254.1 642.77,252.32 643.5,251.8C644.67,250.97 645.83,250 647,250C647.83,250 648.67,251.14 649.5,251.8C650.5,252.6 651.5,253.95 652.5,254.5C653.23,254.9 653.97,255.4 654.7,255.4L679.5,255.4" stroke="#38f038"/>
</g>
<rect x="484.5" y="199.5" width="195" height="67.1" fill="none" stroke="#999999" stroke-width="1"/>
<g fill="#111" font-family='"Liberation Sans", sans-serif'>
<text transform="matrix(0.906,0,0,1,479.3,258.6)" text-anchor="end" font-size="9.6">0</text>
<text transform="matrix(0.906,0,0,1,479.3,236.23)" text-anchor="end" font-size="9.6">2</text>
<text transform="matrix(0.906,0,0,1,479.3,213.87)" text-anchor="end" font-size="9.6">4</text>
<text x="627.9" y="209.1" text-anchor="start" font-size="8.9" font-weight="normal" font-style="normal"><tspan font-style="italic">X</tspan> direction</text>
</g>
<g stroke="#6a6a6a" stroke-width="0.9">
<line x1="488.83" y1="333.9" x2="488.83" y2="332.6"/>
<line x1="488.83" y1="266.6" x2="488.83" y2="267.9"/>
<line x1="493.17" y1="333.9" x2="493.17" y2="332.6"/>
<line x1="493.17" y1="266.6" x2="493.17" y2="267.9"/>
<line x1="497.5" y1="333.9" x2="497.5" y2="332.6"/>
<line x1="497.5" y1="266.6" x2="497.5" y2="267.9"/>
<line x1="501.83" y1="333.9" x2="501.83" y2="332.6"/>
<line x1="501.83" y1="266.6" x2="501.83" y2="267.9"/>
<line x1="506.17" y1="333.9" x2="506.17" y2="331.4"/>
<line x1="506.17" y1="266.6" x2="506.17" y2="269.1"/>
<line x1="510.5" y1="333.9" x2="510.5" y2="332.6"/>
<line x1="510.5" y1="266.6" x2="510.5" y2="267.9"/>
<line x1="514.83" y1="333.9" x2="514.83" y2="332.6"/>
<line x1="514.83" y1="266.6" x2="514.83" y2="267.9"/>
<line x1="519.17" y1="333.9" x2="519.17" y2="332.6"/>
<line x1="519.17" y1="266.6" x2="519.17" y2="267.9"/>
<line x1="523.5" y1="333.9" x2="523.5" y2="332.6"/>
<line x1="523.5" y1="266.6" x2="523.5" y2="267.9"/>
<line x1="527.83" y1="333.9" x2="527.83" y2="331.4"/>
<line x1="527.83" y1="266.6" x2="527.83" y2="269.1"/>
<line x1="532.17" y1="333.9" x2="532.17" y2="332.6"/>
<line x1="532.17" y1="266.6" x2="532.17" y2="267.9"/>
<line x1="536.5" y1="333.9" x2="536.5" y2="332.6"/>
<line x1="536.5" y1="266.6" x2="536.5" y2="267.9"/>
<line x1="540.83" y1="333.9" x2="540.83" y2="332.6"/>
<line x1="540.83" y1="266.6" x2="540.83" y2="267.9"/>
<line x1="545.17" y1="333.9" x2="545.17" y2="332.6"/>
<line x1="545.17" y1="266.6" x2="545.17" y2="267.9"/>
<line x1="549.5" y1="333.9" x2="549.5" y2="331.4"/>
<line x1="549.5" y1="266.6" x2="549.5" y2="269.1"/>
<line x1="553.83" y1="333.9" x2="553.83" y2="332.6"/>
<line x1="553.83" y1="266.6" x2="553.83" y2="267.9"/>
<line x1="558.17" y1="333.9" x2="558.17" y2="332.6"/>
<line x1="558.17" y1="266.6" x2="558.17" y2="267.9"/>
<line x1="562.5" y1="333.9" x2="562.5" y2="332.6"/>
<line x1="562.5" y1="266.6" x2="562.5" y2="267.9"/>
<line x1="566.83" y1="333.9" x2="566.83" y2="332.6"/>
<line x1="566.83" y1="266.6" x2="566.83" y2="267.9"/>
<line x1="571.17" y1="333.9" x2="571.17" y2="331.4"/>
<line x1="571.17" y1="266.6" x2="571.17" y2="269.1"/>
<line x1="575.5" y1="333.9" x2="575.5" y2="332.6"/>
<line x1="575.5" y1="266.6" x2="575.5" y2="267.9"/>
<line x1="579.83" y1="333.9" x2="579.83" y2="332.6"/>
<line x1="579.83" y1="266.6" x2="579.83" y2="267.9"/>
<line x1="584.17" y1="333.9" x2="584.17" y2="332.6"/>
<line x1="584.17" y1="266.6" x2="584.17" y2="267.9"/>
<line x1="588.5" y1="333.9" x2="588.5" y2="332.6"/>
<line x1="588.5" y1="266.6" x2="588.5" y2="267.9"/>
<line x1="592.83" y1="333.9" x2="592.83" y2="331.4"/>
<line x1="592.83" y1="266.6" x2="592.83" y2="269.1"/>
<line x1="597.17" y1="333.9" x2="597.17" y2="332.6"/>
<line x1="597.17" y1="266.6" x2="597.17" y2="267.9"/>
<line x1="601.5" y1="333.9" x2="601.5" y2="332.6"/>
<line x1="601.5" y1="266.6" x2="601.5" y2="267.9"/>
<line x1="605.83" y1="333.9" x2="605.83" y2="332.6"/>
<line x1="605.83" y1="266.6" x2="605.83" y2="267.9"/>
<line x1="610.17" y1="333.9" x2="610.17" y2="332.6"/>
<line x1="610.17" y1="266.6" x2="610.17" y2="267.9"/>
<line x1="614.5" y1="333.9" x2="614.5" y2="331.4"/>
<line x1="614.5" y1="266.6" x2="614.5" y2="269.1"/>
<line x1="618.83" y1="333.9" x2="618.83" y2="332.6"/>
<line x1="618.83" y1="266.6" x2="618.83" y2="267.9"/>
<line x1="623.17" y1="333.9" x2="623.17" y2="332.6"/>
<line x1="623.17" y1="266.6" x2="623.17" y2="267.9"/>
<line x1="627.5" y1="333.9" x2="627.5" y2="332.6"/>
<line x1="627.5" y1="266.6" x2="627.5" y2="267.9"/>
<line x1="631.83" y1="333.9" x2="631.83" y2="332.6"/>
<line x1="631.83" y1="266.6" x2="631.83" y2="267.9"/>
<line x1="636.17" y1="333.9" x2="636.17" y2="331.4"/>
<line x1="636.17" y1="266.6" x2="636.17" y2="269.1"/>
<line x1="640.5" y1="333.9" x2="640.5" y2="332.6"/>
<line x1="640.5" y1="266.6" x2="640.5" y2="267.9"/>
<line x1="644.83" y1="333.9" x2="644.83" y2="332.6"/>
<line x1="644.83" y1="266.6" x2="644.83" y2="267.9"/>
<line x1="649.17" y1="333.9" x2="649.17" y2="332.6"/>
<line x1="649.17" y1="266.6" x2="649.17" y2="267.9"/>
<line x1="653.5" y1="333.9" x2="653.5" y2="332.6"/>
<line x1="653.5" y1="266.6" x2="653.5" y2="267.9"/>
<line x1="657.83" y1="333.9" x2="657.83" y2="331.4"/>
<line x1="657.83" y1="266.6" x2="657.83" y2="269.1"/>
<line x1="662.17" y1="333.9" x2="662.17" y2="332.6"/>
<line x1="662.17" y1="266.6" x2="662.17" y2="267.9"/>
<line x1="666.5" y1="333.9" x2="666.5" y2="332.6"/>
<line x1="666.5" y1="266.6" x2="666.5" y2="267.9"/>
<line x1="670.83" y1="333.9" x2="670.83" y2="332.6"/>
<line x1="670.83" y1="266.6" x2="670.83" y2="267.9"/>
<line x1="675.17" y1="333.9" x2="675.17" y2="332.6"/>
<line x1="675.17" y1="266.6" x2="675.17" y2="267.9"/>
<line x1="484.5" y1="331.66" x2="485.8" y2="331.66"/>
<line x1="679.5" y1="331.66" x2="678.2" y2="331.66"/>
<line x1="484.5" y1="329.41" x2="485.8" y2="329.41"/>
<line x1="679.5" y1="329.41" x2="678.2" y2="329.41"/>
<line x1="484.5" y1="327.17" x2="485.8" y2="327.17"/>
<line x1="679.5" y1="327.17" x2="678.2" y2="327.17"/>
<line x1="484.5" y1="324.93" x2="485.8" y2="324.93"/>
<line x1="679.5" y1="324.93" x2="678.2" y2="324.93"/>
<line x1="484.5" y1="320.44" x2="485.8" y2="320.44"/>
<line x1="679.5" y1="320.44" x2="678.2" y2="320.44"/>
<line x1="484.5" y1="318.2" x2="485.8" y2="318.2"/>
<line x1="679.5" y1="318.2" x2="678.2" y2="318.2"/>
<line x1="484.5" y1="315.95" x2="485.8" y2="315.95"/>
<line x1="679.5" y1="315.95" x2="678.2" y2="315.95"/>
<line x1="484.5" y1="313.71" x2="485.8" y2="313.71"/>
<line x1="679.5" y1="313.71" x2="678.2" y2="313.71"/>
<line x1="484.5" y1="311.47" x2="485.8" y2="311.47"/>
<line x1="679.5" y1="311.47" x2="678.2" y2="311.47"/>
<line x1="484.5" y1="309.22" x2="485.8" y2="309.22"/>
<line x1="679.5" y1="309.22" x2="678.2" y2="309.22"/>
<line x1="484.5" y1="306.98" x2="485.8" y2="306.98"/>
<line x1="679.5" y1="306.98" x2="678.2" y2="306.98"/>
<line x1="484.5" y1="304.74" x2="485.8" y2="304.74"/>
<line x1="679.5" y1="304.74" x2="678.2" y2="304.74"/>
<line x1="484.5" y1="302.49" x2="485.8" y2="302.49"/>
<line x1="679.5" y1="302.49" x2="678.2" y2="302.49"/>
<line x1="484.5" y1="300.25" x2="487" y2="300.25"/>
<line x1="679.5" y1="300.25" x2="677" y2="300.25"/>
<line x1="484.5" y1="298.01" x2="485.8" y2="298.01"/>
<line x1="679.5" y1="298.01" x2="678.2" y2="298.01"/>
<line x1="484.5" y1="295.76" x2="485.8" y2="295.76"/>
<line x1="679.5" y1="295.76" x2="678.2" y2="295.76"/>
<line x1="484.5" y1="293.52" x2="485.8" y2="293.52"/>
<line x1="679.5" y1="293.52" x2="678.2" y2="293.52"/>
<line x1="484.5" y1="291.28" x2="485.8" y2="291.28"/>
<line x1="679.5" y1="291.28" x2="678.2" y2="291.28"/>
<line x1="484.5" y1="289.03" x2="485.8" y2="289.03"/>
<line x1="679.5" y1="289.03" x2="678.2" y2="289.03"/>
<line x1="484.5" y1="286.79" x2="485.8" y2="286.79"/>
<line x1="679.5" y1="286.79" x2="678.2" y2="286.79"/>
<line x1="484.5" y1="284.55" x2="485.8" y2="284.55"/>
<line x1="679.5" y1="284.55" x2="678.2" y2="284.55"/>
<line x1="484.5" y1="282.3" x2="485.8" y2="282.3"/>
<line x1="679.5" y1="282.3" x2="678.2" y2="282.3"/>
<line x1="484.5" y1="280.06" x2="485.8" y2="280.06"/>
<line x1="679.5" y1="280.06" x2="678.2" y2="280.06"/>
<line x1="484.5" y1="277.82" x2="487" y2="277.82"/>
<line x1="679.5" y1="277.82" x2="677" y2="277.82"/>
<line x1="484.5" y1="275.57" x2="485.8" y2="275.57"/>
<line x1="679.5" y1="275.57" x2="678.2" y2="275.57"/>
<line x1="484.5" y1="273.33" x2="485.8" y2="273.33"/>
<line x1="679.5" y1="273.33" x2="678.2" y2="273.33"/>
<line x1="484.5" y1="271.09" x2="485.8" y2="271.09"/>
<line x1="679.5" y1="271.09" x2="678.2" y2="271.09"/>
<line x1="484.5" y1="268.84" x2="485.8" y2="268.84"/>
<line x1="679.5" y1="268.84" x2="678.2" y2="268.84"/>
</g>
<line x1="509.5" y1="322.5" x2="566.8" y2="322.5" stroke="#a0a0a0" stroke-width="1"/>
<line x1="637.1" y1="322.5" x2="654.5" y2="322.5" stroke="#a0a0a0" stroke-width="1"/>
<mask id="m17" maskUnits="userSpaceOnUse" x="0" y="0" width="685" height="428"><rect x="0" y="0" width="685" height="428" fill="#fff"/><rect x="482.5" y="321" width="27" height="3" fill="#000"/><rect x="657.5" y="321" width="24" height="3" fill="#000"/></mask>
<g fill="none" stroke-width="1.0" stroke-linejoin="round">
<path d="M484.5,322.5L507.5,322.5C508.23,322.5 508.97,321.62 509.7,321C510.43,320.38 511.17,319.41 511.9,318.5C512.63,317.59 513.37,315.5 514.1,315.5C514.57,315.5 515.03,315.73 515.5,316C516,316.29 516.5,317.86 517,318.5C517.73,319.43 518.47,320.32 519.2,320.7C520.17,321.21 521.13,321.7 522.1,321.7C524.07,321.7 526.03,321.53 528,321.4C529.43,321.3 530.87,321 532.3,321C533.77,321 535.23,321.4 536.7,321.4C537.67,321.4 538.63,321 539.6,321C540.6,321 541.6,321.8 542.6,321.8C544.03,321.8 545.47,321.4 546.9,321.4C547.9,321.4 548.9,321.8 549.9,321.8C551.33,321.8 552.77,321.8 554.2,321.8C556.17,321.8 558.13,321.8 560.1,321.8C562.03,321.8 563.97,322.5 565.9,322.5L600,322.5L620,322.5L638,322.5C639.77,322.5 641.53,323.3 643.3,323.3C644.77,323.3 646.23,323.25 647.7,323.2C649.67,323.13 651.63,322.5 653.6,322.5L679.5,322.5" stroke="#ff3030" mask="url(#m17)"/>
<path d="M484.5,322.5L510.4,322.5C511.13,322.5 511.87,321.81 512.6,321C513.33,320.19 514.07,317.35 514.8,314.8C515.3,313.06 515.8,309.5 516.3,308.2C516.67,307.24 517.03,306.1 517.4,306.1C517.8,306.1 518.2,307.17 518.6,308.2C519.03,309.32 519.47,313.35 519.9,314.8C520.4,316.47 520.9,318.5 521.4,318.5C522.03,318.5 522.67,318.5 523.3,318.5C524.13,318.5 524.97,319.45 525.8,319.9C526.77,320.42 527.73,321.4 528.7,321.4C529.9,321.4 531.1,321.4 532.3,321.4C533.53,321.4 534.77,321.07 536,320.7C536.83,320.45 537.67,319.2 538.5,319.2C539.37,319.2 540.23,320.4 541.1,320.7C542.07,321.03 543.03,321.4 544,321.4C544.97,321.4 545.93,320.28 546.9,319.9C547.63,319.61 548.37,319.2 549.1,319.2C550.07,319.2 551.03,319.55 552,319.9C552.73,320.17 553.47,321.4 554.2,321.4C555.43,321.4 556.67,321.18 557.9,321C558.87,320.86 559.83,320.4 560.8,320.4C561.77,320.4 562.73,321.27 563.7,321.4C565.4,321.63 567.1,321.67 568.8,321.8C571.73,322.03 574.67,322.5 577.6,322.5C579.53,322.5 581.47,321.7 583.4,321.7C585.6,321.7 587.8,321.8 590,321.8C600.4,321.8 610.8,321.7 621.2,321.7C627.1,321.7 633,322.5 638.9,322.5C639.9,322.5 640.9,320.45 641.9,319.5C643.27,318.2 644.63,315.8 646,315.8C646.83,315.8 647.67,318.01 648.5,319.2C649.23,320.25 649.97,322.5 650.7,322.5C651.67,322.5 652.63,321.7 653.6,321.7C654.6,321.7 655.6,322.5 656.6,322.5L679.5,322.5" stroke="#38f038"/>
</g>
<rect x="484.5" y="266.6" width="195" height="67.3" fill="none" stroke="#999999" stroke-width="1"/>
<g fill="#111" font-family='"Liberation Sans", sans-serif'>
<text transform="matrix(0.906,0,0,1,479.3,325.7)" text-anchor="end" font-size="9.6">0</text>
<text transform="matrix(0.906,0,0,1,479.3,303.27)" text-anchor="end" font-size="9.6">2</text>
<text transform="matrix(0.906,0,0,1,479.3,280.83)" text-anchor="end" font-size="9.6">4</text>
<text x="627.9" y="276.2" text-anchor="start" font-size="8.9" font-weight="normal" font-style="normal"><tspan font-style="italic">Y</tspan> direction</text>
</g>
<g stroke="#6a6a6a" stroke-width="0.9">
<line x1="488.83" y1="401.3" x2="488.83" y2="400"/>
<line x1="488.83" y1="333.9" x2="488.83" y2="335.2"/>
<line x1="493.17" y1="401.3" x2="493.17" y2="400"/>
<line x1="493.17" y1="333.9" x2="493.17" y2="335.2"/>
<line x1="497.5" y1="401.3" x2="497.5" y2="400"/>
<line x1="497.5" y1="333.9" x2="497.5" y2="335.2"/>
<line x1="501.83" y1="401.3" x2="501.83" y2="400"/>
<line x1="501.83" y1="333.9" x2="501.83" y2="335.2"/>
<line x1="506.17" y1="401.3" x2="506.17" y2="398.8"/>
<line x1="506.17" y1="333.9" x2="506.17" y2="336.4"/>
<line x1="510.5" y1="401.3" x2="510.5" y2="400"/>
<line x1="510.5" y1="333.9" x2="510.5" y2="335.2"/>
<line x1="514.83" y1="401.3" x2="514.83" y2="400"/>
<line x1="514.83" y1="333.9" x2="514.83" y2="335.2"/>
<line x1="519.17" y1="401.3" x2="519.17" y2="400"/>
<line x1="519.17" y1="333.9" x2="519.17" y2="335.2"/>
<line x1="523.5" y1="401.3" x2="523.5" y2="400"/>
<line x1="523.5" y1="333.9" x2="523.5" y2="335.2"/>
<line x1="527.83" y1="401.3" x2="527.83" y2="398.8"/>
<line x1="527.83" y1="333.9" x2="527.83" y2="336.4"/>
<line x1="532.17" y1="401.3" x2="532.17" y2="400"/>
<line x1="532.17" y1="333.9" x2="532.17" y2="335.2"/>
<line x1="536.5" y1="401.3" x2="536.5" y2="400"/>
<line x1="536.5" y1="333.9" x2="536.5" y2="335.2"/>
<line x1="540.83" y1="401.3" x2="540.83" y2="400"/>
<line x1="540.83" y1="333.9" x2="540.83" y2="335.2"/>
<line x1="545.17" y1="401.3" x2="545.17" y2="400"/>
<line x1="545.17" y1="333.9" x2="545.17" y2="335.2"/>
<line x1="549.5" y1="401.3" x2="549.5" y2="398.8"/>
<line x1="549.5" y1="333.9" x2="549.5" y2="336.4"/>
<line x1="553.83" y1="401.3" x2="553.83" y2="400"/>
<line x1="553.83" y1="333.9" x2="553.83" y2="335.2"/>
<line x1="558.17" y1="401.3" x2="558.17" y2="400"/>
<line x1="558.17" y1="333.9" x2="558.17" y2="335.2"/>
<line x1="562.5" y1="401.3" x2="562.5" y2="400"/>
<line x1="562.5" y1="333.9" x2="562.5" y2="335.2"/>
<line x1="566.83" y1="401.3" x2="566.83" y2="400"/>
<line x1="566.83" y1="333.9" x2="566.83" y2="335.2"/>
<line x1="571.17" y1="401.3" x2="571.17" y2="398.8"/>
<line x1="571.17" y1="333.9" x2="571.17" y2="336.4"/>
<line x1="575.5" y1="401.3" x2="575.5" y2="400"/>
<line x1="575.5" y1="333.9" x2="575.5" y2="335.2"/>
<line x1="579.83" y1="401.3" x2="579.83" y2="400"/>
<line x1="579.83" y1="333.9" x2="579.83" y2="335.2"/>
<line x1="584.17" y1="401.3" x2="584.17" y2="400"/>
<line x1="584.17" y1="333.9" x2="584.17" y2="335.2"/>
<line x1="588.5" y1="401.3" x2="588.5" y2="400"/>
<line x1="588.5" y1="333.9" x2="588.5" y2="335.2"/>
<line x1="592.83" y1="401.3" x2="592.83" y2="398.8"/>
<line x1="592.83" y1="333.9" x2="592.83" y2="336.4"/>
<line x1="597.17" y1="401.3" x2="597.17" y2="400"/>
<line x1="597.17" y1="333.9" x2="597.17" y2="335.2"/>
<line x1="601.5" y1="401.3" x2="601.5" y2="400"/>
<line x1="601.5" y1="333.9" x2="601.5" y2="335.2"/>
<line x1="605.83" y1="401.3" x2="605.83" y2="400"/>
<line x1="605.83" y1="333.9" x2="605.83" y2="335.2"/>
<line x1="610.17" y1="401.3" x2="610.17" y2="400"/>
<line x1="610.17" y1="333.9" x2="610.17" y2="335.2"/>
<line x1="614.5" y1="401.3" x2="614.5" y2="398.8"/>
<line x1="614.5" y1="333.9" x2="614.5" y2="336.4"/>
<line x1="618.83" y1="401.3" x2="618.83" y2="400"/>
<line x1="618.83" y1="333.9" x2="618.83" y2="335.2"/>
<line x1="623.17" y1="401.3" x2="623.17" y2="400"/>
<line x1="623.17" y1="333.9" x2="623.17" y2="335.2"/>
<line x1="627.5" y1="401.3" x2="627.5" y2="400"/>
<line x1="627.5" y1="333.9" x2="627.5" y2="335.2"/>
<line x1="631.83" y1="401.3" x2="631.83" y2="400"/>
<line x1="631.83" y1="333.9" x2="631.83" y2="335.2"/>
<line x1="636.17" y1="401.3" x2="636.17" y2="398.8"/>
<line x1="636.17" y1="333.9" x2="636.17" y2="336.4"/>
<line x1="640.5" y1="401.3" x2="640.5" y2="400"/>
<line x1="640.5" y1="333.9" x2="640.5" y2="335.2"/>
<line x1="644.83" y1="401.3" x2="644.83" y2="400"/>
<line x1="644.83" y1="333.9" x2="644.83" y2="335.2"/>
<line x1="649.17" y1="401.3" x2="649.17" y2="400"/>
<line x1="649.17" y1="333.9" x2="649.17" y2="335.2"/>
<line x1="653.5" y1="401.3" x2="653.5" y2="400"/>
<line x1="653.5" y1="333.9" x2="653.5" y2="335.2"/>
<line x1="657.83" y1="401.3" x2="657.83" y2="398.8"/>
<line x1="657.83" y1="333.9" x2="657.83" y2="336.4"/>
<line x1="662.17" y1="401.3" x2="662.17" y2="400"/>
<line x1="662.17" y1="333.9" x2="662.17" y2="335.2"/>
<line x1="666.5" y1="401.3" x2="666.5" y2="400"/>
<line x1="666.5" y1="333.9" x2="666.5" y2="335.2"/>
<line x1="670.83" y1="401.3" x2="670.83" y2="400"/>
<line x1="670.83" y1="333.9" x2="670.83" y2="335.2"/>
<line x1="675.17" y1="401.3" x2="675.17" y2="400"/>
<line x1="675.17" y1="333.9" x2="675.17" y2="335.2"/>
<line x1="484.5" y1="399.05" x2="485.8" y2="399.05"/>
<line x1="679.5" y1="399.05" x2="678.2" y2="399.05"/>
<line x1="484.5" y1="396.81" x2="485.8" y2="396.81"/>
<line x1="679.5" y1="396.81" x2="678.2" y2="396.81"/>
<line x1="484.5" y1="394.56" x2="485.8" y2="394.56"/>
<line x1="679.5" y1="394.56" x2="678.2" y2="394.56"/>
<line x1="484.5" y1="392.31" x2="485.8" y2="392.31"/>
<line x1="679.5" y1="392.31" x2="678.2" y2="392.31"/>
<line x1="484.5" y1="387.82" x2="485.8" y2="387.82"/>
<line x1="679.5" y1="387.82" x2="678.2" y2="387.82"/>
<line x1="484.5" y1="385.57" x2="485.8" y2="385.57"/>
<line x1="679.5" y1="385.57" x2="678.2" y2="385.57"/>
<line x1="484.5" y1="383.33" x2="485.8" y2="383.33"/>
<line x1="679.5" y1="383.33" x2="678.2" y2="383.33"/>
<line x1="484.5" y1="381.08" x2="485.8" y2="381.08"/>
<line x1="679.5" y1="381.08" x2="678.2" y2="381.08"/>
<line x1="484.5" y1="378.83" x2="485.8" y2="378.83"/>
<line x1="679.5" y1="378.83" x2="678.2" y2="378.83"/>
<line x1="484.5" y1="376.59" x2="485.8" y2="376.59"/>
<line x1="679.5" y1="376.59" x2="678.2" y2="376.59"/>
<line x1="484.5" y1="374.34" x2="485.8" y2="374.34"/>
<line x1="679.5" y1="374.34" x2="678.2" y2="374.34"/>
<line x1="484.5" y1="372.09" x2="485.8" y2="372.09"/>
<line x1="679.5" y1="372.09" x2="678.2" y2="372.09"/>
<line x1="484.5" y1="369.85" x2="485.8" y2="369.85"/>
<line x1="679.5" y1="369.85" x2="678.2" y2="369.85"/>
<line x1="484.5" y1="367.6" x2="487" y2="367.6"/>
<line x1="679.5" y1="367.6" x2="677" y2="367.6"/>
<line x1="484.5" y1="365.35" x2="485.8" y2="365.35"/>
<line x1="679.5" y1="365.35" x2="678.2" y2="365.35"/>
<line x1="484.5" y1="363.11" x2="485.8" y2="363.11"/>
<line x1="679.5" y1="363.11" x2="678.2" y2="363.11"/>
<line x1="484.5" y1="360.86" x2="485.8" y2="360.86"/>
<line x1="679.5" y1="360.86" x2="678.2" y2="360.86"/>
<line x1="484.5" y1="358.61" x2="485.8" y2="358.61"/>
<line x1="679.5" y1="358.61" x2="678.2" y2="358.61"/>
<line x1="484.5" y1="356.37" x2="485.8" y2="356.37"/>
<line x1="679.5" y1="356.37" x2="678.2" y2="356.37"/>
<line x1="484.5" y1="354.12" x2="485.8" y2="354.12"/>
<line x1="679.5" y1="354.12" x2="678.2" y2="354.12"/>
<line x1="484.5" y1="351.87" x2="485.8" y2="351.87"/>
<line x1="679.5" y1="351.87" x2="678.2" y2="351.87"/>
<line x1="484.5" y1="349.63" x2="485.8" y2="349.63"/>
<line x1="679.5" y1="349.63" x2="678.2" y2="349.63"/>
<line x1="484.5" y1="347.38" x2="485.8" y2="347.38"/>
<line x1="679.5" y1="347.38" x2="678.2" y2="347.38"/>
<line x1="484.5" y1="345.13" x2="487" y2="345.13"/>
<line x1="679.5" y1="345.13" x2="677" y2="345.13"/>
<line x1="484.5" y1="342.89" x2="485.8" y2="342.89"/>
<line x1="679.5" y1="342.89" x2="678.2" y2="342.89"/>
<line x1="484.5" y1="340.64" x2="485.8" y2="340.64"/>
<line x1="679.5" y1="340.64" x2="678.2" y2="340.64"/>
<line x1="484.5" y1="338.39" x2="485.8" y2="338.39"/>
<line x1="679.5" y1="338.39" x2="678.2" y2="338.39"/>
<line x1="484.5" y1="336.15" x2="485.8" y2="336.15"/>
<line x1="679.5" y1="336.15" x2="678.2" y2="336.15"/>
</g>
<line x1="503.7" y1="390" x2="517.9" y2="390" stroke="#a0a0a0" stroke-width="1"/>
<line x1="641.1" y1="390" x2="656.4" y2="390" stroke="#a0a0a0" stroke-width="1"/>
<mask id="m18" maskUnits="userSpaceOnUse" x="0" y="0" width="685" height="428"><rect x="0" y="0" width="685" height="428" fill="#fff"/><rect x="482.5" y="388.5" width="21.2" height="3" fill="#000"/><rect x="517.9" y="388.5" width="122.7" height="3" fill="#000"/><rect x="656.9" y="388.5" width="24.6" height="3" fill="#000"/></mask>
<g fill="none" stroke-width="1.0" stroke-linejoin="round">
<path d="M484.5,390L504.6,390C505.1,390 505.6,388.39 506.1,387.7C506.8,386.74 507.5,385.1 508.2,385.1C508.93,385.1 509.67,386.3 510.4,386.3C511.13,386.3 511.87,386.3 512.6,386.3C513.23,386.3 513.87,386.65 514.5,387C515.1,387.33 515.7,388.36 516.3,388.9C516.77,389.32 517.23,390 517.7,390C522.1,390 526.5,388.9 530.9,388.9C534.3,388.9 537.7,389.08 541.1,389.2C547.4,389.41 553.7,390 560,390L642,390C642.67,390 643.33,390 644,390C644.83,390 645.67,389.2 646.5,389.2C648,389.2 649.5,389.38 651,389.5C652.5,389.62 654,390 655.5,390L679.5,390" stroke="#ff3030" mask="url(#m18)"/>
<path d="M484.5,390L504.6,390C505.33,390 506.07,388.45 506.8,387.7C507.27,387.22 507.73,386.3 508.2,386.3C508.93,386.3 509.67,387.7 510.4,387.7C511.13,387.7 511.87,387.4 512.6,387.4C513.33,387.4 514.07,388.08 514.8,388.5C515.53,388.92 516.27,390 517,390C518,390 519,390 520,390L641.5,390C642.1,390 642.7,389.43 643.3,389.1C644.33,388.52 645.37,387.1 646.4,387.1C647.43,387.1 648.47,387.51 649.5,387.8C650.5,388.08 651.5,388.56 652.5,388.9C653.67,389.3 654.83,390 656,390L679.5,390" stroke="#38f038"/>
</g>
<rect x="484.5" y="333.9" width="195" height="67.4" fill="none" stroke="#999999" stroke-width="1"/>
<g fill="#111" font-family='"Liberation Sans", sans-serif'>
<text transform="matrix(0.906,0,0,1,479.3,393.2)" text-anchor="end" font-size="9.6">0</text>
<text transform="matrix(0.906,0,0,1,479.3,370.73)" text-anchor="end" font-size="9.6">2</text>
<text transform="matrix(0.906,0,0,1,479.3,348.27)" text-anchor="end" font-size="9.6">4</text>
<text x="627.9" y="343.5" text-anchor="start" font-size="8.9" font-weight="normal" font-style="normal"><tspan font-style="italic">Z</tspan> direction</text>
</g>
<g fill="#111" font-family='"Liberation Sans", sans-serif'>
<text transform="matrix(0.906,0,0,1,484.5,413.1)" text-anchor="middle" font-size="9.6">-5</text>
<text transform="matrix(0.906,0,0,1,507.07,413.1)" text-anchor="middle" font-size="9.6">0</text>
<text transform="matrix(0.906,0,0,1,528.73,413.1)" text-anchor="middle" font-size="9.6">5</text>
<text transform="matrix(0.906,0,0,1,550.4,413.1)" text-anchor="middle" font-size="9.6">10</text>
<text transform="matrix(0.906,0,0,1,572.07,413.1)" text-anchor="middle" font-size="9.6">15</text>
<text transform="matrix(0.906,0,0,1,593.73,413.1)" text-anchor="middle" font-size="9.6">20</text>
<text transform="matrix(0.906,0,0,1,615.4,413.1)" text-anchor="middle" font-size="9.6">25</text>
<text transform="matrix(0.906,0,0,1,637.07,413.1)" text-anchor="middle" font-size="9.6">30</text>
<text transform="matrix(0.906,0,0,1,658.73,413.1)" text-anchor="middle" font-size="9.6">35</text>
<text transform="matrix(0.906,0,0,1,680.4,413.1)" text-anchor="middle" font-size="9.6">40</text>
<text x="582" y="425.8" text-anchor="middle" font-size="8.85" font-weight="normal" font-style="normal">Frequency (THz)</text>
<line x1="587.3" y1="220.4" x2="610.7" y2="220.4" stroke="#ff3030" stroke-width="1.1"/>
<line x1="587.3" y1="229.3" x2="610.7" y2="229.3" stroke="#38f038" stroke-width="1.1"/>
<text x="615.7" y="222.9" text-anchor="start" font-size="8.1" font-weight="normal" font-style="normal">Ca<tspan font-size="6.6" dy="1.9">2</tspan><tspan dy="-1.9">CoO</tspan><tspan font-size="6.6" dy="2.1">3</tspan><tspan dy="-2.1"> layer</tspan></text>
<text x="615.7" y="230.6" text-anchor="start" font-size="8.1" font-weight="normal" font-style="normal">CoO<tspan font-size="6.6" dy="2.5">2</tspan><tspan dy="-2.5"> layer</tspan></text>
</g>
<g fill="#000" font-family='"Liberation Sans", sans-serif' font-weight="bold" font-size="14.5">
<text x="-0.3" y="10.8">a</text>
<text x="243.4" y="10.8">b</text>
<text x="466.5" y="10.9">c</text>
<text x="-0.5" y="192.1">d</text>
<text x="243.4" y="192.1">e</text>
<text x="466.3" y="192.1">f</text>
</g>
<g fill="#111" font-family='"Liberation Sans", sans-serif' font-size="8.7">
<text transform="translate(6.7,86.3) rotate(-90) scale(0.906,1)" font-size="9.6" text-anchor="middle">Phonon density of states (a.u.)</text>
<text transform="translate(6.7,300.0) rotate(-90) scale(0.906,1)" font-size="9.6" text-anchor="middle">Spectral partial thermal conductivity (W/mK•THz)</text>
</g>
</svg>
</body></html>
